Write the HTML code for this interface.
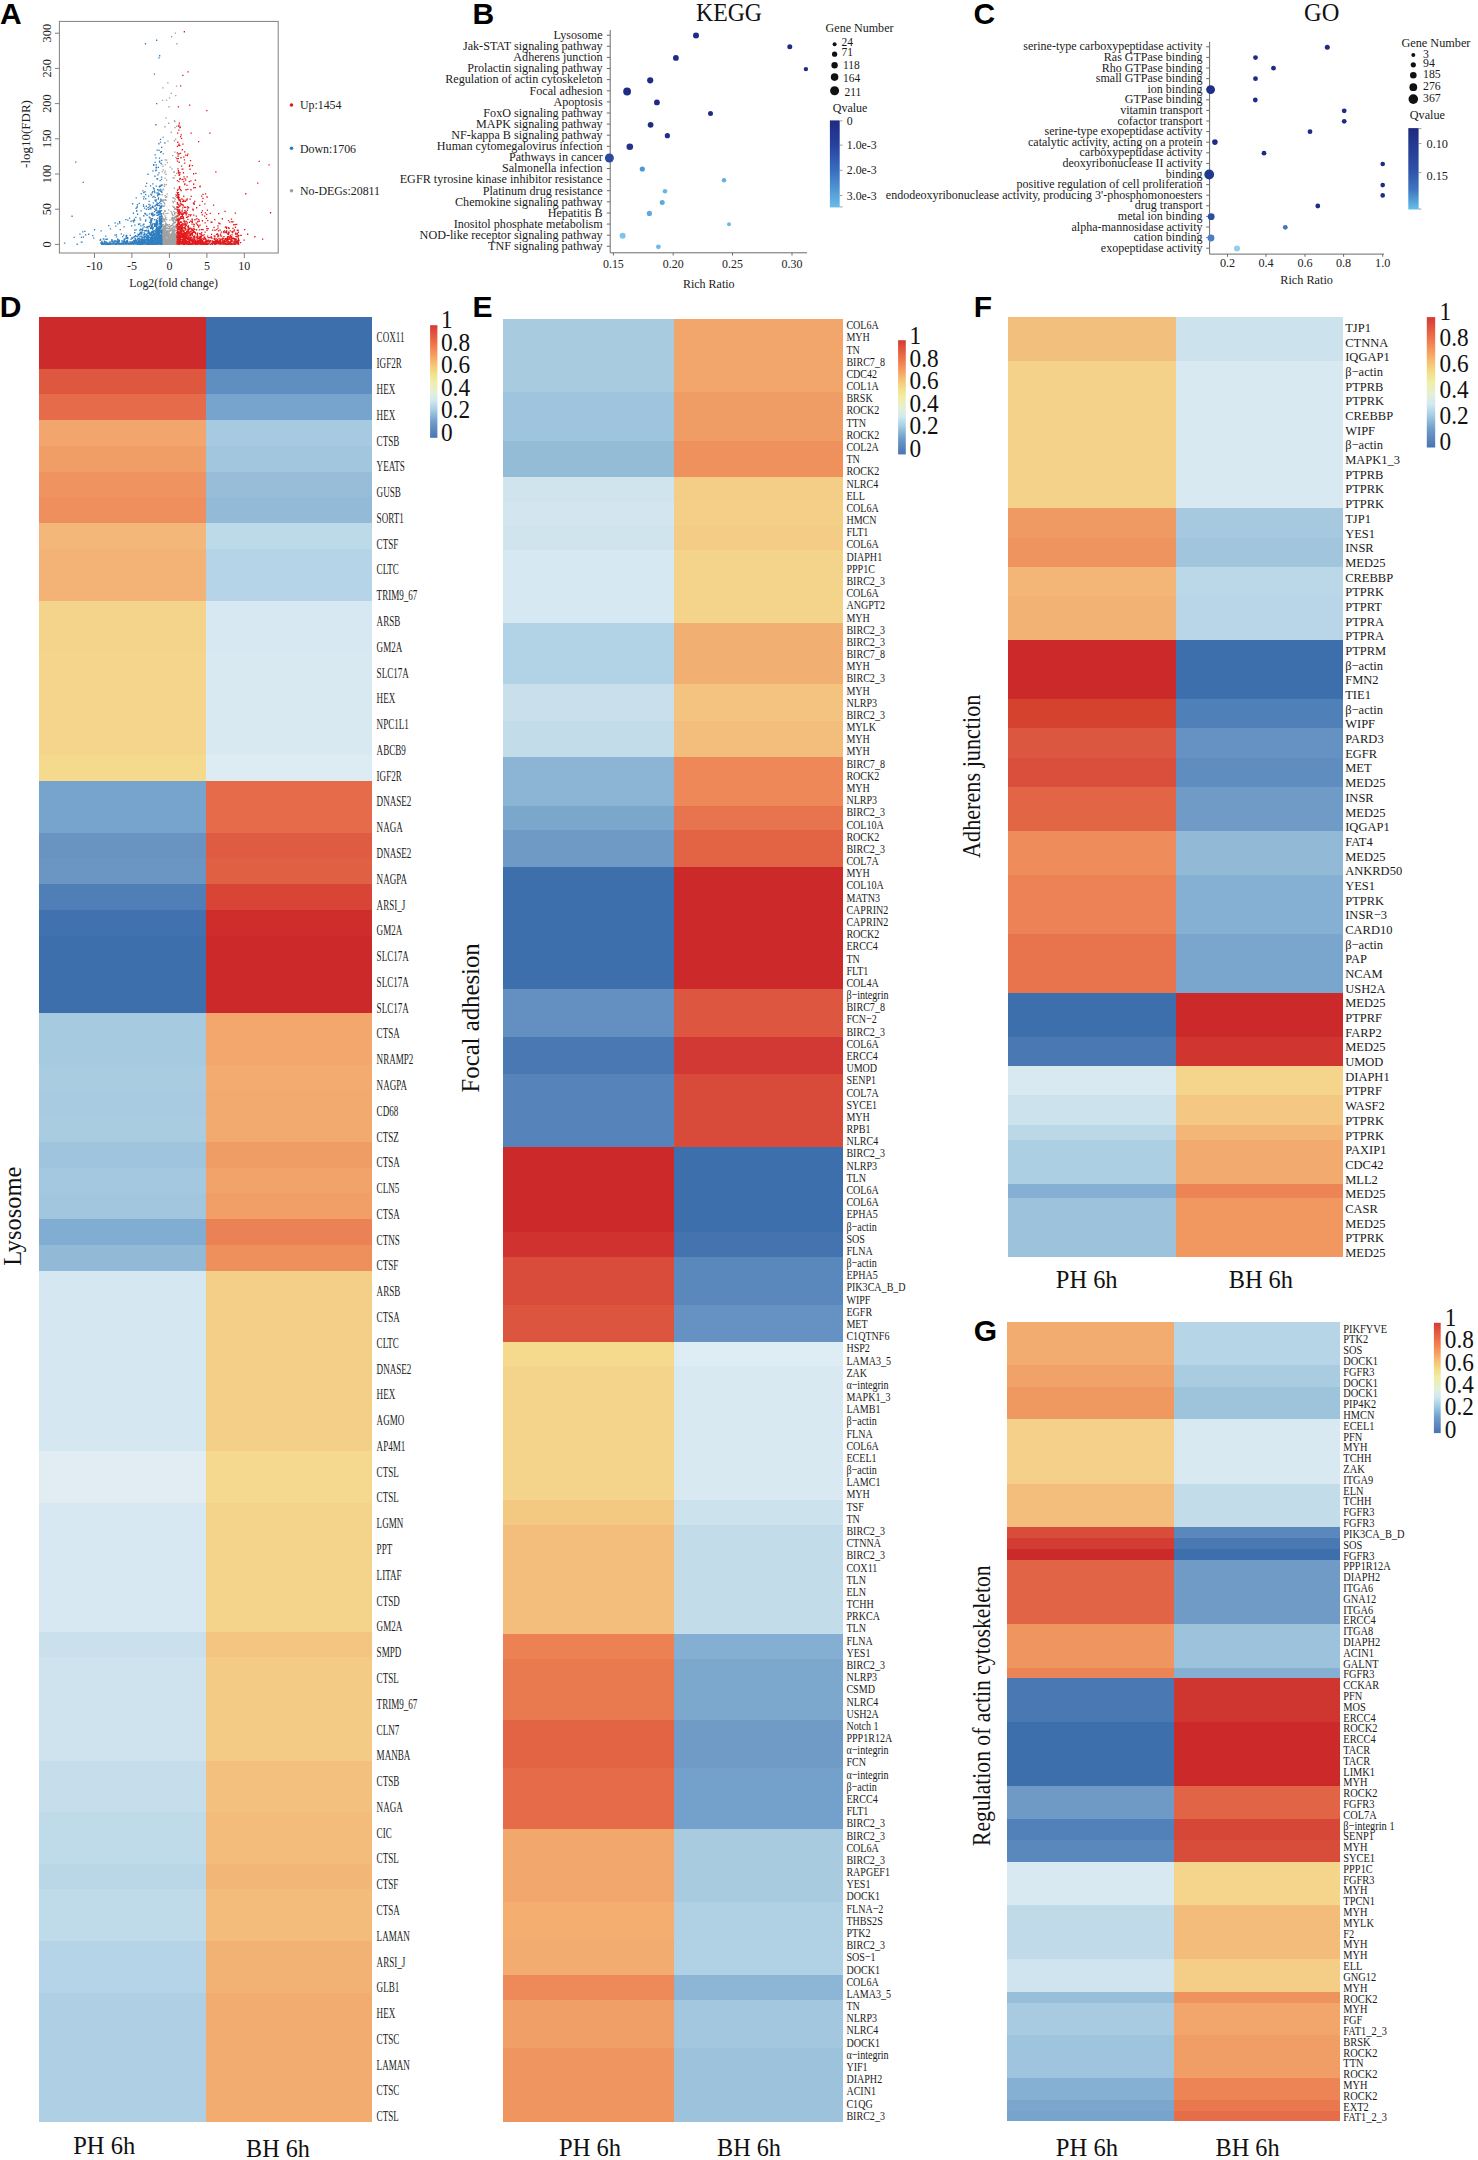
<!DOCTYPE html>
<html><head><meta charset="utf-8"><style>html,body{margin:0;padding:0;background:#fff;width:1478px;height:2160px;overflow:hidden}</style></head>
<body>
<svg width="1478" height="2160" viewBox="0 0 1478 2160" style="display:block;font-family:'Liberation Serif', serif">
<rect width="1478" height="2160" fill="#fff"/>
<rect x="59.4" y="21.4" width="218.8" height="231.6" fill="none" stroke="#808080" stroke-width="1"/>
<line x1="54.9" y1="244.4" x2="59.4" y2="244.4" stroke="#808080" stroke-width="1"/>
<text transform="translate(51.4,244.4) rotate(-90)" font-size="12.3" text-anchor="middle" fill="#222">0</text>
<line x1="54.9" y1="209.2" x2="59.4" y2="209.2" stroke="#808080" stroke-width="1"/>
<text transform="translate(51.4,209.2) rotate(-90)" font-size="12.3" text-anchor="middle" fill="#222">50</text>
<line x1="54.9" y1="174.0" x2="59.4" y2="174.0" stroke="#808080" stroke-width="1"/>
<text transform="translate(51.4,174.0) rotate(-90)" font-size="12.3" text-anchor="middle" fill="#222">100</text>
<line x1="54.9" y1="138.8" x2="59.4" y2="138.8" stroke="#808080" stroke-width="1"/>
<text transform="translate(51.4,138.8) rotate(-90)" font-size="12.3" text-anchor="middle" fill="#222">150</text>
<line x1="54.9" y1="103.6" x2="59.4" y2="103.6" stroke="#808080" stroke-width="1"/>
<text transform="translate(51.4,103.6) rotate(-90)" font-size="12.3" text-anchor="middle" fill="#222">200</text>
<line x1="54.9" y1="68.4" x2="59.4" y2="68.4" stroke="#808080" stroke-width="1"/>
<text transform="translate(51.4,68.4) rotate(-90)" font-size="12.3" text-anchor="middle" fill="#222">250</text>
<line x1="54.9" y1="33.2" x2="59.4" y2="33.2" stroke="#808080" stroke-width="1"/>
<text transform="translate(51.4,33.2) rotate(-90)" font-size="12.3" text-anchor="middle" fill="#222">300</text>
<line x1="94.5" y1="253.0" x2="94.5" y2="258.0" stroke="#808080" stroke-width="1"/>
<text x="94.5" y="270.2" font-size="12" text-anchor="middle" fill="#222">-10</text>
<line x1="131.9" y1="253.0" x2="131.9" y2="258.0" stroke="#808080" stroke-width="1"/>
<text x="131.9" y="270.2" font-size="12" text-anchor="middle" fill="#222">-5</text>
<line x1="169.4" y1="253.0" x2="169.4" y2="258.0" stroke="#808080" stroke-width="1"/>
<text x="169.4" y="270.2" font-size="12" text-anchor="middle" fill="#222">0</text>
<line x1="206.9" y1="253.0" x2="206.9" y2="258.0" stroke="#808080" stroke-width="1"/>
<text x="206.9" y="270.2" font-size="12" text-anchor="middle" fill="#222">5</text>
<line x1="244.3" y1="253.0" x2="244.3" y2="258.0" stroke="#808080" stroke-width="1"/>
<text x="244.3" y="270.2" font-size="12" text-anchor="middle" fill="#222">10</text>
<text x="173.6" y="286.8" font-size="11.9" text-anchor="middle" fill="#222">Log2(fold change)</text>
<text transform="translate(29.6,134) rotate(-90)" font-size="13" text-anchor="middle" fill="#222">-log10(FDR)</text>
<circle cx="291.5" cy="105" r="1.8" fill="#E31A1C"/>
<text x="299.9" y="109.3" font-size="11.9" text-anchor="start" fill="#222">Up:1454</text>
<circle cx="291.5" cy="148.3" r="1.8" fill="#2F7EC0"/>
<text x="299.9" y="152.6" font-size="11.9" text-anchor="start" fill="#222">Down:1706</text>
<circle cx="291.5" cy="190.8" r="1.8" fill="#A0A0A0"/>
<text x="299.9" y="195.1" font-size="11.9" text-anchor="start" fill="#222">No-DEGs:20811</text>
<rect x="103" y="242.6" width="135.5" height="2.2" fill="#A8A8A8"/>
<path d="M166.1 242.7h1.3v1.3h-1.3zM171.0 243.3h1.3v1.3h-1.3zM169.3 240.9h1.3v1.3h-1.3zM162.1 239.3h1.3v1.3h-1.3zM161.8 240.1h1.3v1.3h-1.3zM162.3 243.1h1.3v1.3h-1.3zM167.6 232.6h1.3v1.3h-1.3zM163.1 242.1h1.3v1.3h-1.3zM170.7 225.1h1.3v1.3h-1.3zM169.9 240.5h1.3v1.3h-1.3zM175.9 243.4h1.3v1.3h-1.3zM174.1 241.6h1.3v1.3h-1.3zM163.4 243.0h1.3v1.3h-1.3zM165.9 233.0h1.3v1.3h-1.3zM164.0 238.2h1.3v1.3h-1.3zM170.8 240.8h1.3v1.3h-1.3zM169.5 243.3h1.3v1.3h-1.3zM162.2 242.3h1.3v1.3h-1.3zM171.5 240.2h1.3v1.3h-1.3zM166.0 238.2h1.3v1.3h-1.3zM168.0 241.5h1.3v1.3h-1.3zM173.2 236.1h1.3v1.3h-1.3zM164.9 238.3h1.3v1.3h-1.3zM169.1 230.6h1.3v1.3h-1.3zM172.2 241.6h1.3v1.3h-1.3zM175.9 243.0h1.3v1.3h-1.3zM167.5 234.8h1.3v1.3h-1.3zM163.5 239.5h1.3v1.3h-1.3zM161.8 236.8h1.3v1.3h-1.3zM172.7 238.4h1.3v1.3h-1.3zM174.4 241.4h1.3v1.3h-1.3zM171.7 238.0h1.3v1.3h-1.3zM169.9 239.9h1.3v1.3h-1.3zM173.8 225.4h1.3v1.3h-1.3zM168.4 236.8h1.3v1.3h-1.3zM162.2 236.1h1.3v1.3h-1.3zM171.0 212.2h1.3v1.3h-1.3zM173.6 241.6h1.3v1.3h-1.3zM167.0 236.8h1.3v1.3h-1.3zM161.6 239.8h1.3v1.3h-1.3zM163.8 243.0h1.3v1.3h-1.3zM162.1 234.5h1.3v1.3h-1.3zM163.2 241.9h1.3v1.3h-1.3zM167.1 230.8h1.3v1.3h-1.3zM162.5 240.0h1.3v1.3h-1.3zM169.5 230.1h1.3v1.3h-1.3zM173.5 231.1h1.3v1.3h-1.3zM165.4 240.3h1.3v1.3h-1.3zM166.6 230.1h1.3v1.3h-1.3zM175.6 242.7h1.3v1.3h-1.3zM163.9 242.1h1.3v1.3h-1.3zM164.8 239.5h1.3v1.3h-1.3zM170.1 241.8h1.3v1.3h-1.3zM161.3 240.3h1.3v1.3h-1.3zM166.8 238.5h1.3v1.3h-1.3zM175.5 236.3h1.3v1.3h-1.3zM169.0 237.7h1.3v1.3h-1.3zM171.4 243.4h1.3v1.3h-1.3zM174.7 234.2h1.3v1.3h-1.3zM174.4 233.6h1.3v1.3h-1.3zM167.1 240.5h1.3v1.3h-1.3zM162.8 237.4h1.3v1.3h-1.3zM162.2 243.3h1.3v1.3h-1.3zM164.4 242.6h1.3v1.3h-1.3zM166.4 243.4h1.3v1.3h-1.3zM161.3 242.7h1.3v1.3h-1.3zM162.8 240.9h1.3v1.3h-1.3zM161.6 230.6h1.3v1.3h-1.3zM170.5 242.7h1.3v1.3h-1.3zM165.0 241.0h1.3v1.3h-1.3zM166.7 242.9h1.3v1.3h-1.3zM174.0 212.2h1.3v1.3h-1.3zM168.2 239.6h1.3v1.3h-1.3zM162.5 243.1h1.3v1.3h-1.3zM166.4 241.8h1.3v1.3h-1.3zM173.7 242.6h1.3v1.3h-1.3zM161.6 224.6h1.3v1.3h-1.3zM169.2 242.7h1.3v1.3h-1.3zM169.4 243.6h1.3v1.3h-1.3zM169.2 219.4h1.3v1.3h-1.3zM174.2 236.2h1.3v1.3h-1.3zM165.2 240.9h1.3v1.3h-1.3zM163.8 234.4h1.3v1.3h-1.3zM169.2 234.2h1.3v1.3h-1.3zM166.2 242.2h1.3v1.3h-1.3zM173.4 217.2h1.3v1.3h-1.3zM174.0 233.4h1.3v1.3h-1.3zM173.5 235.2h1.3v1.3h-1.3zM164.7 239.1h1.3v1.3h-1.3zM166.6 243.6h1.3v1.3h-1.3zM161.7 241.7h1.3v1.3h-1.3zM165.1 236.3h1.3v1.3h-1.3zM175.6 240.0h1.3v1.3h-1.3zM175.3 215.7h1.3v1.3h-1.3zM175.6 240.9h1.3v1.3h-1.3zM164.6 242.1h1.3v1.3h-1.3zM164.2 242.3h1.3v1.3h-1.3zM170.6 229.1h1.3v1.3h-1.3zM173.8 239.6h1.3v1.3h-1.3zM171.0 233.6h1.3v1.3h-1.3zM162.5 236.9h1.3v1.3h-1.3zM174.9 234.1h1.3v1.3h-1.3zM172.5 239.6h1.3v1.3h-1.3zM163.9 233.9h1.3v1.3h-1.3zM166.2 233.5h1.3v1.3h-1.3zM175.8 240.6h1.3v1.3h-1.3zM167.3 225.2h1.3v1.3h-1.3zM172.1 242.6h1.3v1.3h-1.3zM163.2 242.7h1.3v1.3h-1.3zM174.8 233.3h1.3v1.3h-1.3zM163.4 232.7h1.3v1.3h-1.3zM175.9 237.0h1.3v1.3h-1.3zM166.5 238.7h1.3v1.3h-1.3zM163.2 243.7h1.3v1.3h-1.3zM175.8 237.1h1.3v1.3h-1.3zM169.1 226.6h1.3v1.3h-1.3zM167.8 230.7h1.3v1.3h-1.3zM173.6 242.2h1.3v1.3h-1.3zM165.0 241.6h1.3v1.3h-1.3zM164.9 238.2h1.3v1.3h-1.3zM165.1 240.3h1.3v1.3h-1.3zM163.2 228.5h1.3v1.3h-1.3zM166.6 239.9h1.3v1.3h-1.3zM170.0 228.9h1.3v1.3h-1.3zM167.6 227.9h1.3v1.3h-1.3zM168.8 238.9h1.3v1.3h-1.3zM169.1 243.6h1.3v1.3h-1.3zM167.9 242.5h1.3v1.3h-1.3zM161.3 233.6h1.3v1.3h-1.3zM163.8 239.7h1.3v1.3h-1.3zM172.1 238.6h1.3v1.3h-1.3zM166.1 239.1h1.3v1.3h-1.3zM169.6 234.0h1.3v1.3h-1.3zM162.8 238.5h1.3v1.3h-1.3zM165.0 241.7h1.3v1.3h-1.3zM172.8 239.3h1.3v1.3h-1.3zM169.7 234.7h1.3v1.3h-1.3zM174.9 240.0h1.3v1.3h-1.3zM170.4 239.3h1.3v1.3h-1.3zM168.9 236.3h1.3v1.3h-1.3zM168.0 238.9h1.3v1.3h-1.3zM168.4 225.8h1.3v1.3h-1.3zM171.7 230.5h1.3v1.3h-1.3zM175.4 241.8h1.3v1.3h-1.3zM169.6 225.6h1.3v1.3h-1.3zM173.8 242.8h1.3v1.3h-1.3zM163.1 240.1h1.3v1.3h-1.3zM162.3 242.0h1.3v1.3h-1.3zM162.4 236.7h1.3v1.3h-1.3zM173.0 229.3h1.3v1.3h-1.3zM163.6 235.8h1.3v1.3h-1.3zM171.2 242.8h1.3v1.3h-1.3zM174.5 222.0h1.3v1.3h-1.3zM164.5 224.4h1.3v1.3h-1.3zM167.2 239.5h1.3v1.3h-1.3zM176.1 232.4h1.3v1.3h-1.3zM163.7 240.2h1.3v1.3h-1.3zM169.0 241.1h1.3v1.3h-1.3zM164.2 241.3h1.3v1.3h-1.3zM172.1 243.6h1.3v1.3h-1.3zM169.6 240.1h1.3v1.3h-1.3zM161.5 241.2h1.3v1.3h-1.3zM170.6 239.2h1.3v1.3h-1.3zM162.2 217.1h1.3v1.3h-1.3zM173.1 221.2h1.3v1.3h-1.3zM162.8 241.8h1.3v1.3h-1.3zM161.9 234.2h1.3v1.3h-1.3zM165.3 242.9h1.3v1.3h-1.3zM167.6 228.4h1.3v1.3h-1.3zM173.5 241.9h1.3v1.3h-1.3zM163.5 227.8h1.3v1.3h-1.3zM169.8 236.1h1.3v1.3h-1.3zM162.6 243.4h1.3v1.3h-1.3zM171.6 240.2h1.3v1.3h-1.3zM162.3 226.1h1.3v1.3h-1.3zM170.8 233.5h1.3v1.3h-1.3zM162.5 231.5h1.3v1.3h-1.3zM162.3 231.2h1.3v1.3h-1.3zM168.1 241.1h1.3v1.3h-1.3zM169.5 227.2h1.3v1.3h-1.3zM165.3 242.9h1.3v1.3h-1.3zM169.2 242.0h1.3v1.3h-1.3zM162.9 242.6h1.3v1.3h-1.3zM162.0 242.3h1.3v1.3h-1.3zM165.9 241.4h1.3v1.3h-1.3zM172.6 241.6h1.3v1.3h-1.3zM168.8 242.5h1.3v1.3h-1.3zM166.5 243.6h1.3v1.3h-1.3zM165.0 243.7h1.3v1.3h-1.3zM172.2 238.7h1.3v1.3h-1.3zM164.1 239.7h1.3v1.3h-1.3zM175.3 243.0h1.3v1.3h-1.3zM173.5 240.2h1.3v1.3h-1.3zM168.7 232.3h1.3v1.3h-1.3zM167.1 239.3h1.3v1.3h-1.3zM171.6 218.1h1.3v1.3h-1.3zM166.4 232.4h1.3v1.3h-1.3zM171.8 237.3h1.3v1.3h-1.3zM167.3 241.0h1.3v1.3h-1.3zM162.1 242.9h1.3v1.3h-1.3zM162.3 235.2h1.3v1.3h-1.3zM165.1 242.6h1.3v1.3h-1.3zM162.5 232.1h1.3v1.3h-1.3zM174.3 236.7h1.3v1.3h-1.3zM165.5 242.0h1.3v1.3h-1.3zM165.7 239.9h1.3v1.3h-1.3zM163.6 240.0h1.3v1.3h-1.3zM165.2 223.1h1.3v1.3h-1.3zM175.8 238.7h1.3v1.3h-1.3zM164.9 222.4h1.3v1.3h-1.3zM165.9 241.0h1.3v1.3h-1.3zM161.3 240.7h1.3v1.3h-1.3zM168.4 239.3h1.3v1.3h-1.3zM164.3 239.3h1.3v1.3h-1.3zM161.3 241.8h1.3v1.3h-1.3zM162.6 240.5h1.3v1.3h-1.3zM161.9 243.6h1.3v1.3h-1.3zM165.8 242.1h1.3v1.3h-1.3zM170.0 239.0h1.3v1.3h-1.3zM172.5 237.0h1.3v1.3h-1.3zM172.0 230.4h1.3v1.3h-1.3zM167.1 241.2h1.3v1.3h-1.3zM176.0 242.7h1.3v1.3h-1.3zM172.1 237.2h1.3v1.3h-1.3zM161.9 232.3h1.3v1.3h-1.3zM174.6 237.5h1.3v1.3h-1.3zM172.3 233.2h1.3v1.3h-1.3zM163.3 239.0h1.3v1.3h-1.3zM168.8 232.3h1.3v1.3h-1.3zM173.3 232.7h1.3v1.3h-1.3zM170.0 229.6h1.3v1.3h-1.3zM171.5 236.3h1.3v1.3h-1.3zM164.7 243.5h1.3v1.3h-1.3zM163.3 240.9h1.3v1.3h-1.3zM162.8 232.3h1.3v1.3h-1.3zM169.6 237.5h1.3v1.3h-1.3zM170.6 236.5h1.3v1.3h-1.3zM168.6 243.7h1.3v1.3h-1.3zM173.2 235.0h1.3v1.3h-1.3zM168.8 238.9h1.3v1.3h-1.3zM171.1 243.3h1.3v1.3h-1.3zM172.3 241.9h1.3v1.3h-1.3zM162.4 241.8h1.3v1.3h-1.3zM172.2 242.3h1.3v1.3h-1.3zM172.3 220.2h1.3v1.3h-1.3zM168.7 240.7h1.3v1.3h-1.3zM168.4 236.5h1.3v1.3h-1.3zM172.7 237.7h1.3v1.3h-1.3zM170.9 243.2h1.3v1.3h-1.3zM163.5 241.9h1.3v1.3h-1.3zM172.4 241.4h1.3v1.3h-1.3zM169.8 243.7h1.3v1.3h-1.3zM162.2 241.8h1.3v1.3h-1.3zM171.3 236.3h1.3v1.3h-1.3zM171.4 241.6h1.3v1.3h-1.3zM169.0 239.8h1.3v1.3h-1.3zM168.2 243.0h1.3v1.3h-1.3zM174.6 242.3h1.3v1.3h-1.3zM175.9 226.3h1.3v1.3h-1.3zM161.5 239.9h1.3v1.3h-1.3zM173.5 221.9h1.3v1.3h-1.3zM168.0 241.8h1.3v1.3h-1.3zM164.4 225.3h1.3v1.3h-1.3zM164.4 238.2h1.3v1.3h-1.3zM163.4 239.0h1.3v1.3h-1.3zM175.5 242.8h1.3v1.3h-1.3zM173.5 239.2h1.3v1.3h-1.3zM174.5 236.1h1.3v1.3h-1.3zM164.7 229.3h1.3v1.3h-1.3zM168.5 243.6h1.3v1.3h-1.3zM161.3 239.5h1.3v1.3h-1.3zM168.0 241.5h1.3v1.3h-1.3zM163.4 241.1h1.3v1.3h-1.3zM166.0 232.1h1.3v1.3h-1.3zM161.3 234.9h1.3v1.3h-1.3zM173.8 242.9h1.3v1.3h-1.3zM175.1 235.8h1.3v1.3h-1.3zM174.8 241.6h1.3v1.3h-1.3zM166.8 240.6h1.3v1.3h-1.3zM176.2 238.1h1.3v1.3h-1.3zM166.7 240.2h1.3v1.3h-1.3zM165.4 243.4h1.3v1.3h-1.3zM162.8 232.3h1.3v1.3h-1.3zM165.5 226.4h1.3v1.3h-1.3zM165.0 241.8h1.3v1.3h-1.3zM168.9 242.4h1.3v1.3h-1.3zM166.9 223.9h1.3v1.3h-1.3zM174.5 233.2h1.3v1.3h-1.3zM170.7 228.2h1.3v1.3h-1.3zM175.4 238.7h1.3v1.3h-1.3zM172.0 243.4h1.3v1.3h-1.3zM172.2 240.0h1.3v1.3h-1.3zM172.5 237.2h1.3v1.3h-1.3zM165.5 243.4h1.3v1.3h-1.3zM175.1 242.9h1.3v1.3h-1.3zM168.3 241.1h1.3v1.3h-1.3zM165.7 235.2h1.3v1.3h-1.3zM175.9 241.8h1.3v1.3h-1.3zM171.1 241.5h1.3v1.3h-1.3zM169.6 240.6h1.3v1.3h-1.3zM163.8 242.6h1.3v1.3h-1.3zM164.4 228.8h1.3v1.3h-1.3zM168.7 242.2h1.3v1.3h-1.3zM174.8 208.0h1.3v1.3h-1.3zM168.0 242.8h1.3v1.3h-1.3zM164.1 243.1h1.3v1.3h-1.3zM166.4 243.1h1.3v1.3h-1.3zM164.8 241.9h1.3v1.3h-1.3zM169.8 229.9h1.3v1.3h-1.3zM172.5 240.4h1.3v1.3h-1.3zM167.5 239.0h1.3v1.3h-1.3zM166.9 241.1h1.3v1.3h-1.3zM162.2 241.7h1.3v1.3h-1.3zM175.8 242.9h1.3v1.3h-1.3zM168.8 237.5h1.3v1.3h-1.3zM174.2 242.2h1.3v1.3h-1.3zM165.3 241.9h1.3v1.3h-1.3zM167.2 240.0h1.3v1.3h-1.3zM175.6 231.8h1.3v1.3h-1.3zM174.3 243.6h1.3v1.3h-1.3zM161.7 235.9h1.3v1.3h-1.3zM174.7 239.7h1.3v1.3h-1.3zM170.1 243.7h1.3v1.3h-1.3zM167.1 227.2h1.3v1.3h-1.3zM173.6 231.5h1.3v1.3h-1.3zM175.8 241.9h1.3v1.3h-1.3zM162.9 242.7h1.3v1.3h-1.3zM169.1 236.5h1.3v1.3h-1.3zM175.4 235.6h1.3v1.3h-1.3zM171.0 234.6h1.3v1.3h-1.3zM168.1 238.7h1.3v1.3h-1.3zM161.9 234.1h1.3v1.3h-1.3zM164.7 227.8h1.3v1.3h-1.3zM170.9 241.5h1.3v1.3h-1.3zM163.2 241.9h1.3v1.3h-1.3zM170.8 236.2h1.3v1.3h-1.3zM162.9 243.3h1.3v1.3h-1.3zM169.1 238.2h1.3v1.3h-1.3zM167.1 242.1h1.3v1.3h-1.3zM170.3 243.7h1.3v1.3h-1.3zM165.8 239.8h1.3v1.3h-1.3zM175.6 237.2h1.3v1.3h-1.3zM174.5 239.7h1.3v1.3h-1.3zM164.8 242.0h1.3v1.3h-1.3zM175.7 236.0h1.3v1.3h-1.3zM165.9 243.6h1.3v1.3h-1.3zM168.7 236.6h1.3v1.3h-1.3zM167.6 241.9h1.3v1.3h-1.3zM171.3 227.3h1.3v1.3h-1.3zM164.7 243.5h1.3v1.3h-1.3zM166.3 240.3h1.3v1.3h-1.3zM171.5 242.4h1.3v1.3h-1.3zM173.2 235.2h1.3v1.3h-1.3zM168.8 242.3h1.3v1.3h-1.3zM175.8 241.4h1.3v1.3h-1.3zM173.5 242.1h1.3v1.3h-1.3zM164.6 234.7h1.3v1.3h-1.3zM165.7 224.5h1.3v1.3h-1.3zM168.7 242.4h1.3v1.3h-1.3zM164.6 240.3h1.3v1.3h-1.3zM171.2 224.9h1.3v1.3h-1.3zM163.5 240.6h1.3v1.3h-1.3zM164.4 220.6h1.3v1.3h-1.3zM163.4 243.4h1.3v1.3h-1.3zM162.2 240.6h1.3v1.3h-1.3zM174.7 230.1h1.3v1.3h-1.3zM172.2 205.7h1.3v1.3h-1.3zM175.2 241.2h1.3v1.3h-1.3zM164.0 226.3h1.3v1.3h-1.3zM172.4 243.5h1.3v1.3h-1.3zM171.2 240.7h1.3v1.3h-1.3zM166.9 241.2h1.3v1.3h-1.3zM163.8 243.7h1.3v1.3h-1.3zM165.5 241.0h1.3v1.3h-1.3zM175.6 242.9h1.3v1.3h-1.3zM175.7 242.3h1.3v1.3h-1.3zM166.6 232.8h1.3v1.3h-1.3zM173.6 240.2h1.3v1.3h-1.3zM162.0 239.7h1.3v1.3h-1.3zM166.8 227.8h1.3v1.3h-1.3zM164.2 240.9h1.3v1.3h-1.3zM174.7 243.6h1.3v1.3h-1.3zM167.4 233.2h1.3v1.3h-1.3zM172.7 243.5h1.3v1.3h-1.3zM161.8 243.3h1.3v1.3h-1.3zM175.0 241.9h1.3v1.3h-1.3zM172.5 229.3h1.3v1.3h-1.3zM166.3 241.7h1.3v1.3h-1.3zM175.6 237.7h1.3v1.3h-1.3zM165.2 235.8h1.3v1.3h-1.3zM166.0 241.7h1.3v1.3h-1.3zM161.3 234.8h1.3v1.3h-1.3zM175.0 237.4h1.3v1.3h-1.3zM175.4 243.6h1.3v1.3h-1.3zM164.8 239.7h1.3v1.3h-1.3zM175.6 224.3h1.3v1.3h-1.3zM167.0 241.9h1.3v1.3h-1.3zM167.7 239.4h1.3v1.3h-1.3zM175.2 242.5h1.3v1.3h-1.3zM173.3 235.3h1.3v1.3h-1.3zM173.6 234.4h1.3v1.3h-1.3zM170.4 241.2h1.3v1.3h-1.3zM166.0 240.9h1.3v1.3h-1.3zM173.0 243.2h1.3v1.3h-1.3zM164.2 234.9h1.3v1.3h-1.3zM165.0 243.3h1.3v1.3h-1.3zM161.8 238.7h1.3v1.3h-1.3zM166.1 218.9h1.3v1.3h-1.3zM174.5 215.8h1.3v1.3h-1.3zM165.2 243.2h1.3v1.3h-1.3zM162.7 239.4h1.3v1.3h-1.3zM171.9 240.0h1.3v1.3h-1.3zM164.8 240.3h1.3v1.3h-1.3zM170.6 236.6h1.3v1.3h-1.3zM172.5 231.9h1.3v1.3h-1.3zM171.2 242.9h1.3v1.3h-1.3zM173.9 241.5h1.3v1.3h-1.3zM169.8 240.8h1.3v1.3h-1.3zM172.3 242.3h1.3v1.3h-1.3zM165.0 242.0h1.3v1.3h-1.3zM163.6 230.1h1.3v1.3h-1.3zM169.9 241.2h1.3v1.3h-1.3zM167.2 212.8h1.3v1.3h-1.3zM168.9 242.1h1.3v1.3h-1.3zM173.4 237.0h1.3v1.3h-1.3zM176.1 243.1h1.3v1.3h-1.3zM168.4 232.9h1.3v1.3h-1.3zM173.9 228.2h1.3v1.3h-1.3zM161.9 241.5h1.3v1.3h-1.3zM163.0 242.4h1.3v1.3h-1.3zM175.8 238.2h1.3v1.3h-1.3zM175.2 240.8h1.3v1.3h-1.3zM174.2 240.0h1.3v1.3h-1.3zM165.2 234.2h1.3v1.3h-1.3zM175.4 243.0h1.3v1.3h-1.3zM170.2 237.6h1.3v1.3h-1.3zM164.5 240.8h1.3v1.3h-1.3zM163.4 242.3h1.3v1.3h-1.3zM165.1 238.0h1.3v1.3h-1.3zM171.0 242.3h1.3v1.3h-1.3zM161.4 241.2h1.3v1.3h-1.3zM171.4 242.5h1.3v1.3h-1.3zM165.9 242.3h1.3v1.3h-1.3zM173.2 238.7h1.3v1.3h-1.3zM162.2 243.1h1.3v1.3h-1.3zM167.2 238.7h1.3v1.3h-1.3zM170.8 243.1h1.3v1.3h-1.3zM163.7 236.2h1.3v1.3h-1.3zM167.4 241.6h1.3v1.3h-1.3zM165.9 224.4h1.3v1.3h-1.3zM165.9 238.5h1.3v1.3h-1.3zM166.6 240.3h1.3v1.3h-1.3zM174.2 207.7h1.3v1.3h-1.3zM166.7 242.4h1.3v1.3h-1.3zM172.2 242.3h1.3v1.3h-1.3zM161.3 229.1h1.3v1.3h-1.3zM167.6 232.9h1.3v1.3h-1.3zM167.3 230.2h1.3v1.3h-1.3zM168.2 242.6h1.3v1.3h-1.3zM161.5 238.7h1.3v1.3h-1.3zM170.9 228.5h1.3v1.3h-1.3zM162.6 237.6h1.3v1.3h-1.3zM166.8 239.3h1.3v1.3h-1.3zM163.4 241.6h1.3v1.3h-1.3zM169.1 227.3h1.3v1.3h-1.3zM162.9 239.5h1.3v1.3h-1.3zM173.3 222.2h1.3v1.3h-1.3zM164.2 242.9h1.3v1.3h-1.3zM175.4 220.2h1.3v1.3h-1.3zM168.5 243.4h1.3v1.3h-1.3zM175.1 240.6h1.3v1.3h-1.3zM174.8 237.6h1.3v1.3h-1.3zM173.6 242.6h1.3v1.3h-1.3zM173.0 242.2h1.3v1.3h-1.3zM167.3 231.9h1.3v1.3h-1.3zM173.7 242.5h1.3v1.3h-1.3zM164.5 240.5h1.3v1.3h-1.3zM169.0 240.7h1.3v1.3h-1.3zM163.1 242.0h1.3v1.3h-1.3zM172.1 229.3h1.3v1.3h-1.3zM161.9 238.5h1.3v1.3h-1.3zM172.6 243.5h1.3v1.3h-1.3zM173.8 243.0h1.3v1.3h-1.3zM170.2 238.7h1.3v1.3h-1.3zM170.7 241.4h1.3v1.3h-1.3zM167.6 238.2h1.3v1.3h-1.3zM167.6 236.9h1.3v1.3h-1.3zM168.0 240.1h1.3v1.3h-1.3zM161.6 237.6h1.3v1.3h-1.3zM168.6 242.1h1.3v1.3h-1.3zM172.7 234.2h1.3v1.3h-1.3zM168.1 242.5h1.3v1.3h-1.3zM168.3 243.0h1.3v1.3h-1.3zM163.2 240.2h1.3v1.3h-1.3zM162.6 240.1h1.3v1.3h-1.3zM168.9 243.5h1.3v1.3h-1.3zM170.8 243.2h1.3v1.3h-1.3zM172.2 234.2h1.3v1.3h-1.3zM168.9 243.4h1.3v1.3h-1.3zM168.8 240.7h1.3v1.3h-1.3zM175.5 242.8h1.3v1.3h-1.3zM174.1 208.6h1.3v1.3h-1.3zM172.2 233.1h1.3v1.3h-1.3zM164.2 218.4h1.3v1.3h-1.3zM168.6 223.9h1.3v1.3h-1.3zM175.0 242.6h1.3v1.3h-1.3zM173.1 226.8h1.3v1.3h-1.3zM162.2 241.0h1.3v1.3h-1.3zM172.6 242.7h1.3v1.3h-1.3zM174.7 241.7h1.3v1.3h-1.3zM173.5 242.8h1.3v1.3h-1.3zM168.8 227.8h1.3v1.3h-1.3zM164.4 241.8h1.3v1.3h-1.3zM168.8 241.3h1.3v1.3h-1.3zM161.8 242.5h1.3v1.3h-1.3zM163.7 226.3h1.3v1.3h-1.3zM171.4 229.4h1.3v1.3h-1.3zM163.8 234.0h1.3v1.3h-1.3zM163.0 239.0h1.3v1.3h-1.3zM170.8 240.9h1.3v1.3h-1.3zM174.3 238.6h1.3v1.3h-1.3zM169.9 230.2h1.3v1.3h-1.3zM162.8 212.4h1.3v1.3h-1.3zM170.7 240.6h1.3v1.3h-1.3zM173.2 241.8h1.3v1.3h-1.3zM176.1 238.3h1.3v1.3h-1.3zM166.7 234.6h1.3v1.3h-1.3zM167.9 242.5h1.3v1.3h-1.3zM172.4 243.4h1.3v1.3h-1.3zM173.5 241.9h1.3v1.3h-1.3zM170.8 217.5h1.3v1.3h-1.3zM170.0 236.8h1.3v1.3h-1.3zM165.9 243.7h1.3v1.3h-1.3zM161.8 242.7h1.3v1.3h-1.3zM170.5 240.2h1.3v1.3h-1.3zM168.9 229.4h1.3v1.3h-1.3zM163.2 242.1h1.3v1.3h-1.3zM171.0 243.6h1.3v1.3h-1.3zM161.3 241.0h1.3v1.3h-1.3zM162.9 241.0h1.3v1.3h-1.3zM164.6 238.2h1.3v1.3h-1.3zM170.1 242.3h1.3v1.3h-1.3zM170.6 239.7h1.3v1.3h-1.3zM163.3 226.3h1.3v1.3h-1.3zM164.9 242.7h1.3v1.3h-1.3zM162.7 237.3h1.3v1.3h-1.3zM174.3 234.1h1.3v1.3h-1.3zM167.3 241.8h1.3v1.3h-1.3zM161.4 237.2h1.3v1.3h-1.3zM169.7 241.0h1.3v1.3h-1.3zM170.9 240.0h1.3v1.3h-1.3zM175.3 235.4h1.3v1.3h-1.3zM165.0 228.9h1.3v1.3h-1.3zM161.9 238.9h1.3v1.3h-1.3zM167.3 242.0h1.3v1.3h-1.3zM162.1 234.2h1.3v1.3h-1.3zM161.4 238.7h1.3v1.3h-1.3zM175.4 242.8h1.3v1.3h-1.3zM164.2 237.8h1.3v1.3h-1.3zM168.9 237.2h1.3v1.3h-1.3zM173.4 242.5h1.3v1.3h-1.3zM165.9 241.5h1.3v1.3h-1.3zM162.0 229.8h1.3v1.3h-1.3zM173.0 235.8h1.3v1.3h-1.3zM161.4 232.0h1.3v1.3h-1.3zM172.4 239.8h1.3v1.3h-1.3zM172.4 239.9h1.3v1.3h-1.3zM164.6 243.0h1.3v1.3h-1.3zM164.7 243.5h1.3v1.3h-1.3zM166.3 235.0h1.3v1.3h-1.3zM171.7 231.9h1.3v1.3h-1.3zM171.9 241.8h1.3v1.3h-1.3zM169.6 240.1h1.3v1.3h-1.3zM173.1 239.1h1.3v1.3h-1.3zM165.2 237.2h1.3v1.3h-1.3zM175.7 242.2h1.3v1.3h-1.3zM174.4 243.7h1.3v1.3h-1.3zM165.2 242.0h1.3v1.3h-1.3zM172.4 225.4h1.3v1.3h-1.3zM172.4 241.2h1.3v1.3h-1.3zM174.4 241.2h1.3v1.3h-1.3zM164.8 228.7h1.3v1.3h-1.3zM170.7 236.3h1.3v1.3h-1.3zM171.2 219.3h1.3v1.3h-1.3zM168.3 232.2h1.3v1.3h-1.3zM171.7 231.4h1.3v1.3h-1.3zM167.8 235.6h1.3v1.3h-1.3zM169.8 241.4h1.3v1.3h-1.3zM164.4 237.6h1.3v1.3h-1.3zM162.4 228.4h1.3v1.3h-1.3zM163.4 243.6h1.3v1.3h-1.3zM162.9 227.0h1.3v1.3h-1.3zM166.4 242.8h1.3v1.3h-1.3zM161.7 243.5h1.3v1.3h-1.3zM171.6 237.4h1.3v1.3h-1.3zM171.7 235.3h1.3v1.3h-1.3zM162.2 238.1h1.3v1.3h-1.3zM166.7 233.0h1.3v1.3h-1.3zM173.5 229.7h1.3v1.3h-1.3zM162.2 230.9h1.3v1.3h-1.3zM175.0 225.5h1.3v1.3h-1.3zM162.9 242.3h1.3v1.3h-1.3zM162.9 243.5h1.3v1.3h-1.3zM174.0 233.2h1.3v1.3h-1.3zM170.8 232.7h1.3v1.3h-1.3zM170.7 241.6h1.3v1.3h-1.3zM162.8 243.1h1.3v1.3h-1.3zM172.6 242.3h1.3v1.3h-1.3zM166.0 240.3h1.3v1.3h-1.3zM161.6 241.9h1.3v1.3h-1.3zM165.5 235.8h1.3v1.3h-1.3zM166.8 241.3h1.3v1.3h-1.3zM175.7 239.3h1.3v1.3h-1.3zM174.0 237.6h1.3v1.3h-1.3zM161.7 240.4h1.3v1.3h-1.3zM167.8 234.4h1.3v1.3h-1.3zM166.5 236.0h1.3v1.3h-1.3zM169.3 242.2h1.3v1.3h-1.3zM174.2 243.1h1.3v1.3h-1.3zM173.5 242.6h1.3v1.3h-1.3zM161.3 242.3h1.3v1.3h-1.3zM172.7 219.6h1.3v1.3h-1.3zM161.3 239.5h1.3v1.3h-1.3zM168.6 233.7h1.3v1.3h-1.3zM164.0 239.4h1.3v1.3h-1.3zM166.5 232.5h1.3v1.3h-1.3zM165.2 225.5h1.3v1.3h-1.3zM165.5 242.2h1.3v1.3h-1.3zM171.7 239.4h1.3v1.3h-1.3zM162.9 237.3h1.3v1.3h-1.3zM162.5 233.9h1.3v1.3h-1.3zM171.7 234.0h1.3v1.3h-1.3zM170.7 241.0h1.3v1.3h-1.3zM167.3 240.6h1.3v1.3h-1.3zM174.6 243.2h1.3v1.3h-1.3zM174.6 243.6h1.3v1.3h-1.3zM164.3 241.8h1.3v1.3h-1.3zM174.8 239.3h1.3v1.3h-1.3zM166.9 230.1h1.3v1.3h-1.3zM164.8 239.8h1.3v1.3h-1.3zM169.2 234.9h1.3v1.3h-1.3zM172.5 237.2h1.3v1.3h-1.3zM166.5 241.2h1.3v1.3h-1.3zM163.6 232.0h1.3v1.3h-1.3zM171.2 235.2h1.3v1.3h-1.3zM163.8 240.1h1.3v1.3h-1.3zM172.8 238.3h1.3v1.3h-1.3zM163.1 239.8h1.3v1.3h-1.3zM174.5 242.0h1.3v1.3h-1.3zM164.1 241.5h1.3v1.3h-1.3zM162.6 153.1h1.3v1.3h-1.3zM174.3 233.2h1.3v1.3h-1.3zM164.5 238.6h1.3v1.3h-1.3zM165.3 217.3h1.3v1.3h-1.3zM164.3 142.1h1.3v1.3h-1.3zM174.9 229.7h1.3v1.3h-1.3zM165.6 184.0h1.3v1.3h-1.3zM172.4 231.6h1.3v1.3h-1.3zM166.1 196.3h1.3v1.3h-1.3zM174.7 226.6h1.3v1.3h-1.3zM173.6 240.0h1.3v1.3h-1.3zM171.4 236.9h1.3v1.3h-1.3zM174.8 221.9h1.3v1.3h-1.3zM175.5 216.6h1.3v1.3h-1.3zM162.8 218.5h1.3v1.3h-1.3zM173.5 236.3h1.3v1.3h-1.3zM161.8 236.9h1.3v1.3h-1.3zM174.8 219.3h1.3v1.3h-1.3zM175.5 227.5h1.3v1.3h-1.3zM163.1 230.8h1.3v1.3h-1.3zM161.8 234.0h1.3v1.3h-1.3zM164.2 227.2h1.3v1.3h-1.3zM165.9 224.4h1.3v1.3h-1.3zM162.6 169.3h1.3v1.3h-1.3zM163.6 241.1h1.3v1.3h-1.3zM174.0 212.6h1.3v1.3h-1.3zM163.0 200.2h1.3v1.3h-1.3zM173.4 170.9h1.3v1.3h-1.3zM161.3 238.7h1.3v1.3h-1.3zM162.6 220.3h1.3v1.3h-1.3zM164.9 231.9h1.3v1.3h-1.3zM166.1 230.4h1.3v1.3h-1.3zM174.4 216.1h1.3v1.3h-1.3zM171.9 234.8h1.3v1.3h-1.3zM175.9 225.3h1.3v1.3h-1.3zM161.3 163.9h1.3v1.3h-1.3zM172.4 240.3h1.3v1.3h-1.3zM162.2 219.0h1.3v1.3h-1.3zM174.5 212.3h1.3v1.3h-1.3zM164.4 218.7h1.3v1.3h-1.3zM173.7 235.2h1.3v1.3h-1.3zM162.3 228.1h1.3v1.3h-1.3zM164.8 232.1h1.3v1.3h-1.3zM176.2 215.8h1.3v1.3h-1.3zM171.4 212.2h1.3v1.3h-1.3zM173.1 217.6h1.3v1.3h-1.3zM173.7 230.0h1.3v1.3h-1.3zM162.9 232.7h1.3v1.3h-1.3zM175.5 242.3h1.3v1.3h-1.3zM175.2 240.0h1.3v1.3h-1.3zM174.5 243.4h1.3v1.3h-1.3zM165.1 241.9h1.3v1.3h-1.3zM172.6 241.1h1.3v1.3h-1.3zM162.0 238.7h1.3v1.3h-1.3zM173.1 239.7h1.3v1.3h-1.3zM175.2 239.2h1.3v1.3h-1.3zM162.9 188.5h1.3v1.3h-1.3zM172.3 214.7h1.3v1.3h-1.3zM162.5 229.5h1.3v1.3h-1.3zM163.4 236.2h1.3v1.3h-1.3zM162.1 228.0h1.3v1.3h-1.3zM163.8 185.6h1.3v1.3h-1.3zM172.6 239.3h1.3v1.3h-1.3zM165.3 234.2h1.3v1.3h-1.3zM174.6 198.5h1.3v1.3h-1.3zM165.2 232.7h1.3v1.3h-1.3zM166.0 242.6h1.3v1.3h-1.3zM175.3 241.3h1.3v1.3h-1.3zM173.7 187.6h1.3v1.3h-1.3zM165.1 230.5h1.3v1.3h-1.3zM164.5 195.0h1.3v1.3h-1.3zM173.0 206.6h1.3v1.3h-1.3zM164.7 233.4h1.3v1.3h-1.3zM174.1 200.6h1.3v1.3h-1.3zM173.1 227.0h1.3v1.3h-1.3zM173.8 235.9h1.3v1.3h-1.3zM176.1 217.6h1.3v1.3h-1.3zM164.5 234.4h1.3v1.3h-1.3zM172.0 155.0h1.3v1.3h-1.3zM162.3 242.7h1.3v1.3h-1.3zM174.0 242.5h1.3v1.3h-1.3zM171.9 242.6h1.3v1.3h-1.3zM174.3 217.3h1.3v1.3h-1.3zM174.4 219.5h1.3v1.3h-1.3zM165.1 216.7h1.3v1.3h-1.3zM174.4 239.0h1.3v1.3h-1.3zM161.9 230.3h1.3v1.3h-1.3zM161.7 217.5h1.3v1.3h-1.3zM175.6 240.1h1.3v1.3h-1.3zM174.1 236.4h1.3v1.3h-1.3zM172.3 242.9h1.3v1.3h-1.3zM164.0 218.5h1.3v1.3h-1.3zM163.7 225.6h1.3v1.3h-1.3zM162.4 230.3h1.3v1.3h-1.3zM173.5 243.4h1.3v1.3h-1.3zM174.3 121.0h1.3v1.3h-1.3zM163.8 230.6h1.3v1.3h-1.3zM165.7 228.0h1.3v1.3h-1.3zM163.1 230.0h1.3v1.3h-1.3zM162.8 240.6h1.3v1.3h-1.3zM165.1 240.6h1.3v1.3h-1.3zM171.5 212.4h1.3v1.3h-1.3zM163.9 210.2h1.3v1.3h-1.3zM164.3 209.9h1.3v1.3h-1.3zM162.6 241.6h1.3v1.3h-1.3zM173.6 177.4h1.3v1.3h-1.3zM175.8 242.4h1.3v1.3h-1.3zM166.1 243.4h1.3v1.3h-1.3zM164.2 234.5h1.3v1.3h-1.3zM161.5 199.4h1.3v1.3h-1.3zM164.6 170.5h1.3v1.3h-1.3zM173.7 239.3h1.3v1.3h-1.3zM164.4 218.2h1.3v1.3h-1.3zM173.7 206.7h1.3v1.3h-1.3zM176.0 205.9h1.3v1.3h-1.3zM172.8 242.2h1.3v1.3h-1.3zM175.6 211.9h1.3v1.3h-1.3zM162.1 221.1h1.3v1.3h-1.3zM174.2 151.4h1.3v1.3h-1.3zM164.3 215.3h1.3v1.3h-1.3zM162.2 235.5h1.3v1.3h-1.3zM164.6 236.1h1.3v1.3h-1.3zM163.3 202.0h1.3v1.3h-1.3zM164.7 240.0h1.3v1.3h-1.3zM164.8 196.8h1.3v1.3h-1.3zM173.1 241.6h1.3v1.3h-1.3zM175.3 238.2h1.3v1.3h-1.3zM164.6 242.3h1.3v1.3h-1.3zM173.6 238.0h1.3v1.3h-1.3zM174.2 243.5h1.3v1.3h-1.3zM173.6 241.5h1.3v1.3h-1.3zM175.1 237.2h1.3v1.3h-1.3zM175.7 225.6h1.3v1.3h-1.3zM173.8 238.2h1.3v1.3h-1.3zM165.2 238.8h1.3v1.3h-1.3zM173.1 223.3h1.3v1.3h-1.3zM175.2 195.8h1.3v1.3h-1.3zM165.9 99.4h1.3v1.3h-1.3zM175.6 232.3h1.3v1.3h-1.3zM175.2 239.6h1.3v1.3h-1.3zM164.4 225.7h1.3v1.3h-1.3zM165.7 238.1h1.3v1.3h-1.3zM174.2 237.8h1.3v1.3h-1.3zM173.4 171.6h1.3v1.3h-1.3zM164.9 242.8h1.3v1.3h-1.3zM161.3 232.0h1.3v1.3h-1.3zM165.9 223.7h1.3v1.3h-1.3zM173.7 197.7h1.3v1.3h-1.3zM161.9 218.6h1.3v1.3h-1.3zM162.7 241.4h1.3v1.3h-1.3zM174.1 218.5h1.3v1.3h-1.3zM172.3 197.1h1.3v1.3h-1.3zM176.1 125.6h1.3v1.3h-1.3zM165.3 173.7h1.3v1.3h-1.3zM171.7 223.9h1.3v1.3h-1.3zM162.1 242.6h1.3v1.3h-1.3zM171.6 239.9h1.3v1.3h-1.3zM161.6 215.9h1.3v1.3h-1.3zM174.2 229.4h1.3v1.3h-1.3zM163.8 232.3h1.3v1.3h-1.3zM172.0 227.6h1.3v1.3h-1.3zM164.0 203.1h1.3v1.3h-1.3zM163.9 183.7h1.3v1.3h-1.3zM165.4 199.7h1.3v1.3h-1.3zM161.6 194.1h1.3v1.3h-1.3zM162.3 165.7h1.3v1.3h-1.3zM175.5 219.4h1.3v1.3h-1.3zM176.1 234.2h1.3v1.3h-1.3zM163.8 219.4h1.3v1.3h-1.3zM164.5 210.9h1.3v1.3h-1.3zM162.7 223.9h1.3v1.3h-1.3zM164.0 239.8h1.3v1.3h-1.3zM173.4 239.6h1.3v1.3h-1.3zM174.2 235.1h1.3v1.3h-1.3zM164.9 240.9h1.3v1.3h-1.3zM175.8 240.8h1.3v1.3h-1.3zM163.1 205.6h1.3v1.3h-1.3zM163.4 199.3h1.3v1.3h-1.3zM164.9 238.2h1.3v1.3h-1.3zM173.5 236.3h1.3v1.3h-1.3zM161.6 241.2h1.3v1.3h-1.3zM173.4 239.4h1.3v1.3h-1.3zM172.1 218.6h1.3v1.3h-1.3zM175.3 233.5h1.3v1.3h-1.3zM164.0 205.3h1.3v1.3h-1.3zM172.3 229.7h1.3v1.3h-1.3zM172.4 222.9h1.3v1.3h-1.3zM162.0 225.6h1.3v1.3h-1.3zM162.7 238.4h1.3v1.3h-1.3zM162.1 189.5h1.3v1.3h-1.3zM175.1 239.0h1.3v1.3h-1.3zM163.1 213.4h1.3v1.3h-1.3zM163.3 238.2h1.3v1.3h-1.3zM162.8 225.7h1.3v1.3h-1.3zM163.6 233.2h1.3v1.3h-1.3zM175.5 194.5h1.3v1.3h-1.3zM171.8 230.8h1.3v1.3h-1.3zM172.0 216.8h1.3v1.3h-1.3zM165.2 199.9h1.3v1.3h-1.3zM171.6 213.9h1.3v1.3h-1.3zM164.4 177.5h1.3v1.3h-1.3zM165.5 212.9h1.3v1.3h-1.3zM175.2 193.8h1.3v1.3h-1.3zM164.7 240.9h1.3v1.3h-1.3zM173.5 243.1h1.3v1.3h-1.3zM166.0 159.4h1.3v1.3h-1.3zM163.1 239.2h1.3v1.3h-1.3zM172.6 201.9h1.3v1.3h-1.3zM166.0 179.5h1.3v1.3h-1.3zM164.9 199.0h1.3v1.3h-1.3zM173.9 213.9h1.3v1.3h-1.3zM164.4 241.3h1.3v1.3h-1.3zM165.9 240.5h1.3v1.3h-1.3zM174.2 208.4h1.3v1.3h-1.3zM165.5 230.9h1.3v1.3h-1.3zM163.5 237.4h1.3v1.3h-1.3zM165.4 222.8h1.3v1.3h-1.3zM172.2 200.7h1.3v1.3h-1.3zM174.7 221.4h1.3v1.3h-1.3zM170.3 210.7h1.3v1.3h-1.3zM175.8 208.6h1.3v1.3h-1.3zM166.7 162.0h1.3v1.3h-1.3zM173.8 119.9h1.3v1.3h-1.3zM173.9 140.1h1.3v1.3h-1.3zM176.0 172.7h1.3v1.3h-1.3zM167.3 140.5h1.3v1.3h-1.3zM166.1 196.0h1.3v1.3h-1.3zM171.4 168.3h1.3v1.3h-1.3zM174.3 126.9h1.3v1.3h-1.3zM161.4 201.0h1.3v1.3h-1.3zM164.1 172.2h1.3v1.3h-1.3zM164.3 126.1h1.3v1.3h-1.3zM164.6 159.3h1.3v1.3h-1.3zM167.2 82.2h1.3v1.3h-1.3zM168.1 209.3h1.3v1.3h-1.3zM175.9 85.4h1.3v1.3h-1.3zM161.9 99.8h1.3v1.3h-1.3zM170.6 92.8h1.3v1.3h-1.3zM170.6 131.6h1.3v1.3h-1.3zM173.3 210.8h1.3v1.3h-1.3zM162.8 199.3h1.3v1.3h-1.3zM161.5 183.9h1.3v1.3h-1.3zM161.9 200.5h1.3v1.3h-1.3zM166.5 193.3h1.3v1.3h-1.3zM162.2 87.3h1.3v1.3h-1.3zM175.1 95.0h1.3v1.3h-1.3zM162.5 136.6h1.3v1.3h-1.3zM175.2 156.7h1.3v1.3h-1.3zM168.9 97.2h1.3v1.3h-1.3zM175.0 138.4h1.3v1.3h-1.3zM165.4 117.2h1.3v1.3h-1.3zM172.4 177.2h1.3v1.3h-1.3zM168.1 122.6h1.3v1.3h-1.3zM164.6 163.9h1.3v1.3h-1.3zM169.5 166.5h1.3v1.3h-1.3zM174.6 175.0h1.3v1.3h-1.3zM168.4 106.1h1.3v1.3h-1.3zM161.7 171.0h1.3v1.3h-1.3zM164.1 142.6h1.3v1.3h-1.3zM174.7 32.5h1.3v1.3h-1.3zM176.2 43.1h1.3v1.3h-1.3zM171.0 36.1h1.3v1.3h-1.3z" fill="#A0A0A0"/>
<path d="M127.2 242.2h1.3v1.3h-1.3zM136.1 243.0h1.3v1.3h-1.3zM131.7 242.4h1.3v1.3h-1.3zM157.4 239.2h1.3v1.3h-1.3zM140.7 242.5h1.3v1.3h-1.3zM160.7 243.3h1.3v1.3h-1.3zM153.5 233.6h1.3v1.3h-1.3zM157.1 228.7h1.3v1.3h-1.3zM154.2 223.1h1.3v1.3h-1.3zM157.0 223.7h1.3v1.3h-1.3zM154.1 192.0h1.3v1.3h-1.3zM150.2 219.7h1.3v1.3h-1.3zM156.0 229.4h1.3v1.3h-1.3zM159.8 239.9h1.3v1.3h-1.3zM152.1 240.5h1.3v1.3h-1.3zM143.5 243.2h1.3v1.3h-1.3zM142.4 229.4h1.3v1.3h-1.3zM108.4 243.0h1.3v1.3h-1.3zM151.6 234.1h1.3v1.3h-1.3zM149.4 239.3h1.3v1.3h-1.3zM160.2 234.5h1.3v1.3h-1.3zM153.5 242.4h1.3v1.3h-1.3zM156.3 177.9h1.3v1.3h-1.3zM159.7 211.7h1.3v1.3h-1.3zM158.1 229.1h1.3v1.3h-1.3zM160.1 210.4h1.3v1.3h-1.3zM149.8 240.8h1.3v1.3h-1.3zM157.0 237.7h1.3v1.3h-1.3zM154.0 233.5h1.3v1.3h-1.3zM151.1 243.7h1.3v1.3h-1.3zM147.9 208.7h1.3v1.3h-1.3zM156.6 238.9h1.3v1.3h-1.3zM153.8 225.6h1.3v1.3h-1.3zM155.7 237.7h1.3v1.3h-1.3zM158.7 216.6h1.3v1.3h-1.3zM157.4 194.0h1.3v1.3h-1.3zM152.1 241.0h1.3v1.3h-1.3zM157.4 192.3h1.3v1.3h-1.3zM139.7 228.5h1.3v1.3h-1.3zM161.0 238.2h1.3v1.3h-1.3zM139.2 242.0h1.3v1.3h-1.3zM153.8 239.6h1.3v1.3h-1.3zM151.8 238.1h1.3v1.3h-1.3zM144.3 235.7h1.3v1.3h-1.3zM155.8 235.8h1.3v1.3h-1.3zM160.9 222.9h1.3v1.3h-1.3zM155.4 243.6h1.3v1.3h-1.3zM160.6 239.0h1.3v1.3h-1.3zM156.1 234.6h1.3v1.3h-1.3zM151.1 219.1h1.3v1.3h-1.3zM159.6 240.2h1.3v1.3h-1.3zM155.9 237.1h1.3v1.3h-1.3zM147.1 227.1h1.3v1.3h-1.3zM152.6 231.6h1.3v1.3h-1.3zM147.9 243.0h1.3v1.3h-1.3zM156.9 237.4h1.3v1.3h-1.3zM160.5 237.1h1.3v1.3h-1.3zM159.4 226.1h1.3v1.3h-1.3zM157.9 237.5h1.3v1.3h-1.3zM134.6 241.0h1.3v1.3h-1.3zM126.7 240.7h1.3v1.3h-1.3zM154.0 224.5h1.3v1.3h-1.3zM159.0 207.8h1.3v1.3h-1.3zM156.1 242.9h1.3v1.3h-1.3zM153.2 242.5h1.3v1.3h-1.3zM153.0 233.1h1.3v1.3h-1.3zM148.8 234.3h1.3v1.3h-1.3zM161.2 243.7h1.3v1.3h-1.3zM149.2 237.1h1.3v1.3h-1.3zM137.0 241.5h1.3v1.3h-1.3zM160.3 243.5h1.3v1.3h-1.3zM161.0 240.2h1.3v1.3h-1.3zM147.0 237.7h1.3v1.3h-1.3zM141.3 231.8h1.3v1.3h-1.3zM154.2 242.0h1.3v1.3h-1.3zM159.1 228.8h1.3v1.3h-1.3zM159.7 231.3h1.3v1.3h-1.3zM154.3 243.4h1.3v1.3h-1.3zM160.5 190.7h1.3v1.3h-1.3zM154.7 236.3h1.3v1.3h-1.3zM155.8 223.1h1.3v1.3h-1.3zM151.0 233.0h1.3v1.3h-1.3zM152.8 242.1h1.3v1.3h-1.3zM158.6 238.7h1.3v1.3h-1.3zM160.9 225.4h1.3v1.3h-1.3zM142.2 227.4h1.3v1.3h-1.3zM160.6 239.9h1.3v1.3h-1.3zM151.7 243.6h1.3v1.3h-1.3zM158.8 235.7h1.3v1.3h-1.3zM147.2 243.4h1.3v1.3h-1.3zM160.7 238.8h1.3v1.3h-1.3zM158.8 241.0h1.3v1.3h-1.3zM152.6 241.8h1.3v1.3h-1.3zM161.2 205.6h1.3v1.3h-1.3zM155.3 237.0h1.3v1.3h-1.3zM158.4 210.1h1.3v1.3h-1.3zM123.4 243.6h1.3v1.3h-1.3zM150.2 233.8h1.3v1.3h-1.3zM152.7 238.2h1.3v1.3h-1.3zM156.3 227.2h1.3v1.3h-1.3zM161.0 205.9h1.3v1.3h-1.3zM160.4 240.4h1.3v1.3h-1.3zM156.6 243.6h1.3v1.3h-1.3zM140.4 241.2h1.3v1.3h-1.3zM156.9 238.1h1.3v1.3h-1.3zM141.3 241.6h1.3v1.3h-1.3zM151.0 213.6h1.3v1.3h-1.3zM155.9 212.2h1.3v1.3h-1.3zM153.4 238.4h1.3v1.3h-1.3zM155.1 238.6h1.3v1.3h-1.3zM155.7 239.6h1.3v1.3h-1.3zM161.0 213.3h1.3v1.3h-1.3zM158.6 241.6h1.3v1.3h-1.3zM159.1 231.0h1.3v1.3h-1.3zM146.2 238.2h1.3v1.3h-1.3zM155.1 224.3h1.3v1.3h-1.3zM158.6 236.6h1.3v1.3h-1.3zM158.9 235.5h1.3v1.3h-1.3zM151.6 235.4h1.3v1.3h-1.3zM157.8 234.2h1.3v1.3h-1.3zM159.0 212.2h1.3v1.3h-1.3zM150.3 218.4h1.3v1.3h-1.3zM101.1 241.7h1.3v1.3h-1.3zM155.6 185.5h1.3v1.3h-1.3zM153.8 238.0h1.3v1.3h-1.3zM154.3 242.2h1.3v1.3h-1.3zM147.7 235.2h1.3v1.3h-1.3zM160.3 209.9h1.3v1.3h-1.3zM148.3 232.4h1.3v1.3h-1.3zM161.0 220.2h1.3v1.3h-1.3zM159.7 243.5h1.3v1.3h-1.3zM149.2 233.9h1.3v1.3h-1.3zM146.7 241.9h1.3v1.3h-1.3zM159.2 207.4h1.3v1.3h-1.3zM160.6 199.5h1.3v1.3h-1.3zM145.3 234.4h1.3v1.3h-1.3zM159.2 223.1h1.3v1.3h-1.3zM160.4 237.7h1.3v1.3h-1.3zM144.7 240.5h1.3v1.3h-1.3zM157.0 217.8h1.3v1.3h-1.3zM155.2 231.6h1.3v1.3h-1.3zM151.6 224.5h1.3v1.3h-1.3zM134.4 243.0h1.3v1.3h-1.3zM156.8 221.6h1.3v1.3h-1.3zM149.8 224.2h1.3v1.3h-1.3zM161.0 221.0h1.3v1.3h-1.3zM155.2 124.1h1.3v1.3h-1.3zM156.3 212.4h1.3v1.3h-1.3zM160.3 237.7h1.3v1.3h-1.3zM158.2 229.5h1.3v1.3h-1.3zM158.9 225.7h1.3v1.3h-1.3zM156.2 231.4h1.3v1.3h-1.3zM155.8 225.6h1.3v1.3h-1.3zM159.6 221.2h1.3v1.3h-1.3zM153.4 232.9h1.3v1.3h-1.3zM133.6 240.6h1.3v1.3h-1.3zM158.7 232.9h1.3v1.3h-1.3zM154.1 214.1h1.3v1.3h-1.3zM150.5 236.1h1.3v1.3h-1.3zM134.5 243.3h1.3v1.3h-1.3zM147.2 235.9h1.3v1.3h-1.3zM138.7 234.0h1.3v1.3h-1.3zM152.7 231.4h1.3v1.3h-1.3zM125.7 240.3h1.3v1.3h-1.3zM160.9 236.7h1.3v1.3h-1.3zM146.6 240.7h1.3v1.3h-1.3zM137.4 241.4h1.3v1.3h-1.3zM148.0 195.5h1.3v1.3h-1.3zM152.0 241.3h1.3v1.3h-1.3zM154.0 238.9h1.3v1.3h-1.3zM132.2 241.6h1.3v1.3h-1.3zM157.2 233.8h1.3v1.3h-1.3zM149.9 227.9h1.3v1.3h-1.3zM151.7 236.8h1.3v1.3h-1.3zM150.3 241.7h1.3v1.3h-1.3zM150.4 227.0h1.3v1.3h-1.3zM146.6 239.0h1.3v1.3h-1.3zM159.2 194.0h1.3v1.3h-1.3zM144.3 238.7h1.3v1.3h-1.3zM159.4 240.8h1.3v1.3h-1.3zM146.5 241.9h1.3v1.3h-1.3zM158.3 192.9h1.3v1.3h-1.3zM159.5 236.6h1.3v1.3h-1.3zM160.3 225.8h1.3v1.3h-1.3zM159.8 223.9h1.3v1.3h-1.3zM154.8 235.9h1.3v1.3h-1.3zM149.4 243.7h1.3v1.3h-1.3zM149.8 242.5h1.3v1.3h-1.3zM151.3 232.4h1.3v1.3h-1.3zM159.9 222.7h1.3v1.3h-1.3zM152.6 240.9h1.3v1.3h-1.3zM151.6 242.5h1.3v1.3h-1.3zM155.9 207.2h1.3v1.3h-1.3zM150.3 242.3h1.3v1.3h-1.3zM123.5 238.6h1.3v1.3h-1.3zM156.2 240.7h1.3v1.3h-1.3zM149.9 243.6h1.3v1.3h-1.3zM154.8 243.2h1.3v1.3h-1.3zM139.2 242.0h1.3v1.3h-1.3zM160.1 237.3h1.3v1.3h-1.3zM129.2 243.2h1.3v1.3h-1.3zM155.5 233.2h1.3v1.3h-1.3zM157.9 231.6h1.3v1.3h-1.3zM160.8 232.1h1.3v1.3h-1.3zM123.3 241.9h1.3v1.3h-1.3zM147.9 240.7h1.3v1.3h-1.3zM148.2 241.4h1.3v1.3h-1.3zM151.2 214.3h1.3v1.3h-1.3zM154.7 225.5h1.3v1.3h-1.3zM157.5 237.3h1.3v1.3h-1.3zM160.3 237.8h1.3v1.3h-1.3zM152.0 230.7h1.3v1.3h-1.3zM149.6 234.8h1.3v1.3h-1.3zM160.5 219.1h1.3v1.3h-1.3zM161.0 234.4h1.3v1.3h-1.3zM159.7 236.0h1.3v1.3h-1.3zM129.4 241.3h1.3v1.3h-1.3zM139.3 238.2h1.3v1.3h-1.3zM160.2 221.4h1.3v1.3h-1.3zM157.6 229.7h1.3v1.3h-1.3zM156.6 229.6h1.3v1.3h-1.3zM157.0 240.1h1.3v1.3h-1.3zM159.8 200.6h1.3v1.3h-1.3zM143.5 242.0h1.3v1.3h-1.3zM160.7 241.7h1.3v1.3h-1.3zM145.5 226.9h1.3v1.3h-1.3zM156.2 243.1h1.3v1.3h-1.3zM158.9 235.0h1.3v1.3h-1.3zM148.5 200.7h1.3v1.3h-1.3zM152.3 233.8h1.3v1.3h-1.3zM159.8 239.4h1.3v1.3h-1.3zM159.8 226.5h1.3v1.3h-1.3zM156.3 192.5h1.3v1.3h-1.3zM142.7 240.0h1.3v1.3h-1.3zM158.9 236.3h1.3v1.3h-1.3zM160.9 226.2h1.3v1.3h-1.3zM143.8 239.4h1.3v1.3h-1.3zM159.8 242.5h1.3v1.3h-1.3zM160.7 221.1h1.3v1.3h-1.3zM139.7 243.4h1.3v1.3h-1.3zM161.2 184.8h1.3v1.3h-1.3zM159.4 222.4h1.3v1.3h-1.3zM156.6 243.7h1.3v1.3h-1.3zM145.4 236.3h1.3v1.3h-1.3zM153.1 237.0h1.3v1.3h-1.3zM153.6 235.7h1.3v1.3h-1.3zM155.8 233.9h1.3v1.3h-1.3zM151.7 242.1h1.3v1.3h-1.3zM156.3 231.3h1.3v1.3h-1.3zM160.4 214.1h1.3v1.3h-1.3zM148.8 240.5h1.3v1.3h-1.3zM150.8 236.1h1.3v1.3h-1.3zM155.9 237.8h1.3v1.3h-1.3zM150.9 242.4h1.3v1.3h-1.3zM141.7 239.6h1.3v1.3h-1.3zM151.5 225.7h1.3v1.3h-1.3zM158.8 222.4h1.3v1.3h-1.3zM149.8 242.4h1.3v1.3h-1.3zM152.8 235.3h1.3v1.3h-1.3zM133.3 242.1h1.3v1.3h-1.3zM158.6 234.7h1.3v1.3h-1.3zM158.3 239.8h1.3v1.3h-1.3zM127.6 243.0h1.3v1.3h-1.3zM147.8 241.9h1.3v1.3h-1.3zM143.6 237.5h1.3v1.3h-1.3zM159.2 225.6h1.3v1.3h-1.3zM149.2 241.6h1.3v1.3h-1.3zM155.3 234.1h1.3v1.3h-1.3zM149.6 232.4h1.3v1.3h-1.3zM137.9 240.0h1.3v1.3h-1.3zM142.7 237.3h1.3v1.3h-1.3zM145.6 242.8h1.3v1.3h-1.3zM154.4 235.5h1.3v1.3h-1.3zM143.5 226.1h1.3v1.3h-1.3zM151.7 212.4h1.3v1.3h-1.3zM154.2 236.7h1.3v1.3h-1.3zM150.0 236.9h1.3v1.3h-1.3zM127.8 243.1h1.3v1.3h-1.3zM155.0 242.6h1.3v1.3h-1.3zM156.7 230.6h1.3v1.3h-1.3zM156.2 243.1h1.3v1.3h-1.3zM160.8 221.4h1.3v1.3h-1.3zM130.9 241.6h1.3v1.3h-1.3zM160.0 241.2h1.3v1.3h-1.3zM138.0 243.3h1.3v1.3h-1.3zM117.7 243.2h1.3v1.3h-1.3zM160.1 221.1h1.3v1.3h-1.3zM157.0 237.4h1.3v1.3h-1.3zM143.3 234.1h1.3v1.3h-1.3zM148.3 243.7h1.3v1.3h-1.3zM158.4 239.5h1.3v1.3h-1.3zM154.3 235.2h1.3v1.3h-1.3zM157.0 234.4h1.3v1.3h-1.3zM144.7 241.0h1.3v1.3h-1.3zM157.0 238.2h1.3v1.3h-1.3zM152.3 243.4h1.3v1.3h-1.3zM137.8 242.5h1.3v1.3h-1.3zM157.0 227.2h1.3v1.3h-1.3zM161.1 159.8h1.3v1.3h-1.3zM155.6 223.9h1.3v1.3h-1.3zM154.7 242.8h1.3v1.3h-1.3zM158.3 241.2h1.3v1.3h-1.3zM135.2 235.4h1.3v1.3h-1.3zM150.5 227.5h1.3v1.3h-1.3zM152.6 240.8h1.3v1.3h-1.3zM103.8 240.5h1.3v1.3h-1.3zM158.2 234.8h1.3v1.3h-1.3zM161.0 146.7h1.3v1.3h-1.3zM154.8 235.9h1.3v1.3h-1.3zM160.9 210.0h1.3v1.3h-1.3zM160.5 226.3h1.3v1.3h-1.3zM151.2 235.1h1.3v1.3h-1.3zM143.2 223.6h1.3v1.3h-1.3zM149.8 238.6h1.3v1.3h-1.3zM158.7 193.7h1.3v1.3h-1.3zM154.2 238.6h1.3v1.3h-1.3zM153.9 239.5h1.3v1.3h-1.3zM159.9 226.9h1.3v1.3h-1.3zM158.9 216.3h1.3v1.3h-1.3zM148.6 240.5h1.3v1.3h-1.3zM155.1 209.9h1.3v1.3h-1.3zM157.6 237.8h1.3v1.3h-1.3zM154.8 240.7h1.3v1.3h-1.3zM158.5 211.3h1.3v1.3h-1.3zM152.1 233.8h1.3v1.3h-1.3zM148.6 242.5h1.3v1.3h-1.3zM156.5 242.9h1.3v1.3h-1.3zM115.0 242.7h1.3v1.3h-1.3zM153.0 234.5h1.3v1.3h-1.3zM159.8 223.3h1.3v1.3h-1.3zM137.3 233.5h1.3v1.3h-1.3zM160.3 239.8h1.3v1.3h-1.3zM155.9 232.8h1.3v1.3h-1.3zM160.2 216.1h1.3v1.3h-1.3zM145.9 241.9h1.3v1.3h-1.3zM145.7 242.7h1.3v1.3h-1.3zM160.5 184.4h1.3v1.3h-1.3zM157.2 237.4h1.3v1.3h-1.3zM142.6 242.2h1.3v1.3h-1.3zM141.2 237.1h1.3v1.3h-1.3zM157.3 226.4h1.3v1.3h-1.3zM150.4 224.5h1.3v1.3h-1.3zM146.4 238.8h1.3v1.3h-1.3zM139.4 235.7h1.3v1.3h-1.3zM105.8 243.4h1.3v1.3h-1.3zM159.0 208.3h1.3v1.3h-1.3zM150.4 239.1h1.3v1.3h-1.3zM156.3 224.0h1.3v1.3h-1.3zM135.4 240.2h1.3v1.3h-1.3zM159.7 222.1h1.3v1.3h-1.3zM158.4 230.6h1.3v1.3h-1.3zM150.8 212.8h1.3v1.3h-1.3zM160.5 240.0h1.3v1.3h-1.3zM136.1 240.1h1.3v1.3h-1.3zM157.7 237.3h1.3v1.3h-1.3zM155.1 200.6h1.3v1.3h-1.3zM149.8 232.7h1.3v1.3h-1.3zM136.4 236.0h1.3v1.3h-1.3zM157.5 241.0h1.3v1.3h-1.3zM139.1 240.0h1.3v1.3h-1.3zM147.4 236.4h1.3v1.3h-1.3zM158.6 243.4h1.3v1.3h-1.3zM160.8 232.8h1.3v1.3h-1.3zM139.5 242.1h1.3v1.3h-1.3zM154.5 242.5h1.3v1.3h-1.3zM158.6 242.8h1.3v1.3h-1.3zM159.9 242.9h1.3v1.3h-1.3zM160.5 213.3h1.3v1.3h-1.3zM152.9 230.4h1.3v1.3h-1.3zM161.2 237.8h1.3v1.3h-1.3zM151.2 243.6h1.3v1.3h-1.3zM157.5 243.3h1.3v1.3h-1.3zM157.5 214.5h1.3v1.3h-1.3zM161.0 231.3h1.3v1.3h-1.3zM152.1 227.7h1.3v1.3h-1.3zM159.4 210.8h1.3v1.3h-1.3zM145.8 243.1h1.3v1.3h-1.3zM152.0 228.9h1.3v1.3h-1.3zM118.3 242.4h1.3v1.3h-1.3zM133.8 235.8h1.3v1.3h-1.3zM161.0 236.6h1.3v1.3h-1.3zM150.9 240.3h1.3v1.3h-1.3zM156.0 227.6h1.3v1.3h-1.3zM143.7 242.7h1.3v1.3h-1.3zM161.1 239.3h1.3v1.3h-1.3zM153.9 223.1h1.3v1.3h-1.3zM156.9 237.5h1.3v1.3h-1.3zM157.2 227.7h1.3v1.3h-1.3zM141.7 242.8h1.3v1.3h-1.3zM122.5 241.4h1.3v1.3h-1.3zM158.7 228.5h1.3v1.3h-1.3zM144.9 239.6h1.3v1.3h-1.3zM160.9 224.4h1.3v1.3h-1.3zM151.0 236.3h1.3v1.3h-1.3zM149.3 236.9h1.3v1.3h-1.3zM156.9 233.3h1.3v1.3h-1.3zM158.1 239.3h1.3v1.3h-1.3zM153.3 242.6h1.3v1.3h-1.3zM145.1 219.2h1.3v1.3h-1.3zM159.7 227.0h1.3v1.3h-1.3zM156.3 192.5h1.3v1.3h-1.3zM134.3 239.9h1.3v1.3h-1.3zM160.0 230.2h1.3v1.3h-1.3zM159.0 219.5h1.3v1.3h-1.3zM158.3 229.4h1.3v1.3h-1.3zM148.2 225.5h1.3v1.3h-1.3zM141.3 233.5h1.3v1.3h-1.3zM146.6 238.4h1.3v1.3h-1.3zM157.1 226.4h1.3v1.3h-1.3zM155.6 218.9h1.3v1.3h-1.3zM158.9 204.8h1.3v1.3h-1.3zM138.7 241.4h1.3v1.3h-1.3zM158.9 218.7h1.3v1.3h-1.3zM161.0 223.6h1.3v1.3h-1.3zM161.1 212.9h1.3v1.3h-1.3zM137.4 238.8h1.3v1.3h-1.3zM157.1 240.1h1.3v1.3h-1.3zM156.7 211.4h1.3v1.3h-1.3zM156.7 229.2h1.3v1.3h-1.3zM142.1 243.6h1.3v1.3h-1.3zM161.1 220.6h1.3v1.3h-1.3zM158.6 236.9h1.3v1.3h-1.3zM157.4 235.8h1.3v1.3h-1.3zM158.1 211.9h1.3v1.3h-1.3zM154.5 196.9h1.3v1.3h-1.3zM146.0 239.3h1.3v1.3h-1.3zM134.8 237.9h1.3v1.3h-1.3zM131.2 243.2h1.3v1.3h-1.3zM157.8 242.4h1.3v1.3h-1.3zM161.2 204.8h1.3v1.3h-1.3zM158.5 237.8h1.3v1.3h-1.3zM152.1 212.4h1.3v1.3h-1.3zM158.9 242.9h1.3v1.3h-1.3zM146.4 230.4h1.3v1.3h-1.3zM148.3 243.4h1.3v1.3h-1.3zM146.8 239.6h1.3v1.3h-1.3zM155.7 241.8h1.3v1.3h-1.3zM134.5 239.2h1.3v1.3h-1.3zM145.3 242.7h1.3v1.3h-1.3zM137.5 243.1h1.3v1.3h-1.3zM157.7 233.5h1.3v1.3h-1.3zM157.0 224.3h1.3v1.3h-1.3zM155.2 237.5h1.3v1.3h-1.3zM156.1 230.3h1.3v1.3h-1.3zM150.6 239.2h1.3v1.3h-1.3zM157.3 211.7h1.3v1.3h-1.3zM152.7 241.4h1.3v1.3h-1.3zM151.6 243.6h1.3v1.3h-1.3zM159.8 228.3h1.3v1.3h-1.3zM152.9 231.1h1.3v1.3h-1.3zM148.6 243.4h1.3v1.3h-1.3zM139.4 243.4h1.3v1.3h-1.3zM160.1 188.7h1.3v1.3h-1.3zM126.9 241.5h1.3v1.3h-1.3zM161.2 238.9h1.3v1.3h-1.3zM153.7 232.6h1.3v1.3h-1.3zM153.6 188.5h1.3v1.3h-1.3zM153.9 223.1h1.3v1.3h-1.3zM130.6 243.5h1.3v1.3h-1.3zM127.0 237.8h1.3v1.3h-1.3zM126.4 243.0h1.3v1.3h-1.3zM160.5 221.9h1.3v1.3h-1.3zM161.1 237.9h1.3v1.3h-1.3zM128.2 243.1h1.3v1.3h-1.3zM160.8 215.2h1.3v1.3h-1.3zM131.7 242.6h1.3v1.3h-1.3zM157.4 243.1h1.3v1.3h-1.3zM155.4 239.6h1.3v1.3h-1.3zM157.3 236.2h1.3v1.3h-1.3zM112.5 240.5h1.3v1.3h-1.3zM158.2 235.4h1.3v1.3h-1.3zM153.7 238.4h1.3v1.3h-1.3zM159.7 219.6h1.3v1.3h-1.3zM140.5 235.5h1.3v1.3h-1.3zM139.0 239.0h1.3v1.3h-1.3zM158.6 232.9h1.3v1.3h-1.3zM117.7 240.7h1.3v1.3h-1.3zM148.5 206.3h1.3v1.3h-1.3zM144.3 237.0h1.3v1.3h-1.3zM160.4 226.5h1.3v1.3h-1.3zM160.9 220.4h1.3v1.3h-1.3zM156.2 233.0h1.3v1.3h-1.3zM150.0 238.7h1.3v1.3h-1.3zM150.5 238.3h1.3v1.3h-1.3zM152.9 237.0h1.3v1.3h-1.3zM151.1 237.8h1.3v1.3h-1.3zM157.2 232.6h1.3v1.3h-1.3zM156.6 220.1h1.3v1.3h-1.3zM146.0 229.8h1.3v1.3h-1.3zM157.0 242.8h1.3v1.3h-1.3zM125.0 242.8h1.3v1.3h-1.3zM150.8 227.7h1.3v1.3h-1.3zM160.5 215.0h1.3v1.3h-1.3zM150.6 220.4h1.3v1.3h-1.3zM147.1 241.5h1.3v1.3h-1.3zM143.4 232.2h1.3v1.3h-1.3zM157.1 231.2h1.3v1.3h-1.3zM153.0 164.8h1.3v1.3h-1.3zM160.6 218.1h1.3v1.3h-1.3zM156.9 240.6h1.3v1.3h-1.3zM159.5 236.2h1.3v1.3h-1.3zM150.4 242.3h1.3v1.3h-1.3zM150.7 242.0h1.3v1.3h-1.3zM132.6 236.7h1.3v1.3h-1.3zM151.0 221.4h1.3v1.3h-1.3zM157.5 237.3h1.3v1.3h-1.3zM141.9 240.7h1.3v1.3h-1.3zM156.1 227.8h1.3v1.3h-1.3zM156.7 237.6h1.3v1.3h-1.3zM150.7 237.0h1.3v1.3h-1.3zM157.8 227.8h1.3v1.3h-1.3zM158.1 238.6h1.3v1.3h-1.3zM155.5 242.3h1.3v1.3h-1.3zM151.5 231.2h1.3v1.3h-1.3zM159.4 231.7h1.3v1.3h-1.3zM161.2 241.1h1.3v1.3h-1.3zM154.7 230.9h1.3v1.3h-1.3zM151.8 236.5h1.3v1.3h-1.3zM145.5 241.8h1.3v1.3h-1.3zM153.3 243.7h1.3v1.3h-1.3zM158.3 230.0h1.3v1.3h-1.3zM157.7 232.2h1.3v1.3h-1.3zM137.0 242.5h1.3v1.3h-1.3zM158.3 235.0h1.3v1.3h-1.3zM154.0 236.0h1.3v1.3h-1.3zM160.4 241.3h1.3v1.3h-1.3zM130.3 242.6h1.3v1.3h-1.3zM146.5 225.9h1.3v1.3h-1.3zM149.0 239.9h1.3v1.3h-1.3zM160.8 218.0h1.3v1.3h-1.3zM127.2 242.0h1.3v1.3h-1.3zM152.2 240.8h1.3v1.3h-1.3zM158.6 214.1h1.3v1.3h-1.3zM159.9 227.2h1.3v1.3h-1.3zM124.2 238.3h1.3v1.3h-1.3zM152.8 243.1h1.3v1.3h-1.3zM159.0 212.0h1.3v1.3h-1.3zM160.4 233.2h1.3v1.3h-1.3zM156.4 236.6h1.3v1.3h-1.3zM134.5 239.7h1.3v1.3h-1.3zM146.0 243.0h1.3v1.3h-1.3zM153.2 214.4h1.3v1.3h-1.3zM149.5 238.9h1.3v1.3h-1.3zM109.8 243.3h1.3v1.3h-1.3zM160.6 234.6h1.3v1.3h-1.3zM159.8 219.8h1.3v1.3h-1.3zM161.2 238.8h1.3v1.3h-1.3zM159.1 231.1h1.3v1.3h-1.3zM135.9 242.3h1.3v1.3h-1.3zM157.4 236.7h1.3v1.3h-1.3zM155.3 242.6h1.3v1.3h-1.3zM142.9 238.9h1.3v1.3h-1.3zM161.1 230.8h1.3v1.3h-1.3zM142.9 242.3h1.3v1.3h-1.3zM155.4 222.1h1.3v1.3h-1.3zM159.1 237.1h1.3v1.3h-1.3zM141.9 239.4h1.3v1.3h-1.3zM147.8 229.6h1.3v1.3h-1.3zM159.8 234.8h1.3v1.3h-1.3zM160.8 225.7h1.3v1.3h-1.3zM157.5 240.7h1.3v1.3h-1.3zM122.0 243.2h1.3v1.3h-1.3zM153.7 235.6h1.3v1.3h-1.3zM160.4 235.1h1.3v1.3h-1.3zM150.6 240.5h1.3v1.3h-1.3zM156.4 214.8h1.3v1.3h-1.3zM150.1 240.5h1.3v1.3h-1.3zM158.5 236.3h1.3v1.3h-1.3zM155.7 233.9h1.3v1.3h-1.3zM157.7 241.7h1.3v1.3h-1.3zM159.0 226.7h1.3v1.3h-1.3zM135.0 239.5h1.3v1.3h-1.3zM149.2 242.5h1.3v1.3h-1.3zM135.3 242.1h1.3v1.3h-1.3zM155.3 228.5h1.3v1.3h-1.3zM150.6 231.9h1.3v1.3h-1.3zM161.2 242.4h1.3v1.3h-1.3zM131.8 237.6h1.3v1.3h-1.3zM160.9 239.2h1.3v1.3h-1.3zM155.6 240.9h1.3v1.3h-1.3zM159.0 185.6h1.3v1.3h-1.3zM152.1 238.6h1.3v1.3h-1.3zM148.6 241.9h1.3v1.3h-1.3zM159.0 240.5h1.3v1.3h-1.3zM142.2 243.0h1.3v1.3h-1.3zM159.8 207.5h1.3v1.3h-1.3zM144.9 239.3h1.3v1.3h-1.3zM161.1 219.7h1.3v1.3h-1.3zM148.2 242.3h1.3v1.3h-1.3zM158.8 223.5h1.3v1.3h-1.3zM147.8 231.4h1.3v1.3h-1.3zM153.8 241.8h1.3v1.3h-1.3zM146.6 234.8h1.3v1.3h-1.3zM154.2 236.6h1.3v1.3h-1.3zM159.1 242.2h1.3v1.3h-1.3zM160.8 239.1h1.3v1.3h-1.3zM143.8 236.3h1.3v1.3h-1.3zM155.6 236.8h1.3v1.3h-1.3zM141.5 229.9h1.3v1.3h-1.3zM159.9 240.8h1.3v1.3h-1.3zM155.5 225.9h1.3v1.3h-1.3zM141.0 235.4h1.3v1.3h-1.3zM149.3 233.1h1.3v1.3h-1.3zM157.7 239.4h1.3v1.3h-1.3zM153.5 241.1h1.3v1.3h-1.3zM132.9 239.7h1.3v1.3h-1.3zM158.7 186.1h1.3v1.3h-1.3zM157.4 241.3h1.3v1.3h-1.3zM157.9 227.9h1.3v1.3h-1.3zM149.7 241.9h1.3v1.3h-1.3zM159.7 240.3h1.3v1.3h-1.3zM157.3 236.4h1.3v1.3h-1.3zM160.9 235.7h1.3v1.3h-1.3zM150.8 241.6h1.3v1.3h-1.3zM150.9 236.9h1.3v1.3h-1.3zM160.5 231.6h1.3v1.3h-1.3zM161.1 215.2h1.3v1.3h-1.3zM139.8 231.7h1.3v1.3h-1.3zM159.1 238.4h1.3v1.3h-1.3zM157.7 230.8h1.3v1.3h-1.3zM147.5 242.1h1.3v1.3h-1.3zM155.1 225.9h1.3v1.3h-1.3zM147.2 226.6h1.3v1.3h-1.3zM152.8 240.0h1.3v1.3h-1.3zM152.8 242.6h1.3v1.3h-1.3zM161.2 239.6h1.3v1.3h-1.3zM159.7 237.7h1.3v1.3h-1.3zM159.4 236.6h1.3v1.3h-1.3zM154.9 238.9h1.3v1.3h-1.3zM156.9 242.1h1.3v1.3h-1.3zM143.9 233.7h1.3v1.3h-1.3zM148.7 238.9h1.3v1.3h-1.3zM147.9 242.8h1.3v1.3h-1.3zM159.5 235.4h1.3v1.3h-1.3zM160.9 243.0h1.3v1.3h-1.3zM152.8 238.2h1.3v1.3h-1.3zM149.6 239.2h1.3v1.3h-1.3zM143.6 243.3h1.3v1.3h-1.3zM148.6 233.2h1.3v1.3h-1.3zM156.9 228.7h1.3v1.3h-1.3zM160.3 243.7h1.3v1.3h-1.3zM151.2 226.7h1.3v1.3h-1.3zM157.7 239.3h1.3v1.3h-1.3zM160.2 239.0h1.3v1.3h-1.3zM159.6 238.4h1.3v1.3h-1.3zM153.7 239.4h1.3v1.3h-1.3zM158.5 230.7h1.3v1.3h-1.3zM160.8 238.3h1.3v1.3h-1.3zM132.2 242.5h1.3v1.3h-1.3zM153.4 195.7h1.3v1.3h-1.3zM138.0 237.9h1.3v1.3h-1.3zM153.8 240.7h1.3v1.3h-1.3zM160.3 241.8h1.3v1.3h-1.3zM160.7 215.1h1.3v1.3h-1.3zM149.5 241.8h1.3v1.3h-1.3zM148.0 243.0h1.3v1.3h-1.3zM159.4 213.2h1.3v1.3h-1.3zM99.9 242.5h1.3v1.3h-1.3zM151.7 242.6h1.3v1.3h-1.3zM153.0 242.4h1.3v1.3h-1.3zM150.6 241.5h1.3v1.3h-1.3zM158.5 220.5h1.3v1.3h-1.3zM154.3 224.0h1.3v1.3h-1.3zM144.5 243.3h1.3v1.3h-1.3zM157.3 242.3h1.3v1.3h-1.3zM158.9 220.0h1.3v1.3h-1.3zM159.4 237.8h1.3v1.3h-1.3zM160.4 218.3h1.3v1.3h-1.3zM152.5 241.7h1.3v1.3h-1.3zM157.5 204.9h1.3v1.3h-1.3zM146.2 243.5h1.3v1.3h-1.3zM146.1 242.6h1.3v1.3h-1.3zM154.3 241.6h1.3v1.3h-1.3zM145.7 233.9h1.3v1.3h-1.3zM159.0 201.9h1.3v1.3h-1.3zM150.0 233.0h1.3v1.3h-1.3zM160.6 243.7h1.3v1.3h-1.3zM140.6 243.6h1.3v1.3h-1.3zM154.0 239.2h1.3v1.3h-1.3zM160.6 227.0h1.3v1.3h-1.3zM160.6 207.2h1.3v1.3h-1.3zM160.8 235.4h1.3v1.3h-1.3zM156.1 230.0h1.3v1.3h-1.3zM126.7 241.1h1.3v1.3h-1.3zM145.4 239.3h1.3v1.3h-1.3zM146.9 238.8h1.3v1.3h-1.3zM158.3 225.6h1.3v1.3h-1.3zM157.7 243.0h1.3v1.3h-1.3zM155.1 224.7h1.3v1.3h-1.3zM150.2 242.2h1.3v1.3h-1.3zM156.5 230.0h1.3v1.3h-1.3zM134.2 241.0h1.3v1.3h-1.3zM147.8 236.9h1.3v1.3h-1.3zM150.9 234.5h1.3v1.3h-1.3zM160.6 216.1h1.3v1.3h-1.3zM145.5 234.5h1.3v1.3h-1.3zM143.0 242.2h1.3v1.3h-1.3zM152.6 235.2h1.3v1.3h-1.3zM140.8 239.3h1.3v1.3h-1.3zM134.9 235.0h1.3v1.3h-1.3zM160.8 223.8h1.3v1.3h-1.3zM156.4 230.6h1.3v1.3h-1.3zM146.8 240.7h1.3v1.3h-1.3zM156.6 203.6h1.3v1.3h-1.3zM158.7 226.1h1.3v1.3h-1.3zM146.0 236.3h1.3v1.3h-1.3zM138.4 241.2h1.3v1.3h-1.3zM157.7 238.5h1.3v1.3h-1.3zM152.2 213.4h1.3v1.3h-1.3zM140.8 240.4h1.3v1.3h-1.3zM156.1 239.1h1.3v1.3h-1.3zM159.7 230.4h1.3v1.3h-1.3zM160.4 234.8h1.3v1.3h-1.3zM155.2 243.3h1.3v1.3h-1.3zM157.3 174.2h1.3v1.3h-1.3zM159.2 207.6h1.3v1.3h-1.3zM156.2 233.6h1.3v1.3h-1.3zM158.6 239.9h1.3v1.3h-1.3zM151.7 239.2h1.3v1.3h-1.3zM139.2 241.4h1.3v1.3h-1.3zM157.3 241.4h1.3v1.3h-1.3zM159.5 236.5h1.3v1.3h-1.3zM144.8 230.1h1.3v1.3h-1.3zM129.8 242.5h1.3v1.3h-1.3zM157.5 213.5h1.3v1.3h-1.3zM146.0 237.4h1.3v1.3h-1.3zM142.3 224.4h1.3v1.3h-1.3zM156.4 243.6h1.3v1.3h-1.3zM142.6 243.1h1.3v1.3h-1.3zM158.5 230.8h1.3v1.3h-1.3zM150.8 231.5h1.3v1.3h-1.3zM150.3 206.8h1.3v1.3h-1.3zM148.3 232.8h1.3v1.3h-1.3zM150.6 242.4h1.3v1.3h-1.3zM147.6 241.5h1.3v1.3h-1.3zM156.0 234.3h1.3v1.3h-1.3zM157.3 239.3h1.3v1.3h-1.3zM157.8 238.4h1.3v1.3h-1.3zM149.2 234.1h1.3v1.3h-1.3zM134.2 237.3h1.3v1.3h-1.3zM160.7 224.4h1.3v1.3h-1.3zM154.6 229.8h1.3v1.3h-1.3zM161.1 204.7h1.3v1.3h-1.3zM139.9 243.1h1.3v1.3h-1.3zM156.6 238.7h1.3v1.3h-1.3zM154.3 241.8h1.3v1.3h-1.3zM152.2 237.6h1.3v1.3h-1.3zM132.4 241.4h1.3v1.3h-1.3zM161.2 191.6h1.3v1.3h-1.3zM158.2 240.6h1.3v1.3h-1.3zM136.9 240.7h1.3v1.3h-1.3zM102.1 243.3h1.3v1.3h-1.3zM152.6 202.3h1.3v1.3h-1.3zM151.6 241.1h1.3v1.3h-1.3zM146.8 243.6h1.3v1.3h-1.3zM153.5 238.0h1.3v1.3h-1.3zM160.4 190.3h1.3v1.3h-1.3zM151.3 237.3h1.3v1.3h-1.3zM125.5 242.4h1.3v1.3h-1.3zM138.6 241.9h1.3v1.3h-1.3zM143.8 239.6h1.3v1.3h-1.3zM160.8 229.8h1.3v1.3h-1.3zM139.4 242.7h1.3v1.3h-1.3zM145.2 243.3h1.3v1.3h-1.3zM157.7 233.0h1.3v1.3h-1.3zM150.1 222.8h1.3v1.3h-1.3zM152.6 207.0h1.3v1.3h-1.3zM146.6 240.6h1.3v1.3h-1.3zM149.7 241.0h1.3v1.3h-1.3zM139.7 240.6h1.3v1.3h-1.3zM151.8 218.0h1.3v1.3h-1.3zM156.2 228.6h1.3v1.3h-1.3zM156.9 238.4h1.3v1.3h-1.3zM145.9 239.4h1.3v1.3h-1.3zM160.1 198.4h1.3v1.3h-1.3zM151.8 237.0h1.3v1.3h-1.3zM156.2 241.5h1.3v1.3h-1.3zM139.5 243.5h1.3v1.3h-1.3zM158.1 232.2h1.3v1.3h-1.3zM150.7 226.6h1.3v1.3h-1.3zM156.1 242.7h1.3v1.3h-1.3zM156.4 226.8h1.3v1.3h-1.3zM156.4 221.5h1.3v1.3h-1.3zM142.7 243.0h1.3v1.3h-1.3zM155.4 243.6h1.3v1.3h-1.3zM153.9 230.3h1.3v1.3h-1.3zM157.7 230.2h1.3v1.3h-1.3zM156.9 189.1h1.3v1.3h-1.3zM140.1 233.3h1.3v1.3h-1.3zM160.3 227.4h1.3v1.3h-1.3zM144.1 232.7h1.3v1.3h-1.3zM149.1 221.8h1.3v1.3h-1.3zM159.5 240.5h1.3v1.3h-1.3zM148.8 232.8h1.3v1.3h-1.3zM160.0 234.8h1.3v1.3h-1.3zM143.3 234.6h1.3v1.3h-1.3zM143.5 240.7h1.3v1.3h-1.3zM154.5 238.9h1.3v1.3h-1.3zM141.8 237.0h1.3v1.3h-1.3zM159.8 221.1h1.3v1.3h-1.3zM156.1 209.5h1.3v1.3h-1.3zM157.9 240.2h1.3v1.3h-1.3zM150.1 221.1h1.3v1.3h-1.3zM160.6 243.7h1.3v1.3h-1.3zM153.0 240.9h1.3v1.3h-1.3zM155.7 240.7h1.3v1.3h-1.3zM148.6 231.5h1.3v1.3h-1.3zM150.2 226.9h1.3v1.3h-1.3zM159.9 239.4h1.3v1.3h-1.3zM142.8 242.2h1.3v1.3h-1.3zM160.0 238.0h1.3v1.3h-1.3zM160.9 178.8h1.3v1.3h-1.3zM135.3 241.8h1.3v1.3h-1.3zM158.0 228.2h1.3v1.3h-1.3zM141.0 241.2h1.3v1.3h-1.3zM139.2 237.8h1.3v1.3h-1.3zM146.9 237.1h1.3v1.3h-1.3zM154.3 232.9h1.3v1.3h-1.3zM138.5 242.0h1.3v1.3h-1.3zM156.9 232.1h1.3v1.3h-1.3zM139.9 243.3h1.3v1.3h-1.3zM161.0 230.1h1.3v1.3h-1.3zM160.0 190.5h1.3v1.3h-1.3zM158.9 234.0h1.3v1.3h-1.3zM147.2 239.4h1.3v1.3h-1.3zM154.4 199.6h1.3v1.3h-1.3zM152.6 234.4h1.3v1.3h-1.3zM160.9 229.4h1.3v1.3h-1.3zM155.1 235.7h1.3v1.3h-1.3zM157.9 202.9h1.3v1.3h-1.3zM128.7 241.3h1.3v1.3h-1.3zM158.7 230.9h1.3v1.3h-1.3zM144.5 241.7h1.3v1.3h-1.3zM125.8 241.2h1.3v1.3h-1.3zM149.1 241.7h1.3v1.3h-1.3zM159.4 216.1h1.3v1.3h-1.3zM158.2 236.6h1.3v1.3h-1.3zM131.2 242.6h1.3v1.3h-1.3zM160.3 241.6h1.3v1.3h-1.3zM156.4 202.3h1.3v1.3h-1.3zM156.1 229.3h1.3v1.3h-1.3zM140.5 243.5h1.3v1.3h-1.3zM156.7 233.4h1.3v1.3h-1.3zM150.8 241.1h1.3v1.3h-1.3zM151.3 235.7h1.3v1.3h-1.3zM155.8 199.2h1.3v1.3h-1.3zM140.6 238.8h1.3v1.3h-1.3zM159.2 228.1h1.3v1.3h-1.3zM160.1 240.6h1.3v1.3h-1.3zM147.4 243.2h1.3v1.3h-1.3zM139.1 243.7h1.3v1.3h-1.3zM146.6 232.7h1.3v1.3h-1.3zM148.0 232.3h1.3v1.3h-1.3zM159.1 220.9h1.3v1.3h-1.3zM143.5 241.7h1.3v1.3h-1.3zM146.2 243.6h1.3v1.3h-1.3zM148.2 236.4h1.3v1.3h-1.3zM161.1 235.5h1.3v1.3h-1.3zM156.0 220.3h1.3v1.3h-1.3zM151.3 230.7h1.3v1.3h-1.3zM153.7 234.7h1.3v1.3h-1.3zM151.6 235.7h1.3v1.3h-1.3zM157.6 237.4h1.3v1.3h-1.3zM160.2 220.2h1.3v1.3h-1.3zM149.8 239.0h1.3v1.3h-1.3zM161.0 220.5h1.3v1.3h-1.3zM146.8 240.7h1.3v1.3h-1.3zM142.2 241.2h1.3v1.3h-1.3zM140.3 240.4h1.3v1.3h-1.3zM160.4 236.4h1.3v1.3h-1.3zM157.5 210.8h1.3v1.3h-1.3zM124.8 238.2h1.3v1.3h-1.3zM153.9 240.5h1.3v1.3h-1.3zM156.5 237.9h1.3v1.3h-1.3zM150.9 218.2h1.3v1.3h-1.3zM159.2 238.4h1.3v1.3h-1.3zM144.8 239.1h1.3v1.3h-1.3zM146.8 234.5h1.3v1.3h-1.3zM159.6 205.7h1.3v1.3h-1.3zM155.7 241.9h1.3v1.3h-1.3zM160.1 221.0h1.3v1.3h-1.3zM153.9 243.4h1.3v1.3h-1.3zM144.9 220.5h1.3v1.3h-1.3zM160.4 216.7h1.3v1.3h-1.3zM159.0 230.0h1.3v1.3h-1.3zM137.4 235.1h1.3v1.3h-1.3zM157.2 232.1h1.3v1.3h-1.3zM155.2 225.7h1.3v1.3h-1.3zM138.4 243.7h1.3v1.3h-1.3zM159.0 236.7h1.3v1.3h-1.3zM140.6 243.2h1.3v1.3h-1.3zM140.8 228.7h1.3v1.3h-1.3zM155.6 233.0h1.3v1.3h-1.3zM136.6 238.8h1.3v1.3h-1.3zM137.4 237.4h1.3v1.3h-1.3zM153.0 230.3h1.3v1.3h-1.3zM142.0 242.7h1.3v1.3h-1.3zM151.0 225.4h1.3v1.3h-1.3zM116.5 240.6h1.3v1.3h-1.3zM126.1 237.6h1.3v1.3h-1.3zM119.2 243.4h1.3v1.3h-1.3zM124.7 242.4h1.3v1.3h-1.3zM114.4 240.1h1.3v1.3h-1.3zM104.7 243.7h1.3v1.3h-1.3zM121.2 240.2h1.3v1.3h-1.3zM138.6 237.9h1.3v1.3h-1.3zM117.0 243.1h1.3v1.3h-1.3zM103.8 243.3h1.3v1.3h-1.3zM150.0 239.1h1.3v1.3h-1.3zM129.6 234.7h1.3v1.3h-1.3zM101.2 240.8h1.3v1.3h-1.3zM147.8 238.4h1.3v1.3h-1.3zM120.6 242.4h1.3v1.3h-1.3zM147.9 239.6h1.3v1.3h-1.3zM125.6 234.8h1.3v1.3h-1.3zM111.3 239.1h1.3v1.3h-1.3zM145.1 242.9h1.3v1.3h-1.3zM123.1 241.2h1.3v1.3h-1.3zM133.6 241.2h1.3v1.3h-1.3zM101.3 242.8h1.3v1.3h-1.3zM105.3 243.6h1.3v1.3h-1.3zM148.5 236.6h1.3v1.3h-1.3zM145.7 238.8h1.3v1.3h-1.3zM118.8 239.9h1.3v1.3h-1.3zM122.6 240.5h1.3v1.3h-1.3zM116.3 241.5h1.3v1.3h-1.3zM126.7 240.5h1.3v1.3h-1.3zM121.5 243.1h1.3v1.3h-1.3zM140.5 240.4h1.3v1.3h-1.3zM107.4 243.3h1.3v1.3h-1.3zM114.0 240.7h1.3v1.3h-1.3zM115.8 234.2h1.3v1.3h-1.3zM118.8 243.5h1.3v1.3h-1.3zM123.6 240.7h1.3v1.3h-1.3zM145.6 242.1h1.3v1.3h-1.3zM105.1 235.4h1.3v1.3h-1.3zM145.5 241.9h1.3v1.3h-1.3zM134.3 242.4h1.3v1.3h-1.3zM124.9 241.3h1.3v1.3h-1.3zM133.0 243.0h1.3v1.3h-1.3zM146.0 243.5h1.3v1.3h-1.3zM115.2 240.4h1.3v1.3h-1.3zM139.1 241.6h1.3v1.3h-1.3zM99.9 238.7h1.3v1.3h-1.3zM120.8 243.1h1.3v1.3h-1.3zM111.4 240.7h1.3v1.3h-1.3zM146.0 243.6h1.3v1.3h-1.3zM147.0 235.4h1.3v1.3h-1.3zM115.9 243.4h1.3v1.3h-1.3zM103.6 240.5h1.3v1.3h-1.3zM147.2 237.5h1.3v1.3h-1.3zM135.1 242.6h1.3v1.3h-1.3zM143.2 235.5h1.3v1.3h-1.3zM106.9 243.7h1.3v1.3h-1.3zM130.6 243.2h1.3v1.3h-1.3zM141.7 229.1h1.3v1.3h-1.3zM116.6 242.2h1.3v1.3h-1.3zM118.3 240.3h1.3v1.3h-1.3zM111.8 242.9h1.3v1.3h-1.3zM109.1 243.7h1.3v1.3h-1.3zM122.6 242.6h1.3v1.3h-1.3zM122.3 242.6h1.3v1.3h-1.3zM108.5 243.7h1.3v1.3h-1.3zM110.8 243.2h1.3v1.3h-1.3zM132.6 243.5h1.3v1.3h-1.3zM141.8 243.6h1.3v1.3h-1.3zM106.7 242.6h1.3v1.3h-1.3zM132.9 243.5h1.3v1.3h-1.3zM143.8 240.4h1.3v1.3h-1.3zM139.3 243.5h1.3v1.3h-1.3zM116.2 243.1h1.3v1.3h-1.3zM103.3 238.4h1.3v1.3h-1.3zM123.6 239.7h1.3v1.3h-1.3zM117.9 241.2h1.3v1.3h-1.3zM138.9 237.5h1.3v1.3h-1.3zM104.9 241.2h1.3v1.3h-1.3zM128.1 243.4h1.3v1.3h-1.3zM101.8 241.9h1.3v1.3h-1.3zM118.7 243.3h1.3v1.3h-1.3zM101.7 243.1h1.3v1.3h-1.3zM130.1 242.4h1.3v1.3h-1.3zM101.1 243.6h1.3v1.3h-1.3zM105.9 241.6h1.3v1.3h-1.3zM118.5 241.1h1.3v1.3h-1.3zM112.3 243.4h1.3v1.3h-1.3zM146.5 243.3h1.3v1.3h-1.3zM130.1 243.5h1.3v1.3h-1.3zM112.9 242.0h1.3v1.3h-1.3zM146.3 243.3h1.3v1.3h-1.3zM121.6 240.4h1.3v1.3h-1.3zM117.0 242.1h1.3v1.3h-1.3zM105.3 238.6h1.3v1.3h-1.3zM127.1 236.9h1.3v1.3h-1.3zM137.0 241.7h1.3v1.3h-1.3zM114.5 243.3h1.3v1.3h-1.3zM99.6 239.6h1.3v1.3h-1.3zM106.2 242.5h1.3v1.3h-1.3zM133.6 242.9h1.3v1.3h-1.3zM130.3 238.7h1.3v1.3h-1.3zM144.6 242.4h1.3v1.3h-1.3zM132.2 242.3h1.3v1.3h-1.3zM118.2 239.2h1.3v1.3h-1.3zM146.3 243.2h1.3v1.3h-1.3zM110.2 241.4h1.3v1.3h-1.3zM134.1 242.6h1.3v1.3h-1.3zM147.7 239.4h1.3v1.3h-1.3zM107.4 243.6h1.3v1.3h-1.3zM137.1 243.4h1.3v1.3h-1.3zM120.3 243.6h1.3v1.3h-1.3zM135.0 242.6h1.3v1.3h-1.3zM102.6 238.3h1.3v1.3h-1.3zM131.9 241.1h1.3v1.3h-1.3zM141.0 241.5h1.3v1.3h-1.3zM112.5 242.7h1.3v1.3h-1.3zM141.6 238.4h1.3v1.3h-1.3zM105.6 238.8h1.3v1.3h-1.3zM141.6 236.6h1.3v1.3h-1.3zM102.5 243.7h1.3v1.3h-1.3zM117.0 238.6h1.3v1.3h-1.3zM111.2 239.6h1.3v1.3h-1.3zM137.8 234.3h1.3v1.3h-1.3zM136.6 243.7h1.3v1.3h-1.3zM145.0 241.0h1.3v1.3h-1.3zM131.2 242.6h1.3v1.3h-1.3zM126.0 241.8h1.3v1.3h-1.3zM144.4 239.2h1.3v1.3h-1.3zM125.0 242.3h1.3v1.3h-1.3zM125.3 236.5h1.3v1.3h-1.3zM103.7 242.6h1.3v1.3h-1.3zM146.9 242.4h1.3v1.3h-1.3zM136.5 241.4h1.3v1.3h-1.3zM137.8 242.0h1.3v1.3h-1.3zM147.1 239.2h1.3v1.3h-1.3zM125.4 243.1h1.3v1.3h-1.3zM118.9 221.1h1.3v1.3h-1.3zM102.7 242.8h1.3v1.3h-1.3zM147.0 240.2h1.3v1.3h-1.3zM147.2 239.0h1.3v1.3h-1.3zM124.0 242.7h1.3v1.3h-1.3zM144.9 240.0h1.3v1.3h-1.3zM126.2 235.3h1.3v1.3h-1.3zM110.0 243.4h1.3v1.3h-1.3zM108.9 241.6h1.3v1.3h-1.3zM145.0 241.8h1.3v1.3h-1.3zM109.8 243.6h1.3v1.3h-1.3zM114.2 242.3h1.3v1.3h-1.3zM136.9 240.8h1.3v1.3h-1.3zM118.1 239.7h1.3v1.3h-1.3zM104.1 241.7h1.3v1.3h-1.3zM115.0 243.7h1.3v1.3h-1.3zM117.0 240.2h1.3v1.3h-1.3zM116.2 243.4h1.3v1.3h-1.3zM131.5 242.1h1.3v1.3h-1.3zM104.8 243.0h1.3v1.3h-1.3zM147.9 230.8h1.3v1.3h-1.3zM116.6 241.3h1.3v1.3h-1.3zM114.4 243.7h1.3v1.3h-1.3zM126.7 240.0h1.3v1.3h-1.3zM127.1 238.1h1.3v1.3h-1.3zM135.5 229.3h1.3v1.3h-1.3zM107.3 243.0h1.3v1.3h-1.3zM134.0 242.9h1.3v1.3h-1.3zM146.7 243.6h1.3v1.3h-1.3zM141.6 241.5h1.3v1.3h-1.3zM125.4 243.6h1.3v1.3h-1.3zM131.0 237.3h1.3v1.3h-1.3zM112.2 241.3h1.3v1.3h-1.3zM139.2 233.1h1.3v1.3h-1.3zM140.2 240.8h1.3v1.3h-1.3zM155.7 166.6h1.3v1.3h-1.3zM156.5 149.5h1.3v1.3h-1.3zM140.1 231.9h1.3v1.3h-1.3zM158.3 190.3h1.3v1.3h-1.3zM142.8 204.3h1.3v1.3h-1.3zM139.2 223.2h1.3v1.3h-1.3zM134.1 229.5h1.3v1.3h-1.3zM136.2 210.5h1.3v1.3h-1.3zM151.6 192.1h1.3v1.3h-1.3zM153.9 208.5h1.3v1.3h-1.3zM148.9 213.2h1.3v1.3h-1.3zM153.2 163.9h1.3v1.3h-1.3zM64.1 242.4h1.3v1.3h-1.3zM155.5 169.6h1.3v1.3h-1.3zM158.5 189.2h1.3v1.3h-1.3zM160.0 151.6h1.3v1.3h-1.3zM137.9 223.5h1.3v1.3h-1.3zM148.6 216.5h1.3v1.3h-1.3zM158.8 161.5h1.3v1.3h-1.3zM109.8 228.3h1.3v1.3h-1.3zM159.8 185.7h1.3v1.3h-1.3zM135.6 197.2h1.3v1.3h-1.3zM126.2 235.2h1.3v1.3h-1.3zM140.3 225.3h1.3v1.3h-1.3zM159.0 217.9h1.3v1.3h-1.3zM154.2 205.4h1.3v1.3h-1.3zM145.0 194.0h1.3v1.3h-1.3zM148.2 203.7h1.3v1.3h-1.3zM150.9 194.5h1.3v1.3h-1.3zM144.2 212.7h1.3v1.3h-1.3zM150.2 193.8h1.3v1.3h-1.3zM152.7 187.2h1.3v1.3h-1.3zM156.9 195.3h1.3v1.3h-1.3zM131.9 203.0h1.3v1.3h-1.3zM145.8 208.6h1.3v1.3h-1.3zM114.4 234.4h1.3v1.3h-1.3zM135.4 207.8h1.3v1.3h-1.3zM160.4 162.6h1.3v1.3h-1.3zM157.7 198.4h1.3v1.3h-1.3zM123.4 226.3h1.3v1.3h-1.3zM155.0 170.0h1.3v1.3h-1.3zM114.5 222.2h1.3v1.3h-1.3zM151.9 206.6h1.3v1.3h-1.3zM108.1 225.0h1.3v1.3h-1.3zM159.9 138.8h1.3v1.3h-1.3zM149.5 204.6h1.3v1.3h-1.3zM159.1 160.5h1.3v1.3h-1.3zM154.3 175.6h1.3v1.3h-1.3zM154.1 191.5h1.3v1.3h-1.3zM154.5 154.2h1.3v1.3h-1.3zM146.0 182.8h1.3v1.3h-1.3zM159.5 179.9h1.3v1.3h-1.3zM128.9 217.4h1.3v1.3h-1.3zM145.7 205.6h1.3v1.3h-1.3zM152.2 205.7h1.3v1.3h-1.3zM149.5 208.1h1.3v1.3h-1.3zM140.0 219.2h1.3v1.3h-1.3zM136.3 207.0h1.3v1.3h-1.3zM144.4 191.1h1.3v1.3h-1.3zM153.8 219.0h1.3v1.3h-1.3zM146.4 214.6h1.3v1.3h-1.3zM149.3 217.1h1.3v1.3h-1.3zM157.0 178.5h1.3v1.3h-1.3zM139.3 217.4h1.3v1.3h-1.3zM132.8 212.6h1.3v1.3h-1.3zM158.6 219.0h1.3v1.3h-1.3zM152.2 183.2h1.3v1.3h-1.3zM139.5 231.5h1.3v1.3h-1.3zM127.2 219.5h1.3v1.3h-1.3zM153.3 188.2h1.3v1.3h-1.3zM160.8 150.9h1.3v1.3h-1.3zM134.1 232.1h1.3v1.3h-1.3zM157.0 211.7h1.3v1.3h-1.3zM158.4 149.7h1.3v1.3h-1.3zM138.2 223.9h1.3v1.3h-1.3zM160.9 215.4h1.3v1.3h-1.3zM159.9 206.3h1.3v1.3h-1.3zM151.8 223.5h1.3v1.3h-1.3zM154.8 205.2h1.3v1.3h-1.3zM140.6 192.9h1.3v1.3h-1.3zM155.2 157.2h1.3v1.3h-1.3zM156.7 204.8h1.3v1.3h-1.3zM160.3 218.7h1.3v1.3h-1.3zM106.8 238.4h1.3v1.3h-1.3zM130.9 225.2h1.3v1.3h-1.3zM150.8 219.7h1.3v1.3h-1.3zM147.3 173.6h1.3v1.3h-1.3zM136.8 204.1h1.3v1.3h-1.3zM133.9 219.7h1.3v1.3h-1.3zM156.0 224.7h1.3v1.3h-1.3zM155.7 220.7h1.3v1.3h-1.3zM151.7 224.0h1.3v1.3h-1.3zM158.8 157.4h1.3v1.3h-1.3zM152.2 196.4h1.3v1.3h-1.3zM136.0 210.1h1.3v1.3h-1.3zM135.2 216.8h1.3v1.3h-1.3zM152.7 227.0h1.3v1.3h-1.3zM120.6 233.2h1.3v1.3h-1.3zM133.8 218.6h1.3v1.3h-1.3zM140.4 210.3h1.3v1.3h-1.3zM150.2 208.1h1.3v1.3h-1.3zM160.4 202.9h1.3v1.3h-1.3zM160.9 176.5h1.3v1.3h-1.3zM157.7 166.7h1.3v1.3h-1.3zM152.2 215.1h1.3v1.3h-1.3zM158.2 143.1h1.3v1.3h-1.3zM80.8 236.7h1.3v1.3h-1.3zM159.2 218.8h1.3v1.3h-1.3zM151.9 205.5h1.3v1.3h-1.3zM143.0 198.3h1.3v1.3h-1.3zM143.1 192.0h1.3v1.3h-1.3zM153.7 190.2h1.3v1.3h-1.3zM155.8 167.1h1.3v1.3h-1.3zM155.6 204.1h1.3v1.3h-1.3zM155.4 208.6h1.3v1.3h-1.3zM158.4 172.3h1.3v1.3h-1.3zM157.0 223.0h1.3v1.3h-1.3zM155.5 167.1h1.3v1.3h-1.3zM142.3 190.3h1.3v1.3h-1.3zM143.9 207.5h1.3v1.3h-1.3zM155.7 220.5h1.3v1.3h-1.3zM145.1 198.1h1.3v1.3h-1.3zM152.6 223.3h1.3v1.3h-1.3zM136.9 213.6h1.3v1.3h-1.3zM152.3 170.2h1.3v1.3h-1.3zM119.6 229.0h1.3v1.3h-1.3zM143.0 205.7h1.3v1.3h-1.3zM138.6 202.7h1.3v1.3h-1.3zM155.6 222.4h1.3v1.3h-1.3zM139.3 229.7h1.3v1.3h-1.3zM123.0 234.5h1.3v1.3h-1.3zM132.0 203.3h1.3v1.3h-1.3zM149.0 225.9h1.3v1.3h-1.3zM144.0 230.1h1.3v1.3h-1.3zM145.2 185.7h1.3v1.3h-1.3zM145.1 213.3h1.3v1.3h-1.3zM150.3 219.9h1.3v1.3h-1.3zM143.4 196.1h1.3v1.3h-1.3zM141.3 231.4h1.3v1.3h-1.3zM125.2 219.0h1.3v1.3h-1.3zM149.9 185.3h1.3v1.3h-1.3zM155.6 164.3h1.3v1.3h-1.3zM147.4 207.0h1.3v1.3h-1.3zM157.2 194.5h1.3v1.3h-1.3zM136.6 206.0h1.3v1.3h-1.3zM154.5 161.8h1.3v1.3h-1.3zM152.1 191.0h1.3v1.3h-1.3zM159.8 141.4h1.3v1.3h-1.3zM119.2 222.4h1.3v1.3h-1.3zM153.9 211.0h1.3v1.3h-1.3zM144.6 213.5h1.3v1.3h-1.3zM93.1 237.5h1.3v1.3h-1.3zM143.1 215.1h1.3v1.3h-1.3zM93.9 229.1h1.3v1.3h-1.3zM117.1 223.3h1.3v1.3h-1.3zM115.1 225.4h1.3v1.3h-1.3zM158.8 219.5h1.3v1.3h-1.3zM88.1 233.6h1.3v1.3h-1.3zM73.5 236.7h1.3v1.3h-1.3zM133.1 221.3h1.3v1.3h-1.3zM85.0 234.3h1.3v1.3h-1.3zM102.0 242.7h1.3v1.3h-1.3zM161.2 232.3h1.3v1.3h-1.3zM130.4 220.6h1.3v1.3h-1.3zM138.4 242.4h1.3v1.3h-1.3zM157.9 197.3h1.3v1.3h-1.3zM140.8 232.6h1.3v1.3h-1.3zM82.1 231.3h1.3v1.3h-1.3zM134.2 224.4h1.3v1.3h-1.3zM125.8 236.0h1.3v1.3h-1.3zM76.5 243.6h1.3v1.3h-1.3zM100.5 230.2h1.3v1.3h-1.3zM92.1 234.9h1.3v1.3h-1.3zM79.3 233.5h1.3v1.3h-1.3zM103.4 242.8h1.3v1.3h-1.3zM81.3 241.5h1.3v1.3h-1.3zM147.7 231.7h1.3v1.3h-1.3zM115.9 236.2h1.3v1.3h-1.3zM122.0 235.9h1.3v1.3h-1.3zM139.7 219.2h1.3v1.3h-1.3zM101.0 242.8h1.3v1.3h-1.3zM80.7 241.5h1.3v1.3h-1.3zM132.5 220.1h1.3v1.3h-1.3zM84.2 230.7h1.3v1.3h-1.3zM82.8 236.5h1.3v1.3h-1.3zM156.0 39.6h1.3v1.3h-1.3zM144.8 43.1h1.3v1.3h-1.3zM159.0 55.1h1.3v1.3h-1.3zM153.8 73.4h1.3v1.3h-1.3zM158.3 57.2h1.3v1.3h-1.3zM156.0 102.9h1.3v1.3h-1.3zM75.1 161.4h1.3v1.3h-1.3zM82.6 181.8h1.3v1.3h-1.3zM71.4 215.6h1.3v1.3h-1.3z" fill="#2F7EC0"/>
<path d="M203.4 237.0h1.3v1.3h-1.3zM197.0 221.1h1.3v1.3h-1.3zM209.1 241.5h1.3v1.3h-1.3zM183.2 224.5h1.3v1.3h-1.3zM196.6 236.0h1.3v1.3h-1.3zM181.3 242.7h1.3v1.3h-1.3zM177.7 198.3h1.3v1.3h-1.3zM202.5 243.6h1.3v1.3h-1.3zM181.4 228.7h1.3v1.3h-1.3zM184.0 243.0h1.3v1.3h-1.3zM198.3 238.2h1.3v1.3h-1.3zM180.4 232.7h1.3v1.3h-1.3zM181.6 227.8h1.3v1.3h-1.3zM200.7 239.6h1.3v1.3h-1.3zM180.5 236.6h1.3v1.3h-1.3zM196.8 235.8h1.3v1.3h-1.3zM181.1 204.0h1.3v1.3h-1.3zM186.5 176.2h1.3v1.3h-1.3zM201.7 243.4h1.3v1.3h-1.3zM182.9 243.6h1.3v1.3h-1.3zM211.3 242.9h1.3v1.3h-1.3zM178.9 228.8h1.3v1.3h-1.3zM205.7 239.5h1.3v1.3h-1.3zM198.6 238.0h1.3v1.3h-1.3zM185.7 236.5h1.3v1.3h-1.3zM185.7 243.5h1.3v1.3h-1.3zM177.8 106.3h1.3v1.3h-1.3zM178.5 237.0h1.3v1.3h-1.3zM184.4 226.2h1.3v1.3h-1.3zM177.4 210.2h1.3v1.3h-1.3zM186.6 243.1h1.3v1.3h-1.3zM181.4 198.5h1.3v1.3h-1.3zM191.3 242.4h1.3v1.3h-1.3zM187.6 242.9h1.3v1.3h-1.3zM182.3 237.9h1.3v1.3h-1.3zM230.0 242.0h1.3v1.3h-1.3zM216.6 241.8h1.3v1.3h-1.3zM191.9 243.7h1.3v1.3h-1.3zM199.3 238.9h1.3v1.3h-1.3zM181.6 215.9h1.3v1.3h-1.3zM202.1 242.9h1.3v1.3h-1.3zM176.4 219.8h1.3v1.3h-1.3zM200.0 243.1h1.3v1.3h-1.3zM185.7 243.1h1.3v1.3h-1.3zM176.9 228.2h1.3v1.3h-1.3zM202.3 235.1h1.3v1.3h-1.3zM190.3 233.0h1.3v1.3h-1.3zM179.0 232.0h1.3v1.3h-1.3zM178.1 238.9h1.3v1.3h-1.3zM178.1 232.1h1.3v1.3h-1.3zM176.6 240.4h1.3v1.3h-1.3zM189.3 235.2h1.3v1.3h-1.3zM179.2 239.2h1.3v1.3h-1.3zM187.4 243.2h1.3v1.3h-1.3zM192.9 231.8h1.3v1.3h-1.3zM202.5 242.9h1.3v1.3h-1.3zM193.4 238.2h1.3v1.3h-1.3zM179.2 211.7h1.3v1.3h-1.3zM179.2 240.2h1.3v1.3h-1.3zM199.4 224.4h1.3v1.3h-1.3zM190.6 242.8h1.3v1.3h-1.3zM183.2 231.2h1.3v1.3h-1.3zM179.0 209.5h1.3v1.3h-1.3zM182.4 233.2h1.3v1.3h-1.3zM183.8 243.7h1.3v1.3h-1.3zM199.1 233.1h1.3v1.3h-1.3zM201.9 240.0h1.3v1.3h-1.3zM182.3 238.0h1.3v1.3h-1.3zM178.4 238.9h1.3v1.3h-1.3zM185.0 237.3h1.3v1.3h-1.3zM190.6 195.7h1.3v1.3h-1.3zM179.1 205.7h1.3v1.3h-1.3zM181.2 234.5h1.3v1.3h-1.3zM180.4 226.6h1.3v1.3h-1.3zM182.9 241.6h1.3v1.3h-1.3zM186.2 242.3h1.3v1.3h-1.3zM180.2 234.4h1.3v1.3h-1.3zM196.8 235.1h1.3v1.3h-1.3zM186.3 236.6h1.3v1.3h-1.3zM179.9 230.8h1.3v1.3h-1.3zM183.4 234.0h1.3v1.3h-1.3zM184.0 240.3h1.3v1.3h-1.3zM181.1 235.9h1.3v1.3h-1.3zM177.1 241.4h1.3v1.3h-1.3zM191.1 240.4h1.3v1.3h-1.3zM190.0 227.5h1.3v1.3h-1.3zM187.9 237.4h1.3v1.3h-1.3zM196.5 239.0h1.3v1.3h-1.3zM176.7 209.4h1.3v1.3h-1.3zM183.5 234.1h1.3v1.3h-1.3zM190.2 233.9h1.3v1.3h-1.3zM210.4 240.5h1.3v1.3h-1.3zM178.2 222.5h1.3v1.3h-1.3zM191.7 243.7h1.3v1.3h-1.3zM189.3 234.7h1.3v1.3h-1.3zM189.0 239.0h1.3v1.3h-1.3zM180.7 229.6h1.3v1.3h-1.3zM179.0 213.3h1.3v1.3h-1.3zM178.2 227.6h1.3v1.3h-1.3zM188.1 240.4h1.3v1.3h-1.3zM177.9 195.6h1.3v1.3h-1.3zM217.9 241.1h1.3v1.3h-1.3zM194.7 239.9h1.3v1.3h-1.3zM179.8 230.7h1.3v1.3h-1.3zM176.5 225.6h1.3v1.3h-1.3zM193.9 241.0h1.3v1.3h-1.3zM207.5 243.3h1.3v1.3h-1.3zM179.5 226.7h1.3v1.3h-1.3zM185.6 220.8h1.3v1.3h-1.3zM176.4 206.9h1.3v1.3h-1.3zM177.0 207.3h1.3v1.3h-1.3zM187.4 243.6h1.3v1.3h-1.3zM201.2 242.1h1.3v1.3h-1.3zM183.9 206.6h1.3v1.3h-1.3zM181.6 242.5h1.3v1.3h-1.3zM178.9 218.3h1.3v1.3h-1.3zM177.9 236.1h1.3v1.3h-1.3zM179.0 232.9h1.3v1.3h-1.3zM177.7 169.9h1.3v1.3h-1.3zM202.9 243.3h1.3v1.3h-1.3zM178.0 227.4h1.3v1.3h-1.3zM217.0 239.6h1.3v1.3h-1.3zM178.0 206.9h1.3v1.3h-1.3zM176.7 228.3h1.3v1.3h-1.3zM191.0 239.2h1.3v1.3h-1.3zM187.4 230.9h1.3v1.3h-1.3zM178.5 241.1h1.3v1.3h-1.3zM180.3 242.2h1.3v1.3h-1.3zM178.2 243.0h1.3v1.3h-1.3zM180.7 224.0h1.3v1.3h-1.3zM178.3 231.4h1.3v1.3h-1.3zM177.5 239.1h1.3v1.3h-1.3zM181.2 198.3h1.3v1.3h-1.3zM178.7 241.3h1.3v1.3h-1.3zM198.1 241.6h1.3v1.3h-1.3zM182.1 234.9h1.3v1.3h-1.3zM183.7 243.4h1.3v1.3h-1.3zM188.8 221.8h1.3v1.3h-1.3zM178.3 199.2h1.3v1.3h-1.3zM194.0 236.9h1.3v1.3h-1.3zM188.2 237.9h1.3v1.3h-1.3zM187.2 218.8h1.3v1.3h-1.3zM193.4 238.1h1.3v1.3h-1.3zM200.5 243.7h1.3v1.3h-1.3zM182.7 243.4h1.3v1.3h-1.3zM187.5 232.6h1.3v1.3h-1.3zM184.3 241.7h1.3v1.3h-1.3zM176.8 209.4h1.3v1.3h-1.3zM184.4 235.0h1.3v1.3h-1.3zM189.3 242.2h1.3v1.3h-1.3zM187.9 236.8h1.3v1.3h-1.3zM205.0 238.9h1.3v1.3h-1.3zM207.6 237.0h1.3v1.3h-1.3zM181.3 224.2h1.3v1.3h-1.3zM178.6 234.4h1.3v1.3h-1.3zM188.4 239.8h1.3v1.3h-1.3zM183.6 232.0h1.3v1.3h-1.3zM219.7 243.3h1.3v1.3h-1.3zM201.6 242.8h1.3v1.3h-1.3zM232.8 243.2h1.3v1.3h-1.3zM188.5 234.5h1.3v1.3h-1.3zM176.3 223.7h1.3v1.3h-1.3zM180.7 226.6h1.3v1.3h-1.3zM185.5 224.5h1.3v1.3h-1.3zM180.9 229.7h1.3v1.3h-1.3zM185.1 206.7h1.3v1.3h-1.3zM198.2 219.1h1.3v1.3h-1.3zM183.9 220.3h1.3v1.3h-1.3zM176.8 231.3h1.3v1.3h-1.3zM177.2 232.2h1.3v1.3h-1.3zM180.2 231.5h1.3v1.3h-1.3zM190.0 243.7h1.3v1.3h-1.3zM186.2 242.1h1.3v1.3h-1.3zM181.5 211.0h1.3v1.3h-1.3zM186.7 237.5h1.3v1.3h-1.3zM200.3 235.5h1.3v1.3h-1.3zM177.2 230.9h1.3v1.3h-1.3zM181.4 243.2h1.3v1.3h-1.3zM196.4 241.6h1.3v1.3h-1.3zM177.0 237.2h1.3v1.3h-1.3zM193.4 242.1h1.3v1.3h-1.3zM184.2 234.7h1.3v1.3h-1.3zM184.7 225.3h1.3v1.3h-1.3zM189.5 234.3h1.3v1.3h-1.3zM179.9 225.5h1.3v1.3h-1.3zM180.5 224.3h1.3v1.3h-1.3zM189.7 215.2h1.3v1.3h-1.3zM176.8 203.4h1.3v1.3h-1.3zM195.0 241.5h1.3v1.3h-1.3zM186.6 221.7h1.3v1.3h-1.3zM191.2 221.1h1.3v1.3h-1.3zM181.1 212.9h1.3v1.3h-1.3zM198.2 242.1h1.3v1.3h-1.3zM184.2 236.1h1.3v1.3h-1.3zM176.5 241.8h1.3v1.3h-1.3zM193.8 228.7h1.3v1.3h-1.3zM179.0 226.4h1.3v1.3h-1.3zM199.7 243.3h1.3v1.3h-1.3zM180.1 211.9h1.3v1.3h-1.3zM186.8 209.6h1.3v1.3h-1.3zM187.9 229.4h1.3v1.3h-1.3zM187.9 225.3h1.3v1.3h-1.3zM179.6 240.5h1.3v1.3h-1.3zM202.9 242.6h1.3v1.3h-1.3zM198.1 242.4h1.3v1.3h-1.3zM179.6 242.6h1.3v1.3h-1.3zM178.2 129.5h1.3v1.3h-1.3zM180.3 157.1h1.3v1.3h-1.3zM177.0 233.1h1.3v1.3h-1.3zM187.2 207.5h1.3v1.3h-1.3zM178.9 233.5h1.3v1.3h-1.3zM183.4 238.6h1.3v1.3h-1.3zM176.9 233.1h1.3v1.3h-1.3zM188.1 237.2h1.3v1.3h-1.3zM184.7 241.0h1.3v1.3h-1.3zM179.6 230.5h1.3v1.3h-1.3zM177.7 235.8h1.3v1.3h-1.3zM201.0 231.9h1.3v1.3h-1.3zM202.0 240.8h1.3v1.3h-1.3zM206.6 240.6h1.3v1.3h-1.3zM177.4 229.1h1.3v1.3h-1.3zM217.3 242.6h1.3v1.3h-1.3zM181.0 242.1h1.3v1.3h-1.3zM181.6 241.9h1.3v1.3h-1.3zM215.6 241.7h1.3v1.3h-1.3zM180.0 236.7h1.3v1.3h-1.3zM185.9 241.5h1.3v1.3h-1.3zM192.8 240.9h1.3v1.3h-1.3zM183.1 199.8h1.3v1.3h-1.3zM183.1 237.3h1.3v1.3h-1.3zM193.1 223.5h1.3v1.3h-1.3zM189.6 237.8h1.3v1.3h-1.3zM206.0 242.9h1.3v1.3h-1.3zM211.9 240.3h1.3v1.3h-1.3zM178.4 239.6h1.3v1.3h-1.3zM178.6 237.0h1.3v1.3h-1.3zM190.1 233.0h1.3v1.3h-1.3zM186.2 237.6h1.3v1.3h-1.3zM178.9 242.3h1.3v1.3h-1.3zM184.4 229.8h1.3v1.3h-1.3zM192.0 241.6h1.3v1.3h-1.3zM177.6 236.6h1.3v1.3h-1.3zM177.4 239.2h1.3v1.3h-1.3zM186.0 231.1h1.3v1.3h-1.3zM179.7 177.8h1.3v1.3h-1.3zM177.3 236.7h1.3v1.3h-1.3zM201.6 238.2h1.3v1.3h-1.3zM184.4 238.2h1.3v1.3h-1.3zM190.2 237.1h1.3v1.3h-1.3zM178.5 227.0h1.3v1.3h-1.3zM226.1 238.0h1.3v1.3h-1.3zM179.1 239.3h1.3v1.3h-1.3zM177.7 225.4h1.3v1.3h-1.3zM191.4 218.4h1.3v1.3h-1.3zM188.9 239.2h1.3v1.3h-1.3zM231.4 243.7h1.3v1.3h-1.3zM186.4 230.4h1.3v1.3h-1.3zM182.4 217.7h1.3v1.3h-1.3zM201.3 240.3h1.3v1.3h-1.3zM182.5 213.8h1.3v1.3h-1.3zM176.5 243.1h1.3v1.3h-1.3zM176.9 231.4h1.3v1.3h-1.3zM184.8 237.7h1.3v1.3h-1.3zM181.5 236.6h1.3v1.3h-1.3zM177.8 192.0h1.3v1.3h-1.3zM181.4 231.4h1.3v1.3h-1.3zM178.2 240.5h1.3v1.3h-1.3zM177.6 210.2h1.3v1.3h-1.3zM177.7 236.1h1.3v1.3h-1.3zM185.6 242.6h1.3v1.3h-1.3zM184.0 235.5h1.3v1.3h-1.3zM191.8 233.5h1.3v1.3h-1.3zM179.3 240.9h1.3v1.3h-1.3zM205.5 243.7h1.3v1.3h-1.3zM201.6 241.7h1.3v1.3h-1.3zM192.9 230.5h1.3v1.3h-1.3zM186.2 237.4h1.3v1.3h-1.3zM183.5 243.2h1.3v1.3h-1.3zM217.9 230.2h1.3v1.3h-1.3zM176.8 145.7h1.3v1.3h-1.3zM179.3 243.0h1.3v1.3h-1.3zM205.4 242.9h1.3v1.3h-1.3zM179.6 216.9h1.3v1.3h-1.3zM192.0 240.5h1.3v1.3h-1.3zM177.2 213.3h1.3v1.3h-1.3zM177.1 210.9h1.3v1.3h-1.3zM182.9 227.3h1.3v1.3h-1.3zM178.4 232.5h1.3v1.3h-1.3zM206.4 243.3h1.3v1.3h-1.3zM184.3 209.8h1.3v1.3h-1.3zM186.2 235.9h1.3v1.3h-1.3zM227.8 240.6h1.3v1.3h-1.3zM191.5 230.0h1.3v1.3h-1.3zM193.8 241.4h1.3v1.3h-1.3zM176.7 242.7h1.3v1.3h-1.3zM184.5 226.2h1.3v1.3h-1.3zM178.6 233.7h1.3v1.3h-1.3zM179.2 239.4h1.3v1.3h-1.3zM179.6 232.8h1.3v1.3h-1.3zM179.3 232.1h1.3v1.3h-1.3zM189.8 234.1h1.3v1.3h-1.3zM177.4 232.6h1.3v1.3h-1.3zM184.9 239.5h1.3v1.3h-1.3zM181.3 239.2h1.3v1.3h-1.3zM188.4 239.8h1.3v1.3h-1.3zM176.7 231.6h1.3v1.3h-1.3zM197.2 243.3h1.3v1.3h-1.3zM177.2 242.5h1.3v1.3h-1.3zM178.6 237.8h1.3v1.3h-1.3zM187.4 238.7h1.3v1.3h-1.3zM189.1 241.0h1.3v1.3h-1.3zM177.4 188.7h1.3v1.3h-1.3zM185.5 236.7h1.3v1.3h-1.3zM177.0 224.2h1.3v1.3h-1.3zM201.2 243.1h1.3v1.3h-1.3zM177.0 231.2h1.3v1.3h-1.3zM188.4 243.5h1.3v1.3h-1.3zM178.5 161.6h1.3v1.3h-1.3zM190.5 230.5h1.3v1.3h-1.3zM193.8 243.2h1.3v1.3h-1.3zM194.4 241.9h1.3v1.3h-1.3zM179.0 187.9h1.3v1.3h-1.3zM179.7 240.4h1.3v1.3h-1.3zM196.1 240.6h1.3v1.3h-1.3zM196.0 242.7h1.3v1.3h-1.3zM182.7 240.9h1.3v1.3h-1.3zM177.8 227.6h1.3v1.3h-1.3zM182.6 239.8h1.3v1.3h-1.3zM203.0 239.0h1.3v1.3h-1.3zM179.6 241.5h1.3v1.3h-1.3zM194.8 243.1h1.3v1.3h-1.3zM179.0 240.6h1.3v1.3h-1.3zM199.5 243.3h1.3v1.3h-1.3zM180.3 228.5h1.3v1.3h-1.3zM197.3 235.8h1.3v1.3h-1.3zM185.4 211.3h1.3v1.3h-1.3zM182.8 199.6h1.3v1.3h-1.3zM193.5 230.7h1.3v1.3h-1.3zM184.8 239.1h1.3v1.3h-1.3zM178.8 218.8h1.3v1.3h-1.3zM177.8 234.7h1.3v1.3h-1.3zM185.4 189.1h1.3v1.3h-1.3zM187.1 232.3h1.3v1.3h-1.3zM177.8 243.3h1.3v1.3h-1.3zM182.6 230.5h1.3v1.3h-1.3zM176.7 236.0h1.3v1.3h-1.3zM177.7 223.1h1.3v1.3h-1.3zM182.9 237.1h1.3v1.3h-1.3zM183.5 227.1h1.3v1.3h-1.3zM199.3 239.7h1.3v1.3h-1.3zM185.1 239.5h1.3v1.3h-1.3zM196.1 243.6h1.3v1.3h-1.3zM179.6 236.8h1.3v1.3h-1.3zM189.1 231.6h1.3v1.3h-1.3zM198.5 237.1h1.3v1.3h-1.3zM183.1 242.5h1.3v1.3h-1.3zM181.3 226.8h1.3v1.3h-1.3zM195.9 218.3h1.3v1.3h-1.3zM182.6 224.4h1.3v1.3h-1.3zM179.6 235.5h1.3v1.3h-1.3zM176.4 225.5h1.3v1.3h-1.3zM180.9 235.1h1.3v1.3h-1.3zM182.7 230.2h1.3v1.3h-1.3zM201.0 234.1h1.3v1.3h-1.3zM180.3 216.6h1.3v1.3h-1.3zM180.9 233.3h1.3v1.3h-1.3zM190.5 232.4h1.3v1.3h-1.3zM178.6 241.6h1.3v1.3h-1.3zM178.7 200.0h1.3v1.3h-1.3zM176.7 240.6h1.3v1.3h-1.3zM180.9 234.8h1.3v1.3h-1.3zM211.8 242.7h1.3v1.3h-1.3zM178.1 240.4h1.3v1.3h-1.3zM187.8 231.0h1.3v1.3h-1.3zM181.1 242.7h1.3v1.3h-1.3zM188.9 241.1h1.3v1.3h-1.3zM176.7 239.5h1.3v1.3h-1.3zM176.9 231.5h1.3v1.3h-1.3zM178.1 212.8h1.3v1.3h-1.3zM184.2 242.2h1.3v1.3h-1.3zM179.8 231.0h1.3v1.3h-1.3zM236.3 233.7h1.3v1.3h-1.3zM224.9 242.5h1.3v1.3h-1.3zM178.6 214.0h1.3v1.3h-1.3zM191.2 242.8h1.3v1.3h-1.3zM180.6 241.5h1.3v1.3h-1.3zM176.6 215.3h1.3v1.3h-1.3zM178.8 227.2h1.3v1.3h-1.3zM185.8 240.7h1.3v1.3h-1.3zM177.4 217.5h1.3v1.3h-1.3zM197.5 242.2h1.3v1.3h-1.3zM183.4 223.4h1.3v1.3h-1.3zM200.3 243.1h1.3v1.3h-1.3zM185.8 235.3h1.3v1.3h-1.3zM197.6 243.2h1.3v1.3h-1.3zM183.2 240.0h1.3v1.3h-1.3zM182.8 172.1h1.3v1.3h-1.3zM204.0 243.7h1.3v1.3h-1.3zM179.2 236.2h1.3v1.3h-1.3zM182.0 227.6h1.3v1.3h-1.3zM182.4 237.8h1.3v1.3h-1.3zM179.3 225.2h1.3v1.3h-1.3zM184.5 233.6h1.3v1.3h-1.3zM180.3 232.9h1.3v1.3h-1.3zM190.3 238.3h1.3v1.3h-1.3zM176.4 218.7h1.3v1.3h-1.3zM183.2 231.0h1.3v1.3h-1.3zM178.4 225.7h1.3v1.3h-1.3zM183.4 200.7h1.3v1.3h-1.3zM178.2 181.0h1.3v1.3h-1.3zM219.6 239.9h1.3v1.3h-1.3zM191.7 221.6h1.3v1.3h-1.3zM199.9 241.9h1.3v1.3h-1.3zM199.3 237.6h1.3v1.3h-1.3zM177.0 192.2h1.3v1.3h-1.3zM178.5 243.7h1.3v1.3h-1.3zM182.2 234.6h1.3v1.3h-1.3zM204.5 242.0h1.3v1.3h-1.3zM181.4 224.0h1.3v1.3h-1.3zM177.4 227.8h1.3v1.3h-1.3zM177.6 236.6h1.3v1.3h-1.3zM185.0 240.7h1.3v1.3h-1.3zM181.7 214.7h1.3v1.3h-1.3zM186.6 234.7h1.3v1.3h-1.3zM179.8 218.3h1.3v1.3h-1.3zM187.1 230.3h1.3v1.3h-1.3zM197.1 241.1h1.3v1.3h-1.3zM222.9 241.1h1.3v1.3h-1.3zM177.9 220.8h1.3v1.3h-1.3zM177.6 240.1h1.3v1.3h-1.3zM176.5 191.7h1.3v1.3h-1.3zM179.1 243.7h1.3v1.3h-1.3zM178.7 229.1h1.3v1.3h-1.3zM181.3 239.0h1.3v1.3h-1.3zM178.4 219.6h1.3v1.3h-1.3zM178.3 194.1h1.3v1.3h-1.3zM195.2 243.4h1.3v1.3h-1.3zM181.6 209.5h1.3v1.3h-1.3zM180.6 235.1h1.3v1.3h-1.3zM176.7 226.1h1.3v1.3h-1.3zM194.4 238.5h1.3v1.3h-1.3zM177.0 239.6h1.3v1.3h-1.3zM178.6 211.2h1.3v1.3h-1.3zM184.1 227.9h1.3v1.3h-1.3zM192.8 235.8h1.3v1.3h-1.3zM199.1 242.0h1.3v1.3h-1.3zM184.8 228.1h1.3v1.3h-1.3zM191.1 242.8h1.3v1.3h-1.3zM179.8 237.4h1.3v1.3h-1.3zM178.8 173.9h1.3v1.3h-1.3zM193.6 223.9h1.3v1.3h-1.3zM196.4 237.0h1.3v1.3h-1.3zM191.5 240.7h1.3v1.3h-1.3zM177.8 204.1h1.3v1.3h-1.3zM183.9 233.2h1.3v1.3h-1.3zM178.3 242.5h1.3v1.3h-1.3zM207.0 243.4h1.3v1.3h-1.3zM187.2 234.3h1.3v1.3h-1.3zM189.4 237.2h1.3v1.3h-1.3zM178.0 210.4h1.3v1.3h-1.3zM177.1 192.2h1.3v1.3h-1.3zM209.8 243.7h1.3v1.3h-1.3zM187.1 241.0h1.3v1.3h-1.3zM177.3 206.1h1.3v1.3h-1.3zM183.0 239.9h1.3v1.3h-1.3zM178.5 236.4h1.3v1.3h-1.3zM187.5 234.2h1.3v1.3h-1.3zM177.8 234.1h1.3v1.3h-1.3zM203.2 243.7h1.3v1.3h-1.3zM190.5 243.3h1.3v1.3h-1.3zM189.8 233.8h1.3v1.3h-1.3zM180.3 220.9h1.3v1.3h-1.3zM177.3 238.8h1.3v1.3h-1.3zM212.9 240.9h1.3v1.3h-1.3zM215.9 241.4h1.3v1.3h-1.3zM176.3 242.3h1.3v1.3h-1.3zM180.0 237.3h1.3v1.3h-1.3zM209.7 240.1h1.3v1.3h-1.3zM183.7 231.4h1.3v1.3h-1.3zM200.4 241.4h1.3v1.3h-1.3zM185.0 238.0h1.3v1.3h-1.3zM194.7 232.0h1.3v1.3h-1.3zM207.7 242.8h1.3v1.3h-1.3zM179.8 189.0h1.3v1.3h-1.3zM184.3 241.9h1.3v1.3h-1.3zM180.3 243.0h1.3v1.3h-1.3zM177.4 231.4h1.3v1.3h-1.3zM193.8 239.4h1.3v1.3h-1.3zM181.0 233.0h1.3v1.3h-1.3zM187.2 228.4h1.3v1.3h-1.3zM194.1 235.3h1.3v1.3h-1.3zM182.0 241.1h1.3v1.3h-1.3zM183.9 211.6h1.3v1.3h-1.3zM206.7 243.1h1.3v1.3h-1.3zM192.5 239.6h1.3v1.3h-1.3zM178.5 174.8h1.3v1.3h-1.3zM178.9 187.7h1.3v1.3h-1.3zM188.2 240.9h1.3v1.3h-1.3zM185.8 216.8h1.3v1.3h-1.3zM179.7 236.1h1.3v1.3h-1.3zM177.7 236.9h1.3v1.3h-1.3zM186.3 223.1h1.3v1.3h-1.3zM180.5 215.9h1.3v1.3h-1.3zM199.4 241.9h1.3v1.3h-1.3zM193.9 242.7h1.3v1.3h-1.3zM185.3 233.8h1.3v1.3h-1.3zM201.8 238.2h1.3v1.3h-1.3zM178.3 221.6h1.3v1.3h-1.3zM177.4 168.3h1.3v1.3h-1.3zM182.7 234.6h1.3v1.3h-1.3zM196.4 236.2h1.3v1.3h-1.3zM182.7 216.6h1.3v1.3h-1.3zM178.1 239.9h1.3v1.3h-1.3zM201.8 242.0h1.3v1.3h-1.3zM187.9 238.0h1.3v1.3h-1.3zM179.9 241.9h1.3v1.3h-1.3zM190.6 228.2h1.3v1.3h-1.3zM178.2 226.1h1.3v1.3h-1.3zM178.7 223.6h1.3v1.3h-1.3zM183.7 242.3h1.3v1.3h-1.3zM220.4 238.3h1.3v1.3h-1.3zM182.8 212.3h1.3v1.3h-1.3zM187.9 242.7h1.3v1.3h-1.3zM182.7 216.3h1.3v1.3h-1.3zM224.1 241.3h1.3v1.3h-1.3zM186.4 212.4h1.3v1.3h-1.3zM178.4 235.3h1.3v1.3h-1.3zM177.5 209.0h1.3v1.3h-1.3zM220.7 243.3h1.3v1.3h-1.3zM180.4 238.8h1.3v1.3h-1.3zM195.0 233.2h1.3v1.3h-1.3zM176.9 225.0h1.3v1.3h-1.3zM201.8 242.7h1.3v1.3h-1.3zM178.8 238.1h1.3v1.3h-1.3zM196.4 241.9h1.3v1.3h-1.3zM178.5 243.7h1.3v1.3h-1.3zM204.3 242.7h1.3v1.3h-1.3zM179.4 205.0h1.3v1.3h-1.3zM182.2 222.8h1.3v1.3h-1.3zM198.6 243.1h1.3v1.3h-1.3zM191.8 239.0h1.3v1.3h-1.3zM183.8 243.4h1.3v1.3h-1.3zM179.1 235.7h1.3v1.3h-1.3zM180.5 235.4h1.3v1.3h-1.3zM188.1 236.1h1.3v1.3h-1.3zM179.1 233.6h1.3v1.3h-1.3zM187.1 226.1h1.3v1.3h-1.3zM191.7 234.8h1.3v1.3h-1.3zM186.1 235.1h1.3v1.3h-1.3zM192.2 241.3h1.3v1.3h-1.3zM196.0 229.2h1.3v1.3h-1.3zM195.6 242.3h1.3v1.3h-1.3zM176.8 238.3h1.3v1.3h-1.3zM210.5 236.0h1.3v1.3h-1.3zM236.4 242.1h1.3v1.3h-1.3zM177.7 219.6h1.3v1.3h-1.3zM202.0 241.2h1.3v1.3h-1.3zM176.3 236.8h1.3v1.3h-1.3zM183.8 241.5h1.3v1.3h-1.3zM178.6 210.7h1.3v1.3h-1.3zM199.6 240.8h1.3v1.3h-1.3zM187.6 215.8h1.3v1.3h-1.3zM178.0 233.6h1.3v1.3h-1.3zM176.3 235.6h1.3v1.3h-1.3zM181.6 223.9h1.3v1.3h-1.3zM184.5 240.4h1.3v1.3h-1.3zM177.0 242.7h1.3v1.3h-1.3zM177.2 242.8h1.3v1.3h-1.3zM180.2 216.3h1.3v1.3h-1.3zM189.3 242.1h1.3v1.3h-1.3zM177.3 221.7h1.3v1.3h-1.3zM237.1 243.0h1.3v1.3h-1.3zM193.2 225.8h1.3v1.3h-1.3zM189.9 235.3h1.3v1.3h-1.3zM187.6 229.9h1.3v1.3h-1.3zM201.6 243.2h1.3v1.3h-1.3zM183.2 234.5h1.3v1.3h-1.3zM182.8 242.1h1.3v1.3h-1.3zM205.4 241.9h1.3v1.3h-1.3zM178.7 231.2h1.3v1.3h-1.3zM190.2 239.6h1.3v1.3h-1.3zM184.5 233.4h1.3v1.3h-1.3zM196.4 238.4h1.3v1.3h-1.3zM188.1 240.7h1.3v1.3h-1.3zM205.2 243.1h1.3v1.3h-1.3zM181.8 229.3h1.3v1.3h-1.3zM181.3 229.0h1.3v1.3h-1.3zM178.4 240.6h1.3v1.3h-1.3zM179.8 211.4h1.3v1.3h-1.3zM177.7 243.4h1.3v1.3h-1.3zM177.2 223.2h1.3v1.3h-1.3zM188.5 228.6h1.3v1.3h-1.3zM203.4 241.3h1.3v1.3h-1.3zM192.4 242.9h1.3v1.3h-1.3zM194.3 240.2h1.3v1.3h-1.3zM184.2 221.6h1.3v1.3h-1.3zM194.9 240.8h1.3v1.3h-1.3zM194.2 243.1h1.3v1.3h-1.3zM176.5 227.8h1.3v1.3h-1.3zM187.7 226.4h1.3v1.3h-1.3zM185.3 232.6h1.3v1.3h-1.3zM177.1 236.3h1.3v1.3h-1.3zM215.2 242.0h1.3v1.3h-1.3zM186.1 239.5h1.3v1.3h-1.3zM213.7 241.2h1.3v1.3h-1.3zM218.4 241.6h1.3v1.3h-1.3zM188.2 240.2h1.3v1.3h-1.3zM176.9 241.1h1.3v1.3h-1.3zM182.5 231.3h1.3v1.3h-1.3zM179.0 209.2h1.3v1.3h-1.3zM198.5 237.6h1.3v1.3h-1.3zM180.1 228.8h1.3v1.3h-1.3zM176.5 229.8h1.3v1.3h-1.3zM180.7 230.4h1.3v1.3h-1.3zM187.7 236.5h1.3v1.3h-1.3zM177.4 228.2h1.3v1.3h-1.3zM180.9 236.2h1.3v1.3h-1.3zM180.5 213.6h1.3v1.3h-1.3zM180.1 237.3h1.3v1.3h-1.3zM179.4 198.9h1.3v1.3h-1.3zM184.3 232.1h1.3v1.3h-1.3zM186.5 240.7h1.3v1.3h-1.3zM182.6 234.7h1.3v1.3h-1.3zM209.1 237.0h1.3v1.3h-1.3zM194.4 242.8h1.3v1.3h-1.3zM185.2 242.1h1.3v1.3h-1.3zM194.9 243.6h1.3v1.3h-1.3zM179.6 221.8h1.3v1.3h-1.3zM181.3 225.0h1.3v1.3h-1.3zM206.0 241.8h1.3v1.3h-1.3zM178.4 223.0h1.3v1.3h-1.3zM180.3 215.9h1.3v1.3h-1.3zM178.5 223.7h1.3v1.3h-1.3zM184.7 236.9h1.3v1.3h-1.3zM201.7 229.0h1.3v1.3h-1.3zM181.8 226.0h1.3v1.3h-1.3zM178.7 222.5h1.3v1.3h-1.3zM185.5 199.4h1.3v1.3h-1.3zM180.0 224.9h1.3v1.3h-1.3zM182.0 236.1h1.3v1.3h-1.3zM181.8 241.4h1.3v1.3h-1.3zM184.3 238.4h1.3v1.3h-1.3zM185.4 243.3h1.3v1.3h-1.3zM177.2 218.9h1.3v1.3h-1.3zM177.1 226.0h1.3v1.3h-1.3zM178.4 234.9h1.3v1.3h-1.3zM193.3 227.7h1.3v1.3h-1.3zM183.1 238.1h1.3v1.3h-1.3zM186.6 198.2h1.3v1.3h-1.3zM201.1 242.8h1.3v1.3h-1.3zM185.1 241.4h1.3v1.3h-1.3zM177.3 195.9h1.3v1.3h-1.3zM184.7 235.6h1.3v1.3h-1.3zM198.7 239.8h1.3v1.3h-1.3zM178.0 227.4h1.3v1.3h-1.3zM219.8 239.3h1.3v1.3h-1.3zM215.8 242.8h1.3v1.3h-1.3zM177.2 238.8h1.3v1.3h-1.3zM204.5 231.5h1.3v1.3h-1.3zM179.0 231.9h1.3v1.3h-1.3zM182.8 229.4h1.3v1.3h-1.3zM193.6 243.1h1.3v1.3h-1.3zM208.9 241.9h1.3v1.3h-1.3zM179.3 227.2h1.3v1.3h-1.3zM183.2 236.2h1.3v1.3h-1.3zM188.6 242.8h1.3v1.3h-1.3zM182.9 240.3h1.3v1.3h-1.3zM176.9 224.9h1.3v1.3h-1.3zM176.6 201.9h1.3v1.3h-1.3zM192.5 237.0h1.3v1.3h-1.3zM187.4 234.5h1.3v1.3h-1.3zM200.5 240.5h1.3v1.3h-1.3zM178.0 233.4h1.3v1.3h-1.3zM201.6 240.9h1.3v1.3h-1.3zM181.0 240.9h1.3v1.3h-1.3zM177.3 155.4h1.3v1.3h-1.3zM193.6 236.0h1.3v1.3h-1.3zM180.8 234.4h1.3v1.3h-1.3zM178.7 237.1h1.3v1.3h-1.3zM189.1 243.3h1.3v1.3h-1.3zM184.0 234.5h1.3v1.3h-1.3zM176.7 237.2h1.3v1.3h-1.3zM191.5 220.8h1.3v1.3h-1.3zM179.6 238.0h1.3v1.3h-1.3zM182.6 232.9h1.3v1.3h-1.3zM182.9 234.8h1.3v1.3h-1.3zM185.6 214.1h1.3v1.3h-1.3zM189.4 242.0h1.3v1.3h-1.3zM177.6 215.3h1.3v1.3h-1.3zM189.0 232.2h1.3v1.3h-1.3zM178.9 239.3h1.3v1.3h-1.3zM188.6 241.7h1.3v1.3h-1.3zM180.8 222.2h1.3v1.3h-1.3zM183.6 243.1h1.3v1.3h-1.3zM196.7 233.7h1.3v1.3h-1.3zM176.9 230.7h1.3v1.3h-1.3zM177.0 243.1h1.3v1.3h-1.3zM200.4 237.1h1.3v1.3h-1.3zM184.1 242.6h1.3v1.3h-1.3zM179.2 241.0h1.3v1.3h-1.3zM176.8 232.0h1.3v1.3h-1.3zM180.9 227.4h1.3v1.3h-1.3zM182.3 242.9h1.3v1.3h-1.3zM200.3 243.7h1.3v1.3h-1.3zM176.7 208.9h1.3v1.3h-1.3zM182.6 240.1h1.3v1.3h-1.3zM224.8 243.7h1.3v1.3h-1.3zM197.0 232.5h1.3v1.3h-1.3zM198.2 240.1h1.3v1.3h-1.3zM183.9 237.5h1.3v1.3h-1.3zM177.4 233.6h1.3v1.3h-1.3zM180.5 189.9h1.3v1.3h-1.3zM187.4 238.2h1.3v1.3h-1.3zM212.1 241.6h1.3v1.3h-1.3zM184.7 242.4h1.3v1.3h-1.3zM177.4 220.9h1.3v1.3h-1.3zM184.0 236.3h1.3v1.3h-1.3zM184.1 243.4h1.3v1.3h-1.3zM191.0 238.5h1.3v1.3h-1.3zM192.6 229.6h1.3v1.3h-1.3zM180.3 227.8h1.3v1.3h-1.3zM182.4 230.4h1.3v1.3h-1.3zM188.6 243.7h1.3v1.3h-1.3zM183.5 212.6h1.3v1.3h-1.3zM181.1 233.5h1.3v1.3h-1.3zM177.5 222.8h1.3v1.3h-1.3zM186.6 243.2h1.3v1.3h-1.3zM180.4 239.2h1.3v1.3h-1.3zM195.9 240.6h1.3v1.3h-1.3zM200.7 236.0h1.3v1.3h-1.3zM188.4 238.2h1.3v1.3h-1.3zM200.3 238.8h1.3v1.3h-1.3zM186.0 241.9h1.3v1.3h-1.3zM191.1 240.8h1.3v1.3h-1.3zM202.4 243.5h1.3v1.3h-1.3zM180.1 224.6h1.3v1.3h-1.3zM178.0 218.7h1.3v1.3h-1.3zM189.8 230.8h1.3v1.3h-1.3zM179.4 199.5h1.3v1.3h-1.3zM178.3 237.7h1.3v1.3h-1.3zM191.1 228.8h1.3v1.3h-1.3zM191.6 233.7h1.3v1.3h-1.3zM219.9 239.8h1.3v1.3h-1.3zM187.0 242.1h1.3v1.3h-1.3zM194.6 232.3h1.3v1.3h-1.3zM177.4 231.5h1.3v1.3h-1.3zM200.7 229.0h1.3v1.3h-1.3zM178.1 231.7h1.3v1.3h-1.3zM197.1 224.7h1.3v1.3h-1.3zM180.1 235.7h1.3v1.3h-1.3zM184.7 223.8h1.3v1.3h-1.3zM176.8 240.9h1.3v1.3h-1.3zM196.7 243.7h1.3v1.3h-1.3zM196.5 236.9h1.3v1.3h-1.3zM191.7 240.6h1.3v1.3h-1.3zM177.1 233.3h1.3v1.3h-1.3zM206.2 240.8h1.3v1.3h-1.3zM176.7 196.5h1.3v1.3h-1.3zM197.8 240.3h1.3v1.3h-1.3zM191.9 238.5h1.3v1.3h-1.3zM196.6 243.0h1.3v1.3h-1.3zM200.8 242.9h1.3v1.3h-1.3zM180.4 204.0h1.3v1.3h-1.3zM176.9 189.7h1.3v1.3h-1.3zM179.6 202.4h1.3v1.3h-1.3zM178.5 232.5h1.3v1.3h-1.3zM184.5 222.9h1.3v1.3h-1.3zM219.9 233.6h1.3v1.3h-1.3zM177.8 239.5h1.3v1.3h-1.3zM190.0 239.4h1.3v1.3h-1.3zM178.0 220.8h1.3v1.3h-1.3zM182.9 220.5h1.3v1.3h-1.3zM186.7 241.5h1.3v1.3h-1.3zM187.0 238.7h1.3v1.3h-1.3zM178.1 219.8h1.3v1.3h-1.3zM176.5 196.6h1.3v1.3h-1.3zM178.8 236.7h1.3v1.3h-1.3zM176.3 234.7h1.3v1.3h-1.3zM191.4 223.4h1.3v1.3h-1.3zM189.0 228.3h1.3v1.3h-1.3zM185.0 236.6h1.3v1.3h-1.3zM177.3 232.8h1.3v1.3h-1.3zM178.5 239.2h1.3v1.3h-1.3zM206.6 243.7h1.3v1.3h-1.3zM203.2 241.5h1.3v1.3h-1.3zM177.7 231.2h1.3v1.3h-1.3zM176.8 180.0h1.3v1.3h-1.3zM187.3 242.4h1.3v1.3h-1.3zM181.9 240.3h1.3v1.3h-1.3zM186.2 237.3h1.3v1.3h-1.3zM181.0 233.9h1.3v1.3h-1.3zM181.3 213.4h1.3v1.3h-1.3zM199.8 243.4h1.3v1.3h-1.3zM182.3 238.6h1.3v1.3h-1.3zM177.6 231.8h1.3v1.3h-1.3zM182.8 240.8h1.3v1.3h-1.3zM199.7 235.6h1.3v1.3h-1.3zM180.3 227.0h1.3v1.3h-1.3zM177.3 241.0h1.3v1.3h-1.3zM177.0 230.8h1.3v1.3h-1.3zM182.5 233.8h1.3v1.3h-1.3zM181.9 239.7h1.3v1.3h-1.3zM189.8 234.6h1.3v1.3h-1.3zM184.3 241.0h1.3v1.3h-1.3zM176.3 194.7h1.3v1.3h-1.3zM196.5 223.8h1.3v1.3h-1.3zM181.0 227.0h1.3v1.3h-1.3zM185.4 228.4h1.3v1.3h-1.3zM177.2 233.0h1.3v1.3h-1.3zM178.1 233.1h1.3v1.3h-1.3zM177.8 235.6h1.3v1.3h-1.3zM196.2 241.7h1.3v1.3h-1.3zM199.3 236.0h1.3v1.3h-1.3zM186.2 233.1h1.3v1.3h-1.3zM187.1 241.7h1.3v1.3h-1.3zM179.5 231.2h1.3v1.3h-1.3zM176.4 215.4h1.3v1.3h-1.3zM194.2 241.6h1.3v1.3h-1.3zM184.9 235.2h1.3v1.3h-1.3zM199.7 233.2h1.3v1.3h-1.3zM182.5 243.5h1.3v1.3h-1.3zM237.2 240.8h1.3v1.3h-1.3zM189.7 233.4h1.3v1.3h-1.3zM177.3 222.1h1.3v1.3h-1.3zM230.9 242.9h1.3v1.3h-1.3zM178.8 234.8h1.3v1.3h-1.3zM188.4 232.5h1.3v1.3h-1.3zM183.0 235.8h1.3v1.3h-1.3zM181.8 239.8h1.3v1.3h-1.3zM180.4 241.7h1.3v1.3h-1.3zM191.8 232.5h1.3v1.3h-1.3zM207.1 239.7h1.3v1.3h-1.3zM185.7 232.1h1.3v1.3h-1.3zM179.3 225.6h1.3v1.3h-1.3zM184.2 183.3h1.3v1.3h-1.3zM180.7 235.7h1.3v1.3h-1.3zM191.0 243.4h1.3v1.3h-1.3zM184.0 234.3h1.3v1.3h-1.3zM188.4 227.4h1.3v1.3h-1.3zM176.9 235.9h1.3v1.3h-1.3zM177.2 238.5h1.3v1.3h-1.3zM184.0 239.1h1.3v1.3h-1.3zM202.1 241.4h1.3v1.3h-1.3zM177.1 215.2h1.3v1.3h-1.3zM178.4 239.2h1.3v1.3h-1.3zM177.3 240.2h1.3v1.3h-1.3zM184.7 226.5h1.3v1.3h-1.3zM181.3 241.3h1.3v1.3h-1.3zM204.0 241.7h1.3v1.3h-1.3zM193.8 243.3h1.3v1.3h-1.3zM204.0 236.6h1.3v1.3h-1.3zM208.0 239.6h1.3v1.3h-1.3zM206.4 229.8h1.3v1.3h-1.3zM201.1 241.2h1.3v1.3h-1.3zM195.6 236.5h1.3v1.3h-1.3zM235.6 239.2h1.3v1.3h-1.3zM226.1 243.4h1.3v1.3h-1.3zM223.9 240.0h1.3v1.3h-1.3zM226.3 243.6h1.3v1.3h-1.3zM202.9 242.1h1.3v1.3h-1.3zM201.4 242.7h1.3v1.3h-1.3zM228.7 242.0h1.3v1.3h-1.3zM207.0 240.6h1.3v1.3h-1.3zM203.7 243.7h1.3v1.3h-1.3zM222.6 242.5h1.3v1.3h-1.3zM219.7 242.6h1.3v1.3h-1.3zM212.9 241.4h1.3v1.3h-1.3zM198.7 242.7h1.3v1.3h-1.3zM219.7 241.8h1.3v1.3h-1.3zM211.8 242.5h1.3v1.3h-1.3zM223.0 238.0h1.3v1.3h-1.3zM191.7 231.7h1.3v1.3h-1.3zM216.8 240.2h1.3v1.3h-1.3zM217.5 240.8h1.3v1.3h-1.3zM219.6 241.2h1.3v1.3h-1.3zM212.8 242.2h1.3v1.3h-1.3zM220.5 241.6h1.3v1.3h-1.3zM198.1 225.4h1.3v1.3h-1.3zM211.4 237.4h1.3v1.3h-1.3zM204.1 238.3h1.3v1.3h-1.3zM222.9 243.0h1.3v1.3h-1.3zM222.5 243.4h1.3v1.3h-1.3zM226.1 240.2h1.3v1.3h-1.3zM219.3 239.2h1.3v1.3h-1.3zM202.0 241.1h1.3v1.3h-1.3zM196.8 232.4h1.3v1.3h-1.3zM237.8 242.8h1.3v1.3h-1.3zM188.6 241.3h1.3v1.3h-1.3zM234.1 243.3h1.3v1.3h-1.3zM194.9 241.0h1.3v1.3h-1.3zM202.0 241.9h1.3v1.3h-1.3zM217.5 235.4h1.3v1.3h-1.3zM202.9 238.4h1.3v1.3h-1.3zM208.5 240.5h1.3v1.3h-1.3zM210.6 237.2h1.3v1.3h-1.3zM226.4 241.3h1.3v1.3h-1.3zM234.4 242.9h1.3v1.3h-1.3zM221.0 235.4h1.3v1.3h-1.3zM224.6 243.2h1.3v1.3h-1.3zM199.2 237.2h1.3v1.3h-1.3zM228.1 243.1h1.3v1.3h-1.3zM204.9 239.1h1.3v1.3h-1.3zM220.4 243.0h1.3v1.3h-1.3zM213.6 235.3h1.3v1.3h-1.3zM194.5 241.3h1.3v1.3h-1.3zM220.0 242.7h1.3v1.3h-1.3zM213.4 242.2h1.3v1.3h-1.3zM191.9 228.4h1.3v1.3h-1.3zM212.9 242.5h1.3v1.3h-1.3zM213.8 239.1h1.3v1.3h-1.3zM189.6 240.1h1.3v1.3h-1.3zM219.2 243.0h1.3v1.3h-1.3zM196.7 240.4h1.3v1.3h-1.3zM233.9 243.2h1.3v1.3h-1.3zM200.6 238.9h1.3v1.3h-1.3zM199.5 242.5h1.3v1.3h-1.3zM200.1 242.8h1.3v1.3h-1.3zM214.1 243.4h1.3v1.3h-1.3zM222.1 242.2h1.3v1.3h-1.3zM231.3 242.8h1.3v1.3h-1.3zM190.4 236.8h1.3v1.3h-1.3zM199.2 240.6h1.3v1.3h-1.3zM211.7 243.6h1.3v1.3h-1.3zM205.0 243.4h1.3v1.3h-1.3zM205.3 241.4h1.3v1.3h-1.3zM213.6 237.7h1.3v1.3h-1.3zM236.0 241.8h1.3v1.3h-1.3zM213.8 243.3h1.3v1.3h-1.3zM206.6 242.5h1.3v1.3h-1.3zM217.2 242.7h1.3v1.3h-1.3zM191.5 239.8h1.3v1.3h-1.3zM227.5 243.3h1.3v1.3h-1.3zM226.9 243.7h1.3v1.3h-1.3zM212.5 241.9h1.3v1.3h-1.3zM197.6 240.5h1.3v1.3h-1.3zM236.9 241.5h1.3v1.3h-1.3zM210.9 233.8h1.3v1.3h-1.3zM198.9 237.4h1.3v1.3h-1.3zM204.6 243.2h1.3v1.3h-1.3zM197.2 239.9h1.3v1.3h-1.3zM220.2 242.7h1.3v1.3h-1.3zM191.5 243.1h1.3v1.3h-1.3zM215.0 242.8h1.3v1.3h-1.3zM219.3 239.8h1.3v1.3h-1.3zM211.1 242.8h1.3v1.3h-1.3zM204.9 237.8h1.3v1.3h-1.3zM229.8 243.3h1.3v1.3h-1.3zM196.5 242.6h1.3v1.3h-1.3zM205.0 240.7h1.3v1.3h-1.3zM197.1 237.6h1.3v1.3h-1.3zM190.7 236.8h1.3v1.3h-1.3zM214.4 238.7h1.3v1.3h-1.3zM189.7 242.9h1.3v1.3h-1.3zM214.3 241.9h1.3v1.3h-1.3zM235.4 241.6h1.3v1.3h-1.3zM200.4 233.5h1.3v1.3h-1.3zM208.4 241.1h1.3v1.3h-1.3zM214.4 242.9h1.3v1.3h-1.3zM185.5 211.1h1.3v1.3h-1.3zM206.0 225.8h1.3v1.3h-1.3zM176.7 152.3h1.3v1.3h-1.3zM193.1 214.4h1.3v1.3h-1.3zM186.2 199.4h1.3v1.3h-1.3zM210.4 221.4h1.3v1.3h-1.3zM194.1 200.8h1.3v1.3h-1.3zM240.6 234.7h1.3v1.3h-1.3zM189.4 168.6h1.3v1.3h-1.3zM207.1 219.9h1.3v1.3h-1.3zM178.4 143.4h1.3v1.3h-1.3zM179.1 145.0h1.3v1.3h-1.3zM184.0 151.2h1.3v1.3h-1.3zM186.7 155.0h1.3v1.3h-1.3zM181.1 217.7h1.3v1.3h-1.3zM178.1 125.6h1.3v1.3h-1.3zM183.0 218.1h1.3v1.3h-1.3zM204.7 212.3h1.3v1.3h-1.3zM179.3 172.0h1.3v1.3h-1.3zM178.5 214.5h1.3v1.3h-1.3zM180.2 202.7h1.3v1.3h-1.3zM177.0 203.2h1.3v1.3h-1.3zM177.7 172.4h1.3v1.3h-1.3zM206.7 209.4h1.3v1.3h-1.3zM207.5 227.9h1.3v1.3h-1.3zM184.1 162.4h1.3v1.3h-1.3zM191.3 221.2h1.3v1.3h-1.3zM193.4 202.3h1.3v1.3h-1.3zM185.8 224.9h1.3v1.3h-1.3zM188.4 214.0h1.3v1.3h-1.3zM182.3 143.4h1.3v1.3h-1.3zM196.0 207.1h1.3v1.3h-1.3zM178.1 144.8h1.3v1.3h-1.3zM182.3 178.7h1.3v1.3h-1.3zM219.4 223.3h1.3v1.3h-1.3zM178.6 153.2h1.3v1.3h-1.3zM177.0 193.6h1.3v1.3h-1.3zM176.3 157.9h1.3v1.3h-1.3zM184.4 223.1h1.3v1.3h-1.3zM182.2 168.5h1.3v1.3h-1.3zM177.3 197.2h1.3v1.3h-1.3zM187.2 188.7h1.3v1.3h-1.3zM178.6 197.1h1.3v1.3h-1.3zM181.5 168.5h1.3v1.3h-1.3zM184.9 200.7h1.3v1.3h-1.3zM178.1 171.3h1.3v1.3h-1.3zM179.1 212.3h1.3v1.3h-1.3zM176.8 160.5h1.3v1.3h-1.3zM178.7 219.0h1.3v1.3h-1.3zM194.8 179.6h1.3v1.3h-1.3zM193.0 173.1h1.3v1.3h-1.3zM212.1 229.4h1.3v1.3h-1.3zM192.8 202.6h1.3v1.3h-1.3zM202.4 193.8h1.3v1.3h-1.3zM211.2 221.6h1.3v1.3h-1.3zM178.1 204.2h1.3v1.3h-1.3zM201.0 195.5h1.3v1.3h-1.3zM183.1 195.6h1.3v1.3h-1.3zM201.7 200.8h1.3v1.3h-1.3zM199.3 186.2h1.3v1.3h-1.3zM227.9 231.4h1.3v1.3h-1.3zM179.9 152.8h1.3v1.3h-1.3zM185.1 179.4h1.3v1.3h-1.3zM199.5 185.5h1.3v1.3h-1.3zM197.9 226.4h1.3v1.3h-1.3zM194.1 231.6h1.3v1.3h-1.3zM184.1 183.9h1.3v1.3h-1.3zM195.2 172.8h1.3v1.3h-1.3zM189.5 198.4h1.3v1.3h-1.3zM179.9 136.0h1.3v1.3h-1.3zM177.7 157.9h1.3v1.3h-1.3zM204.2 203.2h1.3v1.3h-1.3zM187.2 153.5h1.3v1.3h-1.3zM195.7 228.9h1.3v1.3h-1.3zM207.0 235.4h1.3v1.3h-1.3zM180.6 134.2h1.3v1.3h-1.3zM179.1 173.4h1.3v1.3h-1.3zM204.0 215.4h1.3v1.3h-1.3zM182.1 207.3h1.3v1.3h-1.3zM206.1 213.7h1.3v1.3h-1.3zM178.7 122.4h1.3v1.3h-1.3zM180.9 137.7h1.3v1.3h-1.3zM193.5 203.6h1.3v1.3h-1.3zM195.6 215.4h1.3v1.3h-1.3zM194.3 219.1h1.3v1.3h-1.3zM190.3 189.1h1.3v1.3h-1.3zM185.0 154.4h1.3v1.3h-1.3zM195.6 222.4h1.3v1.3h-1.3zM201.8 220.1h1.3v1.3h-1.3zM204.9 193.3h1.3v1.3h-1.3zM178.8 186.5h1.3v1.3h-1.3zM177.0 132.4h1.3v1.3h-1.3zM191.7 219.3h1.3v1.3h-1.3zM213.4 226.8h1.3v1.3h-1.3zM179.7 126.5h1.3v1.3h-1.3zM202.4 228.9h1.3v1.3h-1.3zM212.9 204.5h1.3v1.3h-1.3zM201.8 210.2h1.3v1.3h-1.3zM189.9 220.5h1.3v1.3h-1.3zM191.7 165.0h1.3v1.3h-1.3zM198.2 219.3h1.3v1.3h-1.3zM193.0 183.6h1.3v1.3h-1.3zM179.3 127.0h1.3v1.3h-1.3zM177.7 211.9h1.3v1.3h-1.3zM181.5 178.9h1.3v1.3h-1.3zM189.9 160.0h1.3v1.3h-1.3zM202.3 197.8h1.3v1.3h-1.3zM193.2 187.1h1.3v1.3h-1.3zM177.1 141.6h1.3v1.3h-1.3zM188.7 181.0h1.3v1.3h-1.3zM189.0 228.3h1.3v1.3h-1.3zM188.8 165.6h1.3v1.3h-1.3zM177.5 155.4h1.3v1.3h-1.3zM206.3 228.0h1.3v1.3h-1.3zM186.3 184.8h1.3v1.3h-1.3zM200.9 212.0h1.3v1.3h-1.3zM204.5 222.2h1.3v1.3h-1.3zM247.0 233.6h1.3v1.3h-1.3zM183.8 159.2h1.3v1.3h-1.3zM199.1 204.8h1.3v1.3h-1.3zM194.7 187.0h1.3v1.3h-1.3zM221.7 218.1h1.3v1.3h-1.3zM190.2 180.2h1.3v1.3h-1.3zM182.1 201.0h1.3v1.3h-1.3zM190.3 214.1h1.3v1.3h-1.3zM198.8 229.3h1.3v1.3h-1.3zM183.4 176.3h1.3v1.3h-1.3zM192.2 208.8h1.3v1.3h-1.3zM180.9 165.5h1.3v1.3h-1.3zM206.3 196.3h1.3v1.3h-1.3zM187.1 205.9h1.3v1.3h-1.3zM189.1 164.4h1.3v1.3h-1.3zM188.3 227.3h1.3v1.3h-1.3zM183.1 180.9h1.3v1.3h-1.3zM178.4 124.5h1.3v1.3h-1.3zM184.4 177.9h1.3v1.3h-1.3zM178.9 186.1h1.3v1.3h-1.3zM177.6 153.5h1.3v1.3h-1.3zM203.4 234.0h1.3v1.3h-1.3zM177.2 203.2h1.3v1.3h-1.3zM181.7 149.1h1.3v1.3h-1.3zM206.5 196.4h1.3v1.3h-1.3zM186.8 216.4h1.3v1.3h-1.3zM209.6 212.8h1.3v1.3h-1.3zM188.0 207.0h1.3v1.3h-1.3zM179.1 178.6h1.3v1.3h-1.3zM185.1 212.9h1.3v1.3h-1.3zM181.6 213.4h1.3v1.3h-1.3zM182.1 204.1h1.3v1.3h-1.3zM183.2 156.5h1.3v1.3h-1.3zM223.8 230.2h1.3v1.3h-1.3zM217.3 225.2h1.3v1.3h-1.3zM184.7 211.6h1.3v1.3h-1.3zM226.0 230.3h1.3v1.3h-1.3zM254.2 236.1h1.3v1.3h-1.3zM231.0 240.7h1.3v1.3h-1.3zM205.7 217.7h1.3v1.3h-1.3zM177.9 239.1h1.3v1.3h-1.3zM192.4 208.5h1.3v1.3h-1.3zM214.1 218.9h1.3v1.3h-1.3zM199.6 241.9h1.3v1.3h-1.3zM243.5 239.4h1.3v1.3h-1.3zM187.5 229.6h1.3v1.3h-1.3zM234.8 226.6h1.3v1.3h-1.3zM217.3 227.5h1.3v1.3h-1.3zM180.2 229.7h1.3v1.3h-1.3zM240.0 242.0h1.3v1.3h-1.3zM204.5 242.0h1.3v1.3h-1.3zM240.2 234.8h1.3v1.3h-1.3zM237.7 237.5h1.3v1.3h-1.3zM226.0 231.1h1.3v1.3h-1.3zM216.6 240.3h1.3v1.3h-1.3zM182.6 205.3h1.3v1.3h-1.3zM232.7 230.4h1.3v1.3h-1.3zM235.3 235.8h1.3v1.3h-1.3zM179.9 200.7h1.3v1.3h-1.3zM201.7 214.2h1.3v1.3h-1.3zM192.5 209.4h1.3v1.3h-1.3zM224.6 240.8h1.3v1.3h-1.3zM198.6 220.7h1.3v1.3h-1.3zM262.0 238.5h1.3v1.3h-1.3zM232.3 227.7h1.3v1.3h-1.3zM176.3 232.0h1.3v1.3h-1.3zM196.5 218.3h1.3v1.3h-1.3zM244.0 229.0h1.3v1.3h-1.3zM223.0 231.1h1.3v1.3h-1.3zM217.4 234.4h1.3v1.3h-1.3zM234.9 233.4h1.3v1.3h-1.3zM227.9 219.9h1.3v1.3h-1.3zM233.7 243.7h1.3v1.3h-1.3zM234.4 241.8h1.3v1.3h-1.3zM221.5 239.1h1.3v1.3h-1.3zM233.1 224.1h1.3v1.3h-1.3zM214.6 241.2h1.3v1.3h-1.3zM216.8 239.1h1.3v1.3h-1.3zM216.9 239.3h1.3v1.3h-1.3zM230.0 240.8h1.3v1.3h-1.3zM229.8 234.7h1.3v1.3h-1.3zM237.7 235.5h1.3v1.3h-1.3zM227.3 238.3h1.3v1.3h-1.3zM213.9 241.0h1.3v1.3h-1.3zM234.2 240.0h1.3v1.3h-1.3zM227.7 243.6h1.3v1.3h-1.3zM225.9 227.6h1.3v1.3h-1.3zM225.3 243.2h1.3v1.3h-1.3zM223.6 242.1h1.3v1.3h-1.3zM229.9 236.2h1.3v1.3h-1.3zM224.7 238.9h1.3v1.3h-1.3zM234.6 224.0h1.3v1.3h-1.3zM228.0 238.5h1.3v1.3h-1.3zM227.0 239.3h1.3v1.3h-1.3zM234.7 212.5h1.3v1.3h-1.3zM219.1 240.8h1.3v1.3h-1.3zM223.9 239.4h1.3v1.3h-1.3zM231.3 237.9h1.3v1.3h-1.3zM236.4 236.1h1.3v1.3h-1.3zM218.8 242.3h1.3v1.3h-1.3zM219.6 241.5h1.3v1.3h-1.3zM223.6 241.7h1.3v1.3h-1.3zM214.1 241.4h1.3v1.3h-1.3zM236.4 232.9h1.3v1.3h-1.3zM223.3 235.9h1.3v1.3h-1.3zM232.5 237.2h1.3v1.3h-1.3zM229.3 242.4h1.3v1.3h-1.3zM224.9 231.4h1.3v1.3h-1.3zM223.6 243.1h1.3v1.3h-1.3zM237.1 241.1h1.3v1.3h-1.3zM229.4 238.7h1.3v1.3h-1.3zM214.4 238.2h1.3v1.3h-1.3zM236.7 229.7h1.3v1.3h-1.3zM219.4 241.3h1.3v1.3h-1.3zM228.8 237.2h1.3v1.3h-1.3zM221.8 238.7h1.3v1.3h-1.3zM236.3 240.3h1.3v1.3h-1.3zM232.3 221.3h1.3v1.3h-1.3zM235.5 240.9h1.3v1.3h-1.3zM231.4 231.0h1.3v1.3h-1.3zM217.2 236.1h1.3v1.3h-1.3zM214.3 235.6h1.3v1.3h-1.3zM234.9 239.2h1.3v1.3h-1.3zM238.0 241.2h1.3v1.3h-1.3zM219.1 240.1h1.3v1.3h-1.3zM213.7 242.7h1.3v1.3h-1.3zM223.8 241.9h1.3v1.3h-1.3zM221.9 239.3h1.3v1.3h-1.3zM215.5 240.3h1.3v1.3h-1.3zM230.9 236.1h1.3v1.3h-1.3zM215.5 240.0h1.3v1.3h-1.3zM231.2 240.1h1.3v1.3h-1.3zM227.9 227.1h1.3v1.3h-1.3zM232.4 240.5h1.3v1.3h-1.3zM214.3 242.2h1.3v1.3h-1.3zM214.1 243.5h1.3v1.3h-1.3zM215.1 240.1h1.3v1.3h-1.3zM226.8 239.6h1.3v1.3h-1.3zM228.4 240.9h1.3v1.3h-1.3zM226.8 241.8h1.3v1.3h-1.3zM216.1 228.9h1.3v1.3h-1.3zM232.0 232.0h1.3v1.3h-1.3zM234.7 239.4h1.3v1.3h-1.3zM219.5 242.7h1.3v1.3h-1.3zM231.4 231.3h1.3v1.3h-1.3zM236.8 240.9h1.3v1.3h-1.3zM233.9 239.0h1.3v1.3h-1.3zM233.0 241.5h1.3v1.3h-1.3zM229.0 237.7h1.3v1.3h-1.3zM233.9 243.1h1.3v1.3h-1.3zM237.9 238.5h1.3v1.3h-1.3zM234.9 243.3h1.3v1.3h-1.3zM233.4 230.5h1.3v1.3h-1.3zM222.2 240.7h1.3v1.3h-1.3zM234.6 241.2h1.3v1.3h-1.3zM218.4 237.9h1.3v1.3h-1.3zM234.1 237.9h1.3v1.3h-1.3zM216.9 240.9h1.3v1.3h-1.3zM228.3 235.8h1.3v1.3h-1.3zM231.4 234.3h1.3v1.3h-1.3zM238.0 243.6h1.3v1.3h-1.3zM234.6 240.9h1.3v1.3h-1.3zM215.2 242.4h1.3v1.3h-1.3zM219.7 243.2h1.3v1.3h-1.3zM224.8 226.8h1.3v1.3h-1.3zM229.5 241.9h1.3v1.3h-1.3zM219.4 243.2h1.3v1.3h-1.3zM228.1 242.9h1.3v1.3h-1.3zM224.4 210.8h1.3v1.3h-1.3zM236.8 232.8h1.3v1.3h-1.3zM225.3 242.7h1.3v1.3h-1.3zM223.1 240.2h1.3v1.3h-1.3zM226.9 236.1h1.3v1.3h-1.3zM216.1 239.9h1.3v1.3h-1.3zM225.9 243.3h1.3v1.3h-1.3zM219.6 235.3h1.3v1.3h-1.3zM234.8 243.1h1.3v1.3h-1.3zM230.4 239.8h1.3v1.3h-1.3zM237.8 240.6h1.3v1.3h-1.3zM217.1 234.0h1.3v1.3h-1.3zM226.0 226.4h1.3v1.3h-1.3zM220.8 243.2h1.3v1.3h-1.3zM228.5 227.8h1.3v1.3h-1.3zM217.6 241.4h1.3v1.3h-1.3zM228.4 232.0h1.3v1.3h-1.3zM219.5 240.6h1.3v1.3h-1.3zM233.9 229.2h1.3v1.3h-1.3zM226.1 239.3h1.3v1.3h-1.3zM227.0 233.3h1.3v1.3h-1.3zM217.2 242.5h1.3v1.3h-1.3zM234.3 240.8h1.3v1.3h-1.3zM215.4 243.2h1.3v1.3h-1.3zM218.1 240.6h1.3v1.3h-1.3zM237.6 229.4h1.3v1.3h-1.3zM225.3 240.4h1.3v1.3h-1.3zM228.0 238.7h1.3v1.3h-1.3zM218.3 222.6h1.3v1.3h-1.3zM236.9 242.8h1.3v1.3h-1.3zM232.4 240.5h1.3v1.3h-1.3zM221.7 242.4h1.3v1.3h-1.3zM229.7 242.2h1.3v1.3h-1.3zM236.7 242.2h1.3v1.3h-1.3zM236.0 223.7h1.3v1.3h-1.3zM237.3 234.4h1.3v1.3h-1.3zM234.6 243.3h1.3v1.3h-1.3zM230.2 243.6h1.3v1.3h-1.3zM231.2 221.1h1.3v1.3h-1.3zM214.3 229.6h1.3v1.3h-1.3zM237.8 231.6h1.3v1.3h-1.3zM232.1 240.4h1.3v1.3h-1.3zM234.4 243.6h1.3v1.3h-1.3zM229.4 236.8h1.3v1.3h-1.3zM224.8 238.1h1.3v1.3h-1.3zM217.6 234.9h1.3v1.3h-1.3zM231.3 239.0h1.3v1.3h-1.3zM227.8 233.8h1.3v1.3h-1.3zM235.0 239.2h1.3v1.3h-1.3zM220.8 231.4h1.3v1.3h-1.3zM214.1 237.4h1.3v1.3h-1.3zM215.5 241.1h1.3v1.3h-1.3zM233.1 238.1h1.3v1.3h-1.3zM234.9 232.4h1.3v1.3h-1.3zM225.5 232.0h1.3v1.3h-1.3zM215.9 233.7h1.3v1.3h-1.3zM220.3 241.0h1.3v1.3h-1.3zM235.4 238.3h1.3v1.3h-1.3zM229.2 221.4h1.3v1.3h-1.3zM223.5 242.2h1.3v1.3h-1.3zM230.7 236.8h1.3v1.3h-1.3zM230.7 238.3h1.3v1.3h-1.3zM230.8 218.4h1.3v1.3h-1.3zM227.7 242.5h1.3v1.3h-1.3zM226.8 237.0h1.3v1.3h-1.3zM229.4 243.7h1.3v1.3h-1.3zM218.0 242.4h1.3v1.3h-1.3zM218.0 212.9h1.3v1.3h-1.3zM223.4 231.9h1.3v1.3h-1.3zM222.2 237.4h1.3v1.3h-1.3zM226.1 232.3h1.3v1.3h-1.3zM218.6 241.9h1.3v1.3h-1.3zM213.9 242.8h1.3v1.3h-1.3zM237.9 242.2h1.3v1.3h-1.3zM224.8 226.4h1.3v1.3h-1.3zM219.4 243.5h1.3v1.3h-1.3zM222.1 240.9h1.3v1.3h-1.3zM219.4 229.5h1.3v1.3h-1.3zM223.2 243.2h1.3v1.3h-1.3zM216.3 240.1h1.3v1.3h-1.3zM225.7 230.8h1.3v1.3h-1.3zM215.9 238.3h1.3v1.3h-1.3zM214.5 243.6h1.3v1.3h-1.3zM216.8 233.3h1.3v1.3h-1.3zM226.8 237.3h1.3v1.3h-1.3zM224.1 242.1h1.3v1.3h-1.3zM222.2 237.8h1.3v1.3h-1.3zM222.1 240.2h1.3v1.3h-1.3zM238.4 239.8h1.3v1.3h-1.3zM237.5 239.5h1.3v1.3h-1.3zM234.9 242.0h1.3v1.3h-1.3zM219.3 241.9h1.3v1.3h-1.3zM236.1 236.0h1.3v1.3h-1.3zM228.0 232.9h1.3v1.3h-1.3zM227.3 236.6h1.3v1.3h-1.3zM231.8 237.8h1.3v1.3h-1.3zM231.7 243.2h1.3v1.3h-1.3zM238.2 234.9h1.3v1.3h-1.3zM229.5 230.3h1.3v1.3h-1.3zM217.7 242.9h1.3v1.3h-1.3zM183.7 31.1h1.3v1.3h-1.3zM182.2 74.8h1.3v1.3h-1.3zM187.5 71.3h1.3v1.3h-1.3zM189.0 104.4h1.3v1.3h-1.3zM206.2 110.0h1.3v1.3h-1.3zM180.0 85.3h1.3v1.3h-1.3zM258.6 160.7h1.3v1.3h-1.3zM268.4 164.2h1.3v1.3h-1.3zM257.1 182.5h1.3v1.3h-1.3zM245.1 193.1h1.3v1.3h-1.3zM269.9 212.1h1.3v1.3h-1.3zM209.2 132.5h1.3v1.3h-1.3zM190.5 132.5h1.3v1.3h-1.3zM198.0 141.0h1.3v1.3h-1.3zM215.2 171.2h1.3v1.3h-1.3z" fill="#E31A1C"/>
<text x="696.0" y="20.6" font-size="25" text-anchor="start" textLength="66.0" lengthAdjust="spacingAndGlyphs" fill="#111">KEGG</text>
<line x1="610.2" y1="30" x2="610.2" y2="252.8" stroke="#6a6a6a" stroke-width="1"/>
<line x1="610.2" y1="252.8" x2="807" y2="252.8" stroke="#6a6a6a" stroke-width="1"/>
<line x1="606.8000000000001" y1="35.2" x2="610.2" y2="35.2" stroke="#6a6a6a" stroke-width="1"/>
<text x="602.7" y="39.0" font-size="12.15" text-anchor="end" fill="#1a1a1a">Lysosome</text>
<line x1="606.8000000000001" y1="46.3" x2="610.2" y2="46.3" stroke="#6a6a6a" stroke-width="1"/>
<text x="602.7" y="50.1" font-size="12.15" text-anchor="end" fill="#1a1a1a">Jak-STAT signaling pathway</text>
<line x1="606.8000000000001" y1="57.4" x2="610.2" y2="57.4" stroke="#6a6a6a" stroke-width="1"/>
<text x="602.7" y="61.2" font-size="12.15" text-anchor="end" fill="#1a1a1a">Adherens junction</text>
<line x1="606.8000000000001" y1="68.5" x2="610.2" y2="68.5" stroke="#6a6a6a" stroke-width="1"/>
<text x="602.7" y="72.3" font-size="12.15" text-anchor="end" fill="#1a1a1a">Prolactin signaling pathway</text>
<line x1="606.8000000000001" y1="79.6" x2="610.2" y2="79.6" stroke="#6a6a6a" stroke-width="1"/>
<text x="602.7" y="83.4" font-size="12.15" text-anchor="end" fill="#1a1a1a">Regulation of actin cytoskeleton</text>
<line x1="606.8000000000001" y1="90.8" x2="610.2" y2="90.8" stroke="#6a6a6a" stroke-width="1"/>
<text x="602.7" y="94.5" font-size="12.15" text-anchor="end" fill="#1a1a1a">Focal adhesion</text>
<line x1="606.8000000000001" y1="101.9" x2="610.2" y2="101.9" stroke="#6a6a6a" stroke-width="1"/>
<text x="602.7" y="105.7" font-size="12.15" text-anchor="end" fill="#1a1a1a">Apoptosis</text>
<line x1="606.8000000000001" y1="113.0" x2="610.2" y2="113.0" stroke="#6a6a6a" stroke-width="1"/>
<text x="602.7" y="116.8" font-size="12.15" text-anchor="end" fill="#1a1a1a">FoxO signaling pathway</text>
<line x1="606.8000000000001" y1="124.1" x2="610.2" y2="124.1" stroke="#6a6a6a" stroke-width="1"/>
<text x="602.7" y="127.9" font-size="12.15" text-anchor="end" fill="#1a1a1a">MAPK signaling pathway</text>
<line x1="606.8000000000001" y1="135.2" x2="610.2" y2="135.2" stroke="#6a6a6a" stroke-width="1"/>
<text x="602.7" y="139.0" font-size="12.15" text-anchor="end" fill="#1a1a1a">NF-kappa B signaling pathway</text>
<line x1="606.8000000000001" y1="146.3" x2="610.2" y2="146.3" stroke="#6a6a6a" stroke-width="1"/>
<text x="602.7" y="150.1" font-size="12.15" text-anchor="end" fill="#1a1a1a">Human cytomegalovirus infection</text>
<line x1="606.8000000000001" y1="157.4" x2="610.2" y2="157.4" stroke="#6a6a6a" stroke-width="1"/>
<text x="602.7" y="161.2" font-size="12.15" text-anchor="end" fill="#1a1a1a">Pathways in cancer</text>
<line x1="606.8000000000001" y1="168.5" x2="610.2" y2="168.5" stroke="#6a6a6a" stroke-width="1"/>
<text x="602.7" y="172.3" font-size="12.15" text-anchor="end" fill="#1a1a1a">Salmonella infection</text>
<line x1="606.8000000000001" y1="179.6" x2="610.2" y2="179.6" stroke="#6a6a6a" stroke-width="1"/>
<text x="602.7" y="183.4" font-size="12.15" text-anchor="end" fill="#1a1a1a">EGFR tyrosine kinase inhibitor resistance</text>
<line x1="606.8000000000001" y1="190.7" x2="610.2" y2="190.7" stroke="#6a6a6a" stroke-width="1"/>
<text x="602.7" y="194.5" font-size="12.15" text-anchor="end" fill="#1a1a1a">Platinum drug resistance</text>
<line x1="606.8000000000001" y1="201.8" x2="610.2" y2="201.8" stroke="#6a6a6a" stroke-width="1"/>
<text x="602.7" y="205.6" font-size="12.15" text-anchor="end" fill="#1a1a1a">Chemokine signaling pathway</text>
<line x1="606.8000000000001" y1="213.0" x2="610.2" y2="213.0" stroke="#6a6a6a" stroke-width="1"/>
<text x="602.7" y="216.8" font-size="12.15" text-anchor="end" fill="#1a1a1a">Hepatitis B</text>
<line x1="606.8000000000001" y1="224.1" x2="610.2" y2="224.1" stroke="#6a6a6a" stroke-width="1"/>
<text x="602.7" y="227.9" font-size="12.15" text-anchor="end" fill="#1a1a1a">Inositol phosphate metabolism</text>
<line x1="606.8000000000001" y1="235.2" x2="610.2" y2="235.2" stroke="#6a6a6a" stroke-width="1"/>
<text x="602.7" y="239.0" font-size="12.15" text-anchor="end" fill="#1a1a1a">NOD-like receptor signaling pathway</text>
<line x1="606.8000000000001" y1="246.3" x2="610.2" y2="246.3" stroke="#6a6a6a" stroke-width="1"/>
<text x="602.7" y="250.1" font-size="12.15" text-anchor="end" fill="#1a1a1a">TNF signaling pathway</text>
<line x1="613.4" y1="252.8" x2="613.4" y2="255.5" stroke="#6a6a6a" stroke-width="1"/>
<text x="613.4" y="268.2" font-size="11.9" text-anchor="middle" fill="#222">0.15</text>
<line x1="673.2" y1="252.8" x2="673.2" y2="255.5" stroke="#6a6a6a" stroke-width="1"/>
<text x="673.2" y="268.2" font-size="11.9" text-anchor="middle" fill="#222">0.20</text>
<line x1="732.5" y1="252.8" x2="732.5" y2="255.5" stroke="#6a6a6a" stroke-width="1"/>
<text x="732.5" y="268.2" font-size="11.9" text-anchor="middle" fill="#222">0.25</text>
<line x1="792" y1="252.8" x2="792" y2="255.5" stroke="#6a6a6a" stroke-width="1"/>
<text x="792.0" y="268.2" font-size="11.9" text-anchor="middle" fill="#222">0.30</text>
<text x="708.8" y="288.0" font-size="12" text-anchor="middle" fill="#222">Rich Ratio</text>
<circle cx="696" cy="35.6" r="3.0" fill="#1F2C86"/>
<circle cx="789.8" cy="46.8" r="2.5" fill="#1F2C86"/>
<circle cx="675.9" cy="57.9" r="2.9" fill="#1F2C86"/>
<circle cx="805.9" cy="69.1" r="2.2" fill="#1F2C86"/>
<circle cx="650.2" cy="80.3" r="3.1" fill="#1F2C86"/>
<circle cx="627.1" cy="91.5" r="3.9" fill="#1F2C86"/>
<circle cx="656.9" cy="102.4" r="2.9" fill="#1F2C86"/>
<circle cx="710.5" cy="113.5" r="2.5" fill="#1F2C86"/>
<circle cx="650.6" cy="124.8" r="2.9" fill="#1F2C86"/>
<circle cx="667.4" cy="135.7" r="2.6" fill="#1F2E8C"/>
<circle cx="629.8" cy="146.8" r="3.3" fill="#22348F"/>
<circle cx="609.4" cy="158" r="4.5" fill="#2A4A9E"/>
<circle cx="642.3" cy="169" r="2.6" fill="#4D97D8"/>
<circle cx="724" cy="180.2" r="2.2" fill="#64AEE0"/>
<circle cx="665" cy="191.2" r="2.3" fill="#6BB5E4"/>
<circle cx="662.2" cy="202.5" r="2.5" fill="#5EA8DE"/>
<circle cx="649.4" cy="213.4" r="2.6" fill="#5FA9DF"/>
<circle cx="729" cy="224.2" r="2.0" fill="#6DBAE5"/>
<circle cx="622.6" cy="235.7" r="3.0" fill="#7BC4EA"/>
<circle cx="658.4" cy="246.8" r="2.4" fill="#6FBBE6"/>
<text x="825.6" y="32.2" font-size="12.06" text-anchor="start" fill="#1a1a1a">Gene Number</text>
<circle cx="834.6" cy="44.2" r="2.0" fill="#111"/>
<text x="841.6" y="46.0" font-size="11.5" text-anchor="start" fill="#1a1a1a">24</text>
<circle cx="834.6" cy="54.2" r="2.6" fill="#111"/>
<text x="841.6" y="56.2" font-size="11.5" text-anchor="start" fill="#1a1a1a">71</text>
<circle cx="834.6" cy="65.2" r="3.2" fill="#111"/>
<text x="842.9" y="68.8" font-size="11.5" text-anchor="start" fill="#1a1a1a">118</text>
<circle cx="834.6" cy="77.1" r="3.8" fill="#111"/>
<text x="842.9" y="82.4" font-size="11.5" text-anchor="start" fill="#1a1a1a">164</text>
<circle cx="834.6" cy="90.7" r="4.5" fill="#111"/>
<text x="844.5" y="95.8" font-size="11.5" text-anchor="start" fill="#1a1a1a">211</text>
<text x="832.8" y="111.6" font-size="12" text-anchor="start" fill="#1a1a1a">Qvalue</text>
<linearGradient id="qb" x1="0" y1="0" x2="0" y2="1"><stop offset="0" stop-color="#1E2C84"/><stop offset="0.3" stop-color="#2743A0"/><stop offset="0.6" stop-color="#3A73C2"/><stop offset="1" stop-color="#6BBCE8"/></linearGradient>
<rect x="829.9" y="120.4" width="9.8" height="87" fill="url(#qb)"/>
<line x1="839.7" y1="120.9" x2="842.5" y2="120.9" stroke="#888" stroke-width="0.8"/>
<line x1="839.7" y1="145.1" x2="842.5" y2="145.1" stroke="#888" stroke-width="0.8"/>
<line x1="839.7" y1="170.4" x2="842.5" y2="170.4" stroke="#888" stroke-width="0.8"/>
<line x1="839.7" y1="195.5" x2="842.5" y2="195.5" stroke="#888" stroke-width="0.8"/>
<line x1="839.7" y1="206.9" x2="842.5" y2="206.9" stroke="#888" stroke-width="0.8"/>
<text x="846.8" y="124.7" font-size="11.8" text-anchor="start" fill="#1a1a1a">0</text>
<text x="846.8" y="149.0" font-size="11.8" text-anchor="start" fill="#1a1a1a">1.0e-3</text>
<text x="846.8" y="174.3" font-size="11.8" text-anchor="start" fill="#1a1a1a">2.0e-3</text>
<text x="846.8" y="199.6" font-size="11.8" text-anchor="start" fill="#1a1a1a">3.0e-3</text>
<text x="1304.0" y="20.7" font-size="25" text-anchor="start" textLength="35.3" lengthAdjust="spacingAndGlyphs" fill="#111">GO</text>
<line x1="1209.6" y1="41.8" x2="1209.6" y2="254.1" stroke="#6a6a6a" stroke-width="1"/>
<line x1="1209.6" y1="254.1" x2="1384" y2="254.1" stroke="#6a6a6a" stroke-width="1"/>
<line x1="1206.1999999999998" y1="46.8" x2="1209.6" y2="46.8" stroke="#6a6a6a" stroke-width="1"/>
<text x="1202.5" y="50.3" font-size="12" text-anchor="end" fill="#1a1a1a">serine-type carboxypeptidase activity</text>
<line x1="1206.1999999999998" y1="57.4" x2="1209.6" y2="57.4" stroke="#6a6a6a" stroke-width="1"/>
<text x="1202.5" y="60.9" font-size="12" text-anchor="end" fill="#1a1a1a">Ras GTPase binding</text>
<line x1="1206.1999999999998" y1="68.0" x2="1209.6" y2="68.0" stroke="#6a6a6a" stroke-width="1"/>
<text x="1202.5" y="71.5" font-size="12" text-anchor="end" fill="#1a1a1a">Rho GTPase binding</text>
<line x1="1206.1999999999998" y1="78.6" x2="1209.6" y2="78.6" stroke="#6a6a6a" stroke-width="1"/>
<text x="1202.5" y="82.1" font-size="12" text-anchor="end" fill="#1a1a1a">small GTPase binding</text>
<line x1="1206.1999999999998" y1="89.2" x2="1209.6" y2="89.2" stroke="#6a6a6a" stroke-width="1"/>
<text x="1202.5" y="92.7" font-size="12" text-anchor="end" fill="#1a1a1a">ion binding</text>
<line x1="1206.1999999999998" y1="99.8" x2="1209.6" y2="99.8" stroke="#6a6a6a" stroke-width="1"/>
<text x="1202.5" y="103.3" font-size="12" text-anchor="end" fill="#1a1a1a">GTPase binding</text>
<line x1="1206.1999999999998" y1="110.4" x2="1209.6" y2="110.4" stroke="#6a6a6a" stroke-width="1"/>
<text x="1202.5" y="113.9" font-size="12" text-anchor="end" fill="#1a1a1a">vitamin transport</text>
<line x1="1206.1999999999998" y1="121.0" x2="1209.6" y2="121.0" stroke="#6a6a6a" stroke-width="1"/>
<text x="1202.5" y="124.5" font-size="12" text-anchor="end" fill="#1a1a1a">cofactor transport</text>
<line x1="1206.1999999999998" y1="131.6" x2="1209.6" y2="131.6" stroke="#6a6a6a" stroke-width="1"/>
<text x="1202.5" y="135.1" font-size="12" text-anchor="end" fill="#1a1a1a">serine-type exopeptidase activity</text>
<line x1="1206.1999999999998" y1="142.2" x2="1209.6" y2="142.2" stroke="#6a6a6a" stroke-width="1"/>
<text x="1202.5" y="145.7" font-size="12" text-anchor="end" fill="#1a1a1a">catalytic activity, acting on a protein</text>
<line x1="1206.1999999999998" y1="152.8" x2="1209.6" y2="152.8" stroke="#6a6a6a" stroke-width="1"/>
<text x="1202.5" y="156.3" font-size="12" text-anchor="end" fill="#1a1a1a">carboxypeptidase activity</text>
<line x1="1206.1999999999998" y1="163.4" x2="1209.6" y2="163.4" stroke="#6a6a6a" stroke-width="1"/>
<text x="1202.5" y="166.9" font-size="12" text-anchor="end" fill="#1a1a1a">deoxyribonuclease II activity</text>
<line x1="1206.1999999999998" y1="174.0" x2="1209.6" y2="174.0" stroke="#6a6a6a" stroke-width="1"/>
<text x="1202.5" y="177.5" font-size="12" text-anchor="end" fill="#1a1a1a">binding</text>
<line x1="1206.1999999999998" y1="184.6" x2="1209.6" y2="184.6" stroke="#6a6a6a" stroke-width="1"/>
<text x="1202.5" y="188.1" font-size="12" text-anchor="end" fill="#1a1a1a">positive regulation of cell proliferation</text>
<line x1="1206.1999999999998" y1="195.2" x2="1209.6" y2="195.2" stroke="#6a6a6a" stroke-width="1"/>
<text x="1202.5" y="198.7" font-size="12" text-anchor="end" fill="#1a1a1a">endodeoxyribonuclease activity, producing 3'-phosphomonoesters</text>
<line x1="1206.1999999999998" y1="205.8" x2="1209.6" y2="205.8" stroke="#6a6a6a" stroke-width="1"/>
<text x="1202.5" y="209.3" font-size="12" text-anchor="end" fill="#1a1a1a">drug transport</text>
<line x1="1206.1999999999998" y1="216.4" x2="1209.6" y2="216.4" stroke="#6a6a6a" stroke-width="1"/>
<text x="1202.5" y="219.9" font-size="12" text-anchor="end" fill="#1a1a1a">metal ion binding</text>
<line x1="1206.1999999999998" y1="227.0" x2="1209.6" y2="227.0" stroke="#6a6a6a" stroke-width="1"/>
<text x="1202.5" y="230.5" font-size="12" text-anchor="end" fill="#1a1a1a">alpha-mannosidase activity</text>
<line x1="1206.1999999999998" y1="237.6" x2="1209.6" y2="237.6" stroke="#6a6a6a" stroke-width="1"/>
<text x="1202.5" y="241.1" font-size="12" text-anchor="end" fill="#1a1a1a">cation binding</text>
<line x1="1206.1999999999998" y1="248.2" x2="1209.6" y2="248.2" stroke="#6a6a6a" stroke-width="1"/>
<text x="1202.5" y="251.7" font-size="12" text-anchor="end" fill="#1a1a1a">exopeptidase activity</text>
<line x1="1227.5" y1="254.1" x2="1227.5" y2="256.8" stroke="#6a6a6a" stroke-width="1"/>
<text x="1227.5" y="267.4" font-size="12.2" text-anchor="middle" fill="#222">0.2</text>
<line x1="1266" y1="254.1" x2="1266" y2="256.8" stroke="#6a6a6a" stroke-width="1"/>
<text x="1266.0" y="267.4" font-size="12.2" text-anchor="middle" fill="#222">0.4</text>
<line x1="1305" y1="254.1" x2="1305" y2="256.8" stroke="#6a6a6a" stroke-width="1"/>
<text x="1305.0" y="267.4" font-size="12.2" text-anchor="middle" fill="#222">0.6</text>
<line x1="1343.6" y1="254.1" x2="1343.6" y2="256.8" stroke="#6a6a6a" stroke-width="1"/>
<text x="1343.6" y="267.4" font-size="12.2" text-anchor="middle" fill="#222">0.8</text>
<line x1="1382.7" y1="254.1" x2="1382.7" y2="256.8" stroke="#6a6a6a" stroke-width="1"/>
<text x="1382.7" y="267.4" font-size="12.2" text-anchor="middle" fill="#222">1.0</text>
<text x="1306.6" y="284.1" font-size="12.26" text-anchor="middle" fill="#222">Rich Ratio</text>
<circle cx="1327.3" cy="47.2" r="2.5" fill="#1F2B85"/>
<circle cx="1255.5" cy="57.6" r="2.4" fill="#1F2B85"/>
<circle cx="1273.5" cy="68.2" r="2.4" fill="#1F2B85"/>
<circle cx="1255.5" cy="78.7" r="2.4" fill="#1F2B85"/>
<circle cx="1210.6" cy="89.6" r="4.4" fill="#1F2E88"/>
<circle cx="1255.3" cy="100" r="2.4" fill="#1F2B85"/>
<circle cx="1344.2" cy="110.8" r="2.4" fill="#1F2B85"/>
<circle cx="1344.2" cy="121.3" r="2.4" fill="#1F2B85"/>
<circle cx="1310" cy="131.7" r="2.4" fill="#1F2B85"/>
<circle cx="1214.9" cy="142.1" r="2.8" fill="#1F2B85"/>
<circle cx="1264" cy="153.2" r="2.4" fill="#1F2B85"/>
<circle cx="1382.7" cy="164" r="2.3" fill="#1F2B85"/>
<circle cx="1209.2" cy="174.5" r="4.9" fill="#1E3A8E"/>
<circle cx="1382.7" cy="185.1" r="2.3" fill="#1F2B85"/>
<circle cx="1382.7" cy="195.4" r="2.3" fill="#1F2B85"/>
<circle cx="1317.8" cy="206" r="2.4" fill="#1F2B85"/>
<circle cx="1211.2" cy="216.7" r="3.4" fill="#2A4FA0"/>
<circle cx="1285.3" cy="227.3" r="2.4" fill="#4A70C0"/>
<circle cx="1211" cy="238" r="3.4" fill="#4D7CC8"/>
<circle cx="1237" cy="248.6" r="3.0" fill="#90CEEE"/>
<text x="1401.4" y="46.7" font-size="12.25" text-anchor="start" fill="#1a1a1a">Gene Number</text>
<circle cx="1413.3" cy="55.1" r="2.0" fill="#111"/>
<text x="1423.0" y="57.7" font-size="11.8" text-anchor="start" fill="#1a1a1a">3</text>
<circle cx="1413.3" cy="64.8" r="2.6" fill="#111"/>
<text x="1423.0" y="67.4" font-size="11.8" text-anchor="start" fill="#1a1a1a">94</text>
<circle cx="1413.3" cy="75.3" r="3.3" fill="#111"/>
<text x="1423.0" y="78.4" font-size="11.8" text-anchor="start" fill="#1a1a1a">185</text>
<circle cx="1413.3" cy="87.2" r="3.9" fill="#111"/>
<text x="1423.0" y="90.3" font-size="11.8" text-anchor="start" fill="#1a1a1a">276</text>
<circle cx="1413.3" cy="99.1" r="4.8" fill="#111"/>
<text x="1423.0" y="102.3" font-size="11.8" text-anchor="start" fill="#1a1a1a">367</text>
<text x="1409.8" y="119.3" font-size="12.2" text-anchor="start" fill="#1a1a1a">Qvalue</text>
<linearGradient id="qc" x1="0" y1="0" x2="0" y2="1"><stop offset="0" stop-color="#1E2A7E"/><stop offset="0.2" stop-color="#233A90"/><stop offset="0.5" stop-color="#2D50A6"/><stop offset="0.75" stop-color="#3D74BF"/><stop offset="1" stop-color="#64C0EA"/></linearGradient>
<rect x="1408.3" y="128.1" width="10.3" height="81.4" fill="url(#qc)"/>
<line x1="1418.6" y1="128.6" x2="1421.4" y2="128.6" stroke="#888" stroke-width="0.8"/>
<line x1="1418.6" y1="143.5" x2="1421.4" y2="143.5" stroke="#888" stroke-width="0.8"/>
<line x1="1418.6" y1="172.6" x2="1421.4" y2="172.6" stroke="#888" stroke-width="0.8"/>
<line x1="1418.6" y1="209" x2="1421.4" y2="209" stroke="#888" stroke-width="0.8"/>
<text x="1426.5" y="148.4" font-size="12.3" text-anchor="start" fill="#1a1a1a">0.10</text>
<text x="1426.5" y="179.6" font-size="12.3" text-anchor="start" fill="#1a1a1a">0.15</text>
<g shape-rendering="crispEdges">
<rect x="39.00" y="317.00" width="166.50" height="51.56" fill="#CD2B2B"/>
<rect x="39.00" y="368.56" width="166.50" height="25.78" fill="#DE573F"/>
<rect x="39.00" y="394.34" width="166.50" height="25.78" fill="#E66B4B"/>
<rect x="39.00" y="420.11" width="166.50" height="25.78" fill="#F2A56C"/>
<rect x="39.00" y="445.89" width="166.50" height="25.78" fill="#F09D66"/>
<rect x="39.00" y="471.67" width="166.50" height="25.78" fill="#EF9360"/>
<rect x="39.00" y="497.45" width="166.50" height="25.78" fill="#EF8F5D"/>
<rect x="39.00" y="523.23" width="166.50" height="25.78" fill="#F4B77A"/>
<rect x="39.00" y="549.01" width="166.50" height="51.56" fill="#F3B276"/>
<rect x="39.00" y="600.56" width="166.50" height="51.56" fill="#F4D38A"/>
<rect x="39.00" y="652.12" width="166.50" height="103.11" fill="#F4D58B"/>
<rect x="39.00" y="755.24" width="166.50" height="25.78" fill="#F5DA8E"/>
<rect x="39.00" y="781.01" width="166.50" height="51.56" fill="#77A4CD"/>
<rect x="39.00" y="832.57" width="166.50" height="25.78" fill="#6994C2"/>
<rect x="39.00" y="858.35" width="166.50" height="25.78" fill="#6B96C3"/>
<rect x="39.00" y="884.13" width="166.50" height="25.78" fill="#507FB7"/>
<rect x="39.00" y="909.91" width="166.50" height="25.78" fill="#4171AE"/>
<rect x="39.00" y="935.69" width="166.50" height="77.34" fill="#3C6FAC"/>
<rect x="39.00" y="1013.02" width="166.50" height="51.56" fill="#A6CAE0"/>
<rect x="39.00" y="1064.58" width="166.50" height="25.78" fill="#A9CCE1"/>
<rect x="39.00" y="1090.36" width="166.50" height="25.78" fill="#A8CBE1"/>
<rect x="39.00" y="1116.14" width="166.50" height="25.78" fill="#A9CCE1"/>
<rect x="39.00" y="1141.91" width="166.50" height="25.78" fill="#9FC4DD"/>
<rect x="39.00" y="1167.69" width="166.50" height="25.78" fill="#A4C8DF"/>
<rect x="39.00" y="1193.47" width="166.50" height="25.78" fill="#A1C6DE"/>
<rect x="39.00" y="1219.25" width="166.50" height="25.78" fill="#82ADD2"/>
<rect x="39.00" y="1245.03" width="166.50" height="25.78" fill="#92BAD6"/>
<rect x="39.00" y="1270.81" width="166.50" height="180.45" fill="#D5E7F1"/>
<rect x="39.00" y="1451.26" width="166.50" height="51.56" fill="#E1EDF3"/>
<rect x="39.00" y="1502.81" width="166.50" height="128.89" fill="#D7E8F2"/>
<rect x="39.00" y="1631.71" width="166.50" height="25.78" fill="#CAE0EC"/>
<rect x="39.00" y="1657.49" width="166.50" height="103.11" fill="#CEE3EE"/>
<rect x="39.00" y="1760.60" width="166.50" height="51.56" fill="#C6DDEB"/>
<rect x="39.00" y="1812.16" width="166.50" height="51.56" fill="#BFDAE9"/>
<rect x="39.00" y="1863.71" width="166.50" height="25.78" fill="#BAD7E8"/>
<rect x="39.00" y="1889.49" width="166.50" height="51.56" fill="#BFDAE9"/>
<rect x="39.00" y="1941.05" width="166.50" height="51.56" fill="#B5D4E7"/>
<rect x="39.00" y="1992.61" width="166.50" height="128.89" fill="#AFD0E4"/>
<rect x="205.50" y="317.00" width="166.50" height="51.56" fill="#3C6FAC"/>
<rect x="205.50" y="368.56" width="166.50" height="25.78" fill="#5F8FC0"/>
<rect x="205.50" y="394.34" width="166.50" height="25.78" fill="#77A4CD"/>
<rect x="205.50" y="420.11" width="166.50" height="25.78" fill="#A7CAE0"/>
<rect x="205.50" y="445.89" width="166.50" height="25.78" fill="#A2C6DE"/>
<rect x="205.50" y="471.67" width="166.50" height="25.78" fill="#98BDD9"/>
<rect x="205.50" y="497.45" width="166.50" height="25.78" fill="#93BAD6"/>
<rect x="205.50" y="523.23" width="166.50" height="25.78" fill="#BDDAE9"/>
<rect x="205.50" y="549.01" width="166.50" height="51.56" fill="#B5D4E8"/>
<rect x="205.50" y="600.56" width="166.50" height="51.56" fill="#D8E8F2"/>
<rect x="205.50" y="652.12" width="166.50" height="103.11" fill="#D9E9F2"/>
<rect x="205.50" y="755.24" width="166.50" height="25.78" fill="#DDEBF3"/>
<rect x="205.50" y="781.01" width="166.50" height="51.56" fill="#E66B4B"/>
<rect x="205.50" y="832.57" width="166.50" height="25.78" fill="#DF5B41"/>
<rect x="205.50" y="858.35" width="166.50" height="25.78" fill="#E06043"/>
<rect x="205.50" y="884.13" width="166.50" height="25.78" fill="#D84536"/>
<rect x="205.50" y="909.91" width="166.50" height="25.78" fill="#CE2D2B"/>
<rect x="205.50" y="935.69" width="166.50" height="77.34" fill="#CC2A2A"/>
<rect x="205.50" y="1013.02" width="166.50" height="51.56" fill="#F3A76D"/>
<rect x="205.50" y="1064.58" width="166.50" height="25.78" fill="#F3AB70"/>
<rect x="205.50" y="1090.36" width="166.50" height="51.56" fill="#F3AA6F"/>
<rect x="205.50" y="1141.91" width="166.50" height="25.78" fill="#F09C65"/>
<rect x="205.50" y="1167.69" width="166.50" height="25.78" fill="#F2A36A"/>
<rect x="205.50" y="1193.47" width="166.50" height="25.78" fill="#F19F67"/>
<rect x="205.50" y="1219.25" width="166.50" height="25.78" fill="#EB8255"/>
<rect x="205.50" y="1245.03" width="166.50" height="25.78" fill="#EE905C"/>
<rect x="205.50" y="1270.81" width="166.50" height="180.45" fill="#F4CF88"/>
<rect x="205.50" y="1451.26" width="166.50" height="51.56" fill="#F5D98E"/>
<rect x="205.50" y="1502.81" width="166.50" height="128.89" fill="#F4D38A"/>
<rect x="205.50" y="1631.71" width="166.50" height="25.78" fill="#F3C581"/>
<rect x="205.50" y="1657.49" width="166.50" height="103.11" fill="#F4CB85"/>
<rect x="205.50" y="1760.60" width="166.50" height="51.56" fill="#F3C07D"/>
<rect x="205.50" y="1812.16" width="166.50" height="51.56" fill="#F3BC7A"/>
<rect x="205.50" y="1863.71" width="166.50" height="25.78" fill="#F2B676"/>
<rect x="205.50" y="1889.49" width="166.50" height="51.56" fill="#F3BC7A"/>
<rect x="205.50" y="1941.05" width="166.50" height="51.56" fill="#F2B273"/>
<rect x="205.50" y="1992.61" width="166.50" height="128.89" fill="#F2AC6F"/>
</g>
<g font-size="14.4" fill="#1a1a1a" transform="translate(376.60,0) scale(0.63,1)">
<text x="0" y="342.48">COX11</text>
<text x="0" y="368.26">IGF2R</text>
<text x="0" y="394.04">HEX</text>
<text x="0" y="419.81">HEX</text>
<text x="0" y="445.59">CTSB</text>
<text x="0" y="471.37">YEATS</text>
<text x="0" y="497.15">GUSB</text>
<text x="0" y="522.93">SORT1</text>
<text x="0" y="548.71">CTSF</text>
<text x="0" y="574.49">CLTC</text>
<text x="0" y="600.26">TRIM9_67</text>
<text x="0" y="626.04">ARSB</text>
<text x="0" y="651.82">GM2A</text>
<text x="0" y="677.60">SLC17A</text>
<text x="0" y="703.38">HEX</text>
<text x="0" y="729.16">NPC1L1</text>
<text x="0" y="754.94">ABCB9</text>
<text x="0" y="780.71">IGF2R</text>
<text x="0" y="806.49">DNASE2</text>
<text x="0" y="832.27">NAGA</text>
<text x="0" y="858.05">DNASE2</text>
<text x="0" y="883.83">NAGPA</text>
<text x="0" y="909.61">ARSI_J</text>
<text x="0" y="935.39">GM2A</text>
<text x="0" y="961.16">SLC17A</text>
<text x="0" y="986.94">SLC17A</text>
<text x="0" y="1012.72">SLC17A</text>
<text x="0" y="1038.50">CTSA</text>
<text x="0" y="1064.28">NRAMP2</text>
<text x="0" y="1090.06">NAGPA</text>
<text x="0" y="1115.84">CD68</text>
<text x="0" y="1141.61">CTSZ</text>
<text x="0" y="1167.39">CTSA</text>
<text x="0" y="1193.17">CLN5</text>
<text x="0" y="1218.95">CTSA</text>
<text x="0" y="1244.73">CTNS</text>
<text x="0" y="1270.51">CTSF</text>
<text x="0" y="1296.29">ARSB</text>
<text x="0" y="1322.06">CTSA</text>
<text x="0" y="1347.84">CLTC</text>
<text x="0" y="1373.62">DNASE2</text>
<text x="0" y="1399.40">HEX</text>
<text x="0" y="1425.18">AGMO</text>
<text x="0" y="1450.96">AP4M1</text>
<text x="0" y="1476.74">CTSL</text>
<text x="0" y="1502.51">CTSL</text>
<text x="0" y="1528.29">LGMN</text>
<text x="0" y="1554.07">PPT</text>
<text x="0" y="1579.85">LITAF</text>
<text x="0" y="1605.63">CTSD</text>
<text x="0" y="1631.41">GM2A</text>
<text x="0" y="1657.19">SMPD</text>
<text x="0" y="1682.96">CTSL</text>
<text x="0" y="1708.74">TRIM9_67</text>
<text x="0" y="1734.52">CLN7</text>
<text x="0" y="1760.30">MANBA</text>
<text x="0" y="1786.08">CTSB</text>
<text x="0" y="1811.86">NAGA</text>
<text x="0" y="1837.64">CIC</text>
<text x="0" y="1863.41">CTSL</text>
<text x="0" y="1889.19">CTSF</text>
<text x="0" y="1914.97">CTSA</text>
<text x="0" y="1940.75">LAMAN</text>
<text x="0" y="1966.53">ARSI_J</text>
<text x="0" y="1992.31">GLB1</text>
<text x="0" y="2018.09">HEX</text>
<text x="0" y="2043.86">CTSC</text>
<text x="0" y="2069.64">LAMAN</text>
<text x="0" y="2095.42">CTSC</text>
<text x="0" y="2121.20">CTSL</text>
</g>
<g shape-rendering="crispEdges">
<rect x="503.40" y="318.80" width="170.20" height="73.08" fill="#A8CBE0"/>
<rect x="503.40" y="391.88" width="170.20" height="48.72" fill="#9FC4DD"/>
<rect x="503.40" y="440.60" width="170.20" height="36.54" fill="#95BCD7"/>
<rect x="503.40" y="477.15" width="170.20" height="24.36" fill="#D0E4EE"/>
<rect x="503.40" y="501.51" width="170.20" height="24.36" fill="#D3E6F0"/>
<rect x="503.40" y="525.87" width="170.20" height="24.36" fill="#D0E4EE"/>
<rect x="503.40" y="550.23" width="170.20" height="73.08" fill="#D6E8F1"/>
<rect x="503.40" y="623.31" width="170.20" height="60.90" fill="#B2D2E5"/>
<rect x="503.40" y="684.21" width="170.20" height="36.54" fill="#C9DFEC"/>
<rect x="503.40" y="720.75" width="170.20" height="36.54" fill="#C2DCEA"/>
<rect x="503.40" y="757.29" width="170.20" height="48.72" fill="#8CB4D4"/>
<rect x="503.40" y="806.02" width="170.20" height="24.36" fill="#7BA7CD"/>
<rect x="503.40" y="830.38" width="170.20" height="36.54" fill="#6F9AC5"/>
<rect x="503.40" y="866.92" width="170.20" height="121.80" fill="#3C6FAC"/>
<rect x="503.40" y="988.72" width="170.20" height="48.72" fill="#6390C1"/>
<rect x="503.40" y="1037.44" width="170.20" height="36.54" fill="#4A78B2"/>
<rect x="503.40" y="1073.99" width="170.20" height="73.08" fill="#5583BA"/>
<rect x="503.40" y="1147.07" width="170.20" height="85.26" fill="#CC2A2A"/>
<rect x="503.40" y="1232.33" width="170.20" height="24.36" fill="#D0332F"/>
<rect x="503.40" y="1256.69" width="170.20" height="48.72" fill="#D94B3A"/>
<rect x="503.40" y="1305.41" width="170.20" height="36.54" fill="#DB553F"/>
<rect x="503.40" y="1341.95" width="170.20" height="24.36" fill="#F5DA8E"/>
<rect x="503.40" y="1366.31" width="170.20" height="133.98" fill="#F4D38A"/>
<rect x="503.40" y="1500.30" width="170.20" height="24.36" fill="#F3C881"/>
<rect x="503.40" y="1524.66" width="170.20" height="109.62" fill="#F3BE7B"/>
<rect x="503.40" y="1634.28" width="170.20" height="24.36" fill="#EC8254"/>
<rect x="503.40" y="1658.64" width="170.20" height="60.90" fill="#E97A50"/>
<rect x="503.40" y="1719.55" width="170.20" height="48.72" fill="#E36445"/>
<rect x="503.40" y="1768.27" width="170.20" height="60.90" fill="#E66B49"/>
<rect x="503.40" y="1829.17" width="170.20" height="73.08" fill="#F2A86D"/>
<rect x="503.40" y="1902.25" width="170.20" height="36.54" fill="#F3AE70"/>
<rect x="503.40" y="1938.79" width="170.20" height="36.54" fill="#F2AC6F"/>
<rect x="503.40" y="1975.34" width="170.20" height="24.36" fill="#EE8A59"/>
<rect x="503.40" y="1999.70" width="170.20" height="48.72" fill="#F0A066"/>
<rect x="503.40" y="2048.42" width="170.20" height="73.08" fill="#EF955F"/>
<rect x="673.60" y="318.80" width="169.50" height="73.08" fill="#F2A66C"/>
<rect x="673.60" y="391.88" width="169.50" height="48.72" fill="#F09C65"/>
<rect x="673.60" y="440.60" width="169.50" height="36.54" fill="#EF915D"/>
<rect x="673.60" y="477.15" width="169.50" height="24.36" fill="#F4CD87"/>
<rect x="673.60" y="501.51" width="169.50" height="24.36" fill="#F4CF88"/>
<rect x="673.60" y="525.87" width="169.50" height="24.36" fill="#F4CC86"/>
<rect x="673.60" y="550.23" width="169.50" height="73.08" fill="#F4D38A"/>
<rect x="673.60" y="623.31" width="169.50" height="60.90" fill="#F2AF72"/>
<rect x="673.60" y="684.21" width="169.50" height="36.54" fill="#F3C37F"/>
<rect x="673.60" y="720.75" width="169.50" height="36.54" fill="#F3BD7B"/>
<rect x="673.60" y="757.29" width="169.50" height="48.72" fill="#EE8858"/>
<rect x="673.60" y="806.02" width="169.50" height="24.36" fill="#E8744F"/>
<rect x="673.60" y="830.38" width="169.50" height="36.54" fill="#E36445"/>
<rect x="673.60" y="866.92" width="169.50" height="121.80" fill="#CC2A2A"/>
<rect x="673.60" y="988.72" width="169.50" height="48.72" fill="#DC5640"/>
<rect x="673.60" y="1037.44" width="169.50" height="36.54" fill="#D23935"/>
<rect x="673.60" y="1073.99" width="169.50" height="73.08" fill="#D84A3A"/>
<rect x="673.60" y="1147.07" width="169.50" height="85.26" fill="#3C6FAC"/>
<rect x="673.60" y="1232.33" width="169.50" height="24.36" fill="#4473AF"/>
<rect x="673.60" y="1256.69" width="169.50" height="48.72" fill="#5A88BD"/>
<rect x="673.60" y="1305.41" width="169.50" height="36.54" fill="#6592C2"/>
<rect x="673.60" y="1341.95" width="169.50" height="24.36" fill="#DEECF3"/>
<rect x="673.60" y="1366.31" width="169.50" height="133.98" fill="#D8E9F2"/>
<rect x="673.60" y="1500.30" width="169.50" height="24.36" fill="#CCE2ED"/>
<rect x="673.60" y="1524.66" width="169.50" height="109.62" fill="#C2DCEA"/>
<rect x="673.60" y="1634.28" width="169.50" height="24.36" fill="#85AFD2"/>
<rect x="673.60" y="1658.64" width="169.50" height="60.90" fill="#7DA8CE"/>
<rect x="673.60" y="1719.55" width="169.50" height="48.72" fill="#6F9BC6"/>
<rect x="673.60" y="1768.27" width="169.50" height="60.90" fill="#74A1CB"/>
<rect x="673.60" y="1829.17" width="169.50" height="73.08" fill="#A8CBE0"/>
<rect x="673.60" y="1902.25" width="169.50" height="36.54" fill="#B0D0E4"/>
<rect x="673.60" y="1938.79" width="169.50" height="36.54" fill="#B1D1E4"/>
<rect x="673.60" y="1975.34" width="169.50" height="24.36" fill="#8DB5D5"/>
<rect x="673.60" y="1999.70" width="169.50" height="48.72" fill="#A3C7DE"/>
<rect x="673.60" y="2048.42" width="169.50" height="73.08" fill="#9CC2DC"/>
</g>
<g font-size="13" fill="#1a1a1a" transform="translate(846.40,0) scale(0.775,1)">
<text x="0" y="329.18">COL6A</text>
<text x="0" y="341.36">MYH</text>
<text x="0" y="353.54">TN</text>
<text x="0" y="365.72">BIRC7_8</text>
<text x="0" y="377.90">CDC42</text>
<text x="0" y="390.08">COL1A</text>
<text x="0" y="402.26">BRSK</text>
<text x="0" y="414.44">ROCK2</text>
<text x="0" y="426.62">TTN</text>
<text x="0" y="438.80">ROCK2</text>
<text x="0" y="450.98">COL2A</text>
<text x="0" y="463.16">TN</text>
<text x="0" y="475.35">ROCK2</text>
<text x="0" y="487.53">NLRC4</text>
<text x="0" y="499.71">ELL</text>
<text x="0" y="511.89">COL6A</text>
<text x="0" y="524.07">HMCN</text>
<text x="0" y="536.25">FLT1</text>
<text x="0" y="548.43">COL6A</text>
<text x="0" y="560.61">DIAPH1</text>
<text x="0" y="572.79">PPP1C</text>
<text x="0" y="584.97">BIRC2_3</text>
<text x="0" y="597.15">COL6A</text>
<text x="0" y="609.33">ANGPT2</text>
<text x="0" y="621.51">MYH</text>
<text x="0" y="633.69">BIRC2_3</text>
<text x="0" y="645.87">BIRC2_3</text>
<text x="0" y="658.05">BIRC7_8</text>
<text x="0" y="670.23">MYH</text>
<text x="0" y="682.41">BIRC2_3</text>
<text x="0" y="694.59">MYH</text>
<text x="0" y="706.77">NLRP3</text>
<text x="0" y="718.95">BIRC2_3</text>
<text x="0" y="731.13">MYLK</text>
<text x="0" y="743.31">MYH</text>
<text x="0" y="755.49">MYH</text>
<text x="0" y="767.68">BIRC7_8</text>
<text x="0" y="779.86">ROCK2</text>
<text x="0" y="792.04">MYH</text>
<text x="0" y="804.22">NLRP3</text>
<text x="0" y="816.40">BIRC2_3</text>
<text x="0" y="828.58">COL10A</text>
<text x="0" y="840.76">ROCK2</text>
<text x="0" y="852.94">BIRC2_3</text>
<text x="0" y="865.12">COL7A</text>
<text x="0" y="877.30">MYH</text>
<text x="0" y="889.48">COL10A</text>
<text x="0" y="901.66">MATN3</text>
<text x="0" y="913.84">CAPRIN2</text>
<text x="0" y="926.02">CAPRIN2</text>
<text x="0" y="938.20">ROCK2</text>
<text x="0" y="950.38">ERCC4</text>
<text x="0" y="962.56">TN</text>
<text x="0" y="974.74">FLT1</text>
<text x="0" y="986.92">COL4A</text>
<text x="0" y="999.10">β−integrin</text>
<text x="0" y="1011.28">BIRC7_8</text>
<text x="0" y="1023.46">FCN−2</text>
<text x="0" y="1035.64">BIRC2_3</text>
<text x="0" y="1047.82">COL6A</text>
<text x="0" y="1060.00">ERCC4</text>
<text x="0" y="1072.19">UMOD</text>
<text x="0" y="1084.37">SENP1</text>
<text x="0" y="1096.55">COL7A</text>
<text x="0" y="1108.73">SYCE1</text>
<text x="0" y="1120.91">MYH</text>
<text x="0" y="1133.09">RPB1</text>
<text x="0" y="1145.27">NLRC4</text>
<text x="0" y="1157.45">BIRC2_3</text>
<text x="0" y="1169.63">NLRP3</text>
<text x="0" y="1181.81">TLN</text>
<text x="0" y="1193.99">COL6A</text>
<text x="0" y="1206.17">COL6A</text>
<text x="0" y="1218.35">EPHA5</text>
<text x="0" y="1230.53">β−actin</text>
<text x="0" y="1242.71">SOS</text>
<text x="0" y="1254.89">FLNA</text>
<text x="0" y="1267.07">β−actin</text>
<text x="0" y="1279.25">EPHA5</text>
<text x="0" y="1291.43">PIK3CA_B_D</text>
<text x="0" y="1303.61">WIPF</text>
<text x="0" y="1315.79">EGFR</text>
<text x="0" y="1327.97">MET</text>
<text x="0" y="1340.15">C1QTNF6</text>
<text x="0" y="1352.33">HSP2</text>
<text x="0" y="1364.51">LAMA3_5</text>
<text x="0" y="1376.70">ZAK</text>
<text x="0" y="1388.88">α−integrin</text>
<text x="0" y="1401.06">MAPK1_3</text>
<text x="0" y="1413.24">LAMB1</text>
<text x="0" y="1425.42">β−actin</text>
<text x="0" y="1437.60">FLNA</text>
<text x="0" y="1449.78">COL6A</text>
<text x="0" y="1461.96">ECEL1</text>
<text x="0" y="1474.14">β−actin</text>
<text x="0" y="1486.32">LAMC1</text>
<text x="0" y="1498.50">MYH</text>
<text x="0" y="1510.68">TSF</text>
<text x="0" y="1522.86">TN</text>
<text x="0" y="1535.04">BIRC2_3</text>
<text x="0" y="1547.22">CTNNA</text>
<text x="0" y="1559.40">BIRC2_3</text>
<text x="0" y="1571.58">COX11</text>
<text x="0" y="1583.76">TLN</text>
<text x="0" y="1595.94">ELN</text>
<text x="0" y="1608.12">TCHH</text>
<text x="0" y="1620.30">PRKCA</text>
<text x="0" y="1632.48">TLN</text>
<text x="0" y="1644.66">FLNA</text>
<text x="0" y="1656.84">YES1</text>
<text x="0" y="1669.03">BIRC2_3</text>
<text x="0" y="1681.21">NLRP3</text>
<text x="0" y="1693.39">CSMD</text>
<text x="0" y="1705.57">NLRC4</text>
<text x="0" y="1717.75">USH2A</text>
<text x="0" y="1729.93">Notch 1</text>
<text x="0" y="1742.11">PPP1R12A</text>
<text x="0" y="1754.29">α−integrin</text>
<text x="0" y="1766.47">FCN</text>
<text x="0" y="1778.65">α−integrin</text>
<text x="0" y="1790.83">β−actin</text>
<text x="0" y="1803.01">ERCC4</text>
<text x="0" y="1815.19">FLT1</text>
<text x="0" y="1827.37">BIRC2_3</text>
<text x="0" y="1839.55">BIRC2_3</text>
<text x="0" y="1851.73">COL6A</text>
<text x="0" y="1863.91">BIRC2_3</text>
<text x="0" y="1876.09">RAPGEF1</text>
<text x="0" y="1888.27">YES1</text>
<text x="0" y="1900.45">DOCK1</text>
<text x="0" y="1912.63">FLNA−2</text>
<text x="0" y="1924.81">THBS2S</text>
<text x="0" y="1936.99">PTK2</text>
<text x="0" y="1949.17">BIRC2_3</text>
<text x="0" y="1961.35">SOS−1</text>
<text x="0" y="1973.54">DOCK1</text>
<text x="0" y="1985.72">COL6A</text>
<text x="0" y="1997.90">LAMA3_5</text>
<text x="0" y="2010.08">TN</text>
<text x="0" y="2022.26">NLRP3</text>
<text x="0" y="2034.44">NLRC4</text>
<text x="0" y="2046.62">DOCK1</text>
<text x="0" y="2058.80">α−integrin</text>
<text x="0" y="2070.98">YIF1</text>
<text x="0" y="2083.16">DIAPH2</text>
<text x="0" y="2095.34">ACIN1</text>
<text x="0" y="2107.52">C1QG</text>
<text x="0" y="2119.70">BIRC2_3</text>
</g>
<g shape-rendering="crispEdges">
<rect x="1008.00" y="317.30" width="167.90" height="44.05" fill="#F3BF7C"/>
<rect x="1008.00" y="361.35" width="167.90" height="146.83" fill="#F4D28A"/>
<rect x="1008.00" y="508.18" width="167.90" height="29.37" fill="#EF9A63"/>
<rect x="1008.00" y="537.54" width="167.90" height="29.37" fill="#EE945F"/>
<rect x="1008.00" y="566.91" width="167.90" height="29.37" fill="#F3B677"/>
<rect x="1008.00" y="596.27" width="167.90" height="44.05" fill="#F2B274"/>
<rect x="1008.00" y="640.32" width="167.90" height="58.73" fill="#CC2A2A"/>
<rect x="1008.00" y="699.05" width="167.90" height="29.37" fill="#D5432F"/>
<rect x="1008.00" y="728.42" width="167.90" height="29.37" fill="#DC5740"/>
<rect x="1008.00" y="757.78" width="167.90" height="29.37" fill="#D94F3C"/>
<rect x="1008.00" y="787.15" width="167.90" height="44.05" fill="#E26646"/>
<rect x="1008.00" y="831.20" width="167.90" height="44.05" fill="#EF8C5B"/>
<rect x="1008.00" y="875.25" width="167.90" height="58.73" fill="#EC8255"/>
<rect x="1008.00" y="933.98" width="167.90" height="58.73" fill="#E8744E"/>
<rect x="1008.00" y="992.71" width="167.90" height="44.05" fill="#3C6FAC"/>
<rect x="1008.00" y="1036.76" width="167.90" height="29.37" fill="#4A78B2"/>
<rect x="1008.00" y="1066.12" width="167.90" height="29.37" fill="#D8E9F2"/>
<rect x="1008.00" y="1095.49" width="167.90" height="29.37" fill="#CCE2ED"/>
<rect x="1008.00" y="1124.85" width="167.90" height="14.68" fill="#BBD8E8"/>
<rect x="1008.00" y="1139.54" width="167.90" height="44.05" fill="#ADCFE3"/>
<rect x="1008.00" y="1183.59" width="167.90" height="14.68" fill="#86B0D3"/>
<rect x="1008.00" y="1198.27" width="167.90" height="58.73" fill="#9CC2DC"/>
<rect x="1175.90" y="317.30" width="167.50" height="44.05" fill="#CCE2ED"/>
<rect x="1175.90" y="361.35" width="167.50" height="146.83" fill="#D8E9F2"/>
<rect x="1175.90" y="508.18" width="167.50" height="29.37" fill="#A6C9E0"/>
<rect x="1175.90" y="537.54" width="167.50" height="29.37" fill="#A0C5DD"/>
<rect x="1175.90" y="566.91" width="167.50" height="29.37" fill="#BBD8E8"/>
<rect x="1175.90" y="596.27" width="167.50" height="44.05" fill="#B8D6E8"/>
<rect x="1175.90" y="640.32" width="167.50" height="58.73" fill="#3C6FAC"/>
<rect x="1175.90" y="699.05" width="167.50" height="29.37" fill="#5080B8"/>
<rect x="1175.90" y="728.42" width="167.50" height="29.37" fill="#6592C2"/>
<rect x="1175.90" y="757.78" width="167.50" height="29.37" fill="#5F8DC0"/>
<rect x="1175.90" y="787.15" width="167.50" height="44.05" fill="#6F9BC6"/>
<rect x="1175.90" y="831.20" width="167.50" height="44.05" fill="#92BAD6"/>
<rect x="1175.90" y="875.25" width="167.50" height="58.73" fill="#86B0D3"/>
<rect x="1175.90" y="933.98" width="167.50" height="58.73" fill="#7AA6CD"/>
<rect x="1175.90" y="992.71" width="167.50" height="44.05" fill="#CC2A2A"/>
<rect x="1175.90" y="1036.76" width="167.50" height="29.37" fill="#D0362F"/>
<rect x="1175.90" y="1066.12" width="167.50" height="29.37" fill="#F5D58B"/>
<rect x="1175.90" y="1095.49" width="167.50" height="29.37" fill="#F4C882"/>
<rect x="1175.90" y="1124.85" width="167.50" height="14.68" fill="#F3B677"/>
<rect x="1175.90" y="1139.54" width="167.50" height="44.05" fill="#F2AA6F"/>
<rect x="1175.90" y="1183.59" width="167.50" height="14.68" fill="#EC8455"/>
<rect x="1175.90" y="1198.27" width="167.50" height="58.73" fill="#F0985F"/>
</g>
<g font-size="12.5" fill="#1a1a1a" transform="translate(1345.20,0) scale(1.0,1)">
<text x="0" y="331.98">TJP1</text>
<text x="0" y="346.67">CTNNA</text>
<text x="0" y="361.35">IQGAP1</text>
<text x="0" y="376.03">β−actin</text>
<text x="0" y="390.71">PTPRB</text>
<text x="0" y="405.40">PTPRK</text>
<text x="0" y="420.08">CREBBP</text>
<text x="0" y="434.76">WIPF</text>
<text x="0" y="449.45">β−actin</text>
<text x="0" y="464.13">MAPK1_3</text>
<text x="0" y="478.81">PTPRB</text>
<text x="0" y="493.49">PTPRK</text>
<text x="0" y="508.18">PTPRK</text>
<text x="0" y="522.86">TJP1</text>
<text x="0" y="537.54">YES1</text>
<text x="0" y="552.23">INSR</text>
<text x="0" y="566.91">MED25</text>
<text x="0" y="581.59">CREBBP</text>
<text x="0" y="596.27">PTPRK</text>
<text x="0" y="610.96">PTPRT</text>
<text x="0" y="625.64">PTPRA</text>
<text x="0" y="640.32">PTPRA</text>
<text x="0" y="655.00">PTPRM</text>
<text x="0" y="669.69">β−actin</text>
<text x="0" y="684.37">FMN2</text>
<text x="0" y="699.05">TIE1</text>
<text x="0" y="713.74">β−actin</text>
<text x="0" y="728.42">WIPF</text>
<text x="0" y="743.10">PARD3</text>
<text x="0" y="757.78">EGFR</text>
<text x="0" y="772.47">MET</text>
<text x="0" y="787.15">MED25</text>
<text x="0" y="801.83">INSR</text>
<text x="0" y="816.52">MED25</text>
<text x="0" y="831.20">IQGAP1</text>
<text x="0" y="845.88">FAT4</text>
<text x="0" y="860.56">MED25</text>
<text x="0" y="875.25">ANKRD50</text>
<text x="0" y="889.93">YES1</text>
<text x="0" y="904.61">PTPRK</text>
<text x="0" y="919.30">INSR−3</text>
<text x="0" y="933.98">CARD10</text>
<text x="0" y="948.66">β−actin</text>
<text x="0" y="963.34">PAP</text>
<text x="0" y="978.03">NCAM</text>
<text x="0" y="992.71">USH2A</text>
<text x="0" y="1007.39">MED25</text>
<text x="0" y="1022.08">PTPRF</text>
<text x="0" y="1036.76">FARP2</text>
<text x="0" y="1051.44">MED25</text>
<text x="0" y="1066.12">UMOD</text>
<text x="0" y="1080.81">DIAPH1</text>
<text x="0" y="1095.49">PTPRF</text>
<text x="0" y="1110.17">WASF2</text>
<text x="0" y="1124.85">PTPRK</text>
<text x="0" y="1139.54">PTPRK</text>
<text x="0" y="1154.22">PAXIP1</text>
<text x="0" y="1168.90">CDC42</text>
<text x="0" y="1183.59">MLL2</text>
<text x="0" y="1198.27">MED25</text>
<text x="0" y="1212.95">CASR</text>
<text x="0" y="1227.63">MED25</text>
<text x="0" y="1242.32">PTPRK</text>
<text x="0" y="1257.00">MED25</text>
</g>
<g shape-rendering="crispEdges">
<rect x="1007.30" y="1321.80" width="166.70" height="43.22" fill="#F2AC6F"/>
<rect x="1007.30" y="1365.02" width="166.70" height="21.61" fill="#F1A268"/>
<rect x="1007.30" y="1386.63" width="166.70" height="32.42" fill="#EF985F"/>
<rect x="1007.30" y="1419.05" width="166.70" height="64.83" fill="#F4D08A"/>
<rect x="1007.30" y="1483.88" width="166.70" height="43.22" fill="#F3BE7B"/>
<rect x="1007.30" y="1527.10" width="166.70" height="10.81" fill="#D84C3A"/>
<rect x="1007.30" y="1537.91" width="166.70" height="10.81" fill="#D23C33"/>
<rect x="1007.30" y="1548.71" width="166.70" height="10.81" fill="#CC2A2A"/>
<rect x="1007.30" y="1559.52" width="166.70" height="64.83" fill="#E26446"/>
<rect x="1007.30" y="1624.35" width="166.70" height="43.22" fill="#EF955F"/>
<rect x="1007.30" y="1667.57" width="166.70" height="10.81" fill="#EC8455"/>
<rect x="1007.30" y="1678.38" width="166.70" height="43.22" fill="#4A78B2"/>
<rect x="1007.30" y="1721.60" width="166.70" height="64.83" fill="#3C6FAC"/>
<rect x="1007.30" y="1786.43" width="166.70" height="32.42" fill="#6F9AC5"/>
<rect x="1007.30" y="1818.85" width="166.70" height="21.61" fill="#5181B8"/>
<rect x="1007.30" y="1840.46" width="166.70" height="21.61" fill="#5A88BD"/>
<rect x="1007.30" y="1862.07" width="166.70" height="43.22" fill="#D8E9F2"/>
<rect x="1007.30" y="1905.29" width="166.70" height="54.03" fill="#C0DAE9"/>
<rect x="1007.30" y="1959.32" width="166.70" height="32.42" fill="#CFE4EE"/>
<rect x="1007.30" y="1991.74" width="166.70" height="10.81" fill="#98BFD9"/>
<rect x="1007.30" y="2002.54" width="166.70" height="32.42" fill="#A8CBE1"/>
<rect x="1007.30" y="2034.96" width="166.70" height="43.22" fill="#9FC4DD"/>
<rect x="1007.30" y="2078.18" width="166.70" height="21.61" fill="#86B0D3"/>
<rect x="1007.30" y="2099.79" width="166.70" height="10.81" fill="#7BA7CD"/>
<rect x="1007.30" y="2110.59" width="166.70" height="10.81" fill="#77A4CD"/>
<rect x="1174.00" y="1321.80" width="165.70" height="43.22" fill="#B6D5E7"/>
<rect x="1174.00" y="1365.02" width="165.70" height="21.61" fill="#A9CCE1"/>
<rect x="1174.00" y="1386.63" width="165.70" height="32.42" fill="#9EC4DC"/>
<rect x="1174.00" y="1419.05" width="165.70" height="64.83" fill="#D8E9F2"/>
<rect x="1174.00" y="1483.88" width="165.70" height="43.22" fill="#C3DCEA"/>
<rect x="1174.00" y="1527.10" width="165.70" height="10.81" fill="#5A88BD"/>
<rect x="1174.00" y="1537.91" width="165.70" height="10.81" fill="#4A78B2"/>
<rect x="1174.00" y="1548.71" width="165.70" height="10.81" fill="#3C6FAC"/>
<rect x="1174.00" y="1559.52" width="165.70" height="64.83" fill="#709BC6"/>
<rect x="1174.00" y="1624.35" width="165.70" height="43.22" fill="#9DC3DC"/>
<rect x="1174.00" y="1667.57" width="165.70" height="10.81" fill="#86B0D3"/>
<rect x="1174.00" y="1678.38" width="165.70" height="43.22" fill="#D03630"/>
<rect x="1174.00" y="1721.60" width="165.70" height="64.83" fill="#CC2A2A"/>
<rect x="1174.00" y="1786.43" width="165.70" height="32.42" fill="#E26446"/>
<rect x="1174.00" y="1818.85" width="165.70" height="21.61" fill="#D64738"/>
<rect x="1174.00" y="1840.46" width="165.70" height="21.61" fill="#D84C3A"/>
<rect x="1174.00" y="1862.07" width="165.70" height="43.22" fill="#F5D58B"/>
<rect x="1174.00" y="1905.29" width="165.70" height="54.03" fill="#F3BC7A"/>
<rect x="1174.00" y="1959.32" width="165.70" height="32.42" fill="#F4CD87"/>
<rect x="1174.00" y="1991.74" width="165.70" height="10.81" fill="#EF935E"/>
<rect x="1174.00" y="2002.54" width="165.70" height="32.42" fill="#F2A66C"/>
<rect x="1174.00" y="2034.96" width="165.70" height="43.22" fill="#F09E66"/>
<rect x="1174.00" y="2078.18" width="165.70" height="21.61" fill="#EC8455"/>
<rect x="1174.00" y="2099.79" width="165.70" height="10.81" fill="#E9784F"/>
<rect x="1174.00" y="2110.59" width="165.70" height="10.81" fill="#E66D4A"/>
</g>
<g font-size="13" fill="#1a1a1a" transform="translate(1343.30,0) scale(0.8,1)">
<text x="0" y="1332.61">PIKFYVE</text>
<text x="0" y="1343.41">PTK2</text>
<text x="0" y="1354.22">SOS</text>
<text x="0" y="1365.02">DOCK1</text>
<text x="0" y="1375.83">FGFR3</text>
<text x="0" y="1386.63">DOCK1</text>
<text x="0" y="1397.44">DOCK1</text>
<text x="0" y="1408.24">PIP4K2</text>
<text x="0" y="1419.05">HMCN</text>
<text x="0" y="1429.85">ECEL1</text>
<text x="0" y="1440.66">PFN</text>
<text x="0" y="1451.46">MYH</text>
<text x="0" y="1462.27">TCHH</text>
<text x="0" y="1473.08">ZAK</text>
<text x="0" y="1483.88">ITGA9</text>
<text x="0" y="1494.69">ELN</text>
<text x="0" y="1505.49">TCHH</text>
<text x="0" y="1516.30">FGFR3</text>
<text x="0" y="1527.10">FGFR3</text>
<text x="0" y="1537.91">PIK3CA_B_D</text>
<text x="0" y="1548.71">SOS</text>
<text x="0" y="1559.52">FGFR3</text>
<text x="0" y="1570.32">PPP1R12A</text>
<text x="0" y="1581.13">DIAPH2</text>
<text x="0" y="1591.94">ITGA6</text>
<text x="0" y="1602.74">GNA12</text>
<text x="0" y="1613.55">ITGA6</text>
<text x="0" y="1624.35">ERCC4</text>
<text x="0" y="1635.16">ITGA8</text>
<text x="0" y="1645.96">DIAPH2</text>
<text x="0" y="1656.77">ACIN1</text>
<text x="0" y="1667.57">GALNT</text>
<text x="0" y="1678.38">FGFR3</text>
<text x="0" y="1689.18">CCKAR</text>
<text x="0" y="1699.99">PFN</text>
<text x="0" y="1710.79">MOS</text>
<text x="0" y="1721.60">ERCC4</text>
<text x="0" y="1732.41">ROCK2</text>
<text x="0" y="1743.21">ERCC4</text>
<text x="0" y="1754.02">TACR</text>
<text x="0" y="1764.82">TACR</text>
<text x="0" y="1775.63">LIMK1</text>
<text x="0" y="1786.43">MYH</text>
<text x="0" y="1797.24">ROCK2</text>
<text x="0" y="1808.04">FGFR3</text>
<text x="0" y="1818.85">COL7A</text>
<text x="0" y="1829.65">β−integrin 1</text>
<text x="0" y="1840.46">SENP1</text>
<text x="0" y="1851.26">MYH</text>
<text x="0" y="1862.07">SYCE1</text>
<text x="0" y="1872.88">PPP1C</text>
<text x="0" y="1883.68">FGFR3</text>
<text x="0" y="1894.49">MYH</text>
<text x="0" y="1905.29">TPCN1</text>
<text x="0" y="1916.10">MYH</text>
<text x="0" y="1926.90">MYLK</text>
<text x="0" y="1937.71">F2</text>
<text x="0" y="1948.51">MYH</text>
<text x="0" y="1959.32">MYH</text>
<text x="0" y="1970.12">ELL</text>
<text x="0" y="1980.93">GNG12</text>
<text x="0" y="1991.74">MYH</text>
<text x="0" y="2002.54">ROCK2</text>
<text x="0" y="2013.35">MYH</text>
<text x="0" y="2024.15">FGF</text>
<text x="0" y="2034.96">FAT1_2_3</text>
<text x="0" y="2045.76">BRSK</text>
<text x="0" y="2056.57">ROCK2</text>
<text x="0" y="2067.37">TTN</text>
<text x="0" y="2078.18">ROCK2</text>
<text x="0" y="2088.98">MYH</text>
<text x="0" y="2099.79">ROCK2</text>
<text x="0" y="2110.59">EXT2</text>
<text x="0" y="2121.40">FAT1_2_3</text>
</g>
<linearGradient id="lg430325" x1="0" y1="0" x2="0" y2="1"><stop offset="0" stop-color="#D43A35"/><stop offset="0.15" stop-color="#EE6E47"/><stop offset="0.27" stop-color="#F79E5E"/><stop offset="0.34" stop-color="#F6BE72"/><stop offset="0.42" stop-color="#F3DD84"/><stop offset="0.5" stop-color="#F0EEA6"/><stop offset="0.6" stop-color="#E3EFD9"/><stop offset="0.67" stop-color="#D0E8F1"/><stop offset="0.74" stop-color="#ABD2E6"/><stop offset="0.86" stop-color="#6F9CC8"/><stop offset="1" stop-color="#4874B2"/></linearGradient>
<rect x="430.1" y="325.2" width="7.30" height="112.60" fill="url(#lg430325)"/>
<g font-size="25" fill="#111" transform="translate(441,0) scale(0.93,1)">
<text x="0" y="328.1">1</text>
<text x="0" y="350.7">0.8</text>
<text x="0" y="373">0.6</text>
<text x="0" y="395.6">0.4</text>
<text x="0" y="417.8">0.2</text>
<text x="0" y="440.7">0</text>
</g>
<linearGradient id="lg898340" x1="0" y1="0" x2="0" y2="1"><stop offset="0" stop-color="#D43A35"/><stop offset="0.15" stop-color="#EE6E47"/><stop offset="0.27" stop-color="#F79E5E"/><stop offset="0.34" stop-color="#F6BE72"/><stop offset="0.42" stop-color="#F3DD84"/><stop offset="0.5" stop-color="#F0EEA6"/><stop offset="0.6" stop-color="#E3EFD9"/><stop offset="0.67" stop-color="#D0E8F1"/><stop offset="0.74" stop-color="#ABD2E6"/><stop offset="0.86" stop-color="#6F9CC8"/><stop offset="1" stop-color="#4874B2"/></linearGradient>
<rect x="898.1" y="340.2" width="7.70" height="114.20" fill="url(#lg898340)"/>
<g font-size="25" fill="#111" transform="translate(909.6,0) scale(0.93,1)">
<text x="0" y="343.7">1</text>
<text x="0" y="366.7">0.8</text>
<text x="0" y="389.3">0.6</text>
<text x="0" y="411.9">0.4</text>
<text x="0" y="434.4">0.2</text>
<text x="0" y="457.4">0</text>
</g>
<linearGradient id="lg1426317" x1="0" y1="0" x2="0" y2="1"><stop offset="0" stop-color="#D43A35"/><stop offset="0.15" stop-color="#EE6E47"/><stop offset="0.27" stop-color="#F79E5E"/><stop offset="0.34" stop-color="#F6BE72"/><stop offset="0.42" stop-color="#F3DD84"/><stop offset="0.5" stop-color="#F0EEA6"/><stop offset="0.6" stop-color="#E3EFD9"/><stop offset="0.67" stop-color="#D0E8F1"/><stop offset="0.74" stop-color="#ABD2E6"/><stop offset="0.86" stop-color="#6F9CC8"/><stop offset="1" stop-color="#4874B2"/></linearGradient>
<rect x="1426.8" y="317.1" width="8.40" height="130.40" fill="url(#lg1426317)"/>
<g font-size="24.5" fill="#111" transform="translate(1439.6,0) scale(0.95,1)">
<text x="0" y="320.4">1</text>
<text x="0" y="346.3">0.8</text>
<text x="0" y="372.5">0.6</text>
<text x="0" y="398.3">0.4</text>
<text x="0" y="424.2">0.2</text>
<text x="0" y="450.4">0</text>
</g>
<linearGradient id="lg14331322" x1="0" y1="0" x2="0" y2="1"><stop offset="0" stop-color="#D43A35"/><stop offset="0.15" stop-color="#EE6E47"/><stop offset="0.27" stop-color="#F79E5E"/><stop offset="0.34" stop-color="#F6BE72"/><stop offset="0.42" stop-color="#F3DD84"/><stop offset="0.5" stop-color="#F0EEA6"/><stop offset="0.6" stop-color="#E3EFD9"/><stop offset="0.67" stop-color="#D0E8F1"/><stop offset="0.74" stop-color="#ABD2E6"/><stop offset="0.86" stop-color="#6F9CC8"/><stop offset="1" stop-color="#4874B2"/></linearGradient>
<rect x="1433.9" y="1322.8" width="6.80" height="110.30" fill="url(#lg14331322)"/>
<g font-size="25" fill="#111" transform="translate(1444.8,0) scale(0.93,1)">
<text x="0" y="1325.7">1</text>
<text x="0" y="1348">0.8</text>
<text x="0" y="1370.6">0.6</text>
<text x="0" y="1393.1">0.4</text>
<text x="0" y="1415.4">0.2</text>
<text x="0" y="1438.3">0</text>
</g>
<text transform="translate(20.8,1265.7) rotate(-90)" font-size="25" textLength="99" lengthAdjust="spacingAndGlyphs" fill="#111">Lysosome</text>
<text transform="translate(479.2,1092.5) rotate(-90)" font-size="25" textLength="149.2" lengthAdjust="spacingAndGlyphs" fill="#111">Focal adhesion</text>
<text transform="translate(980.2,858) rotate(-90)" font-size="25" textLength="163.4" lengthAdjust="spacingAndGlyphs" fill="#111">Adherens junction</text>
<text transform="translate(989.8,1846) rotate(-90)" font-size="25" textLength="280.6" lengthAdjust="spacingAndGlyphs" fill="#111">Regulation of actin cytoskeleton</text>
<text x="73.2" y="2154.3" font-size="25" text-anchor="start" textLength="62.0" lengthAdjust="spacingAndGlyphs" fill="#111">PH 6h</text>
<text x="246.1" y="2157.0" font-size="25" text-anchor="start" textLength="63.7" lengthAdjust="spacingAndGlyphs" fill="#111">BH 6h</text>
<text x="559.0" y="2156.0" font-size="25" text-anchor="start" textLength="62.0" lengthAdjust="spacingAndGlyphs" fill="#111">PH 6h</text>
<text x="717.0" y="2156.0" font-size="25" text-anchor="start" textLength="64.0" lengthAdjust="spacingAndGlyphs" fill="#111">BH 6h</text>
<text x="1055.8" y="1288.0" font-size="25" text-anchor="start" textLength="61.8" lengthAdjust="spacingAndGlyphs" fill="#111">PH 6h</text>
<text x="1228.7" y="1288.0" font-size="25" text-anchor="start" textLength="64.3" lengthAdjust="spacingAndGlyphs" fill="#111">BH 6h</text>
<text x="1055.8" y="2156.0" font-size="25" text-anchor="start" textLength="62.2" lengthAdjust="spacingAndGlyphs" fill="#111">PH 6h</text>
<text x="1215.6" y="2156.0" font-size="25" text-anchor="start" textLength="64.0" lengthAdjust="spacingAndGlyphs" fill="#111">BH 6h</text>
<text x="0" y="24.2" font-family='"Liberation Sans", sans-serif' font-weight="bold" font-size="30" fill="#000">A</text>
<text x="472.5" y="24.2" font-family='"Liberation Sans", sans-serif' font-weight="bold" font-size="30" fill="#000">B</text>
<text x="973.5" y="24.4" font-family='"Liberation Sans", sans-serif' font-weight="bold" font-size="30" fill="#000">C</text>
<text x="-0.3" y="317.2" font-family='"Liberation Sans", sans-serif' font-weight="bold" font-size="30" fill="#000">D</text>
<text x="472.4" y="317.2" font-family='"Liberation Sans", sans-serif' font-weight="bold" font-size="30" fill="#000">E</text>
<text x="973.8" y="317.2" font-family='"Liberation Sans", sans-serif' font-weight="bold" font-size="30" fill="#000">F</text>
<text x="973.8" y="1341" font-family='"Liberation Sans", sans-serif' font-weight="bold" font-size="30" fill="#000">G</text>
</svg>
</body></html>
